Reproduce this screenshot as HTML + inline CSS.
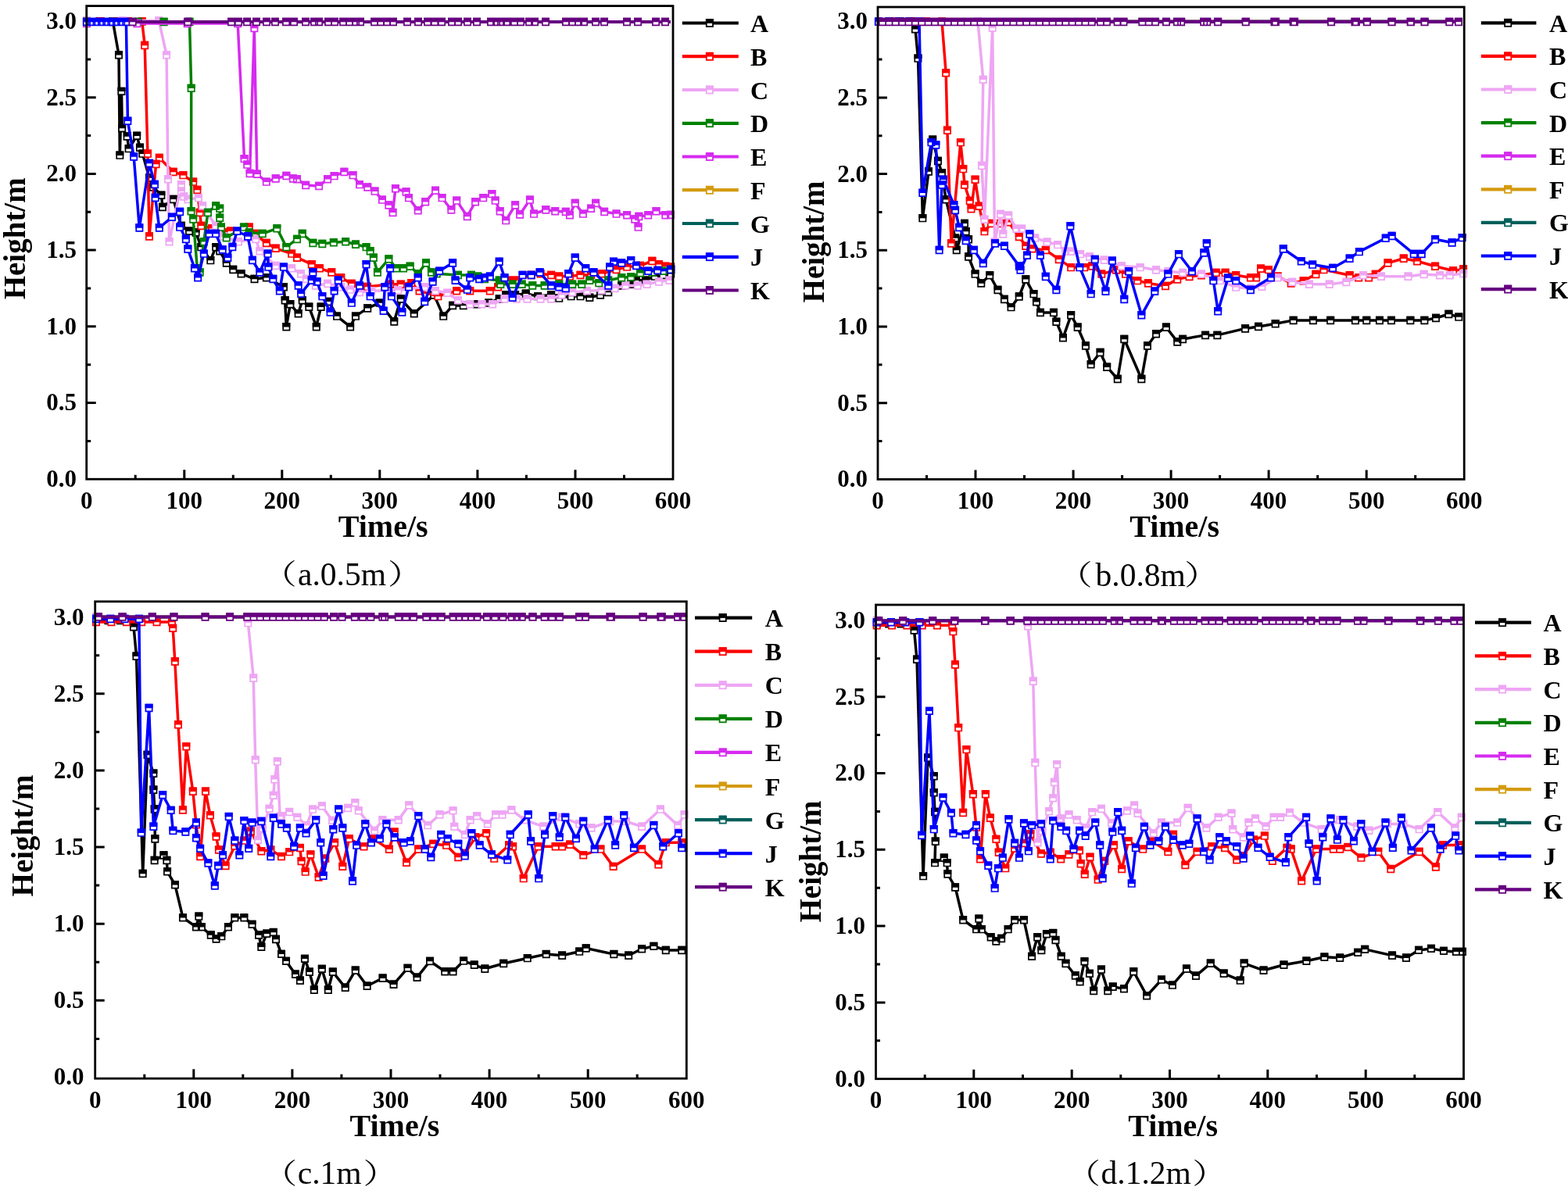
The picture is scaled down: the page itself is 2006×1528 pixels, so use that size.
<!DOCTYPE html>
<html><head><meta charset="utf-8"><title>Height vs Time</title>
<style>
html,body{margin:0;padding:0;background:#fff;}
body{width:2006px;height:1528px;overflow:hidden;}
svg{display:block;}
text{font-family:"Liberation Serif","Noto Serif CJK SC",serif;fill:#000;}
.tl text{font-size:31px;font-weight:bold;}
.at{font-size:40px;font-weight:bold;}
.ht{font-size:39px;font-weight:bold;}
.lg{font-size:32px;font-weight:bold;}
.cap{font-size:41.5px;}
.par{font-size:36px;}
</style></head><body>
<svg width="2006" height="1528" viewBox="0 0 2006 1528">
<rect width="2006" height="1528" fill="#fff"/>
<path d="M173.2 613.2 v-5.5 M235.8 613.2 v-12 M298.3 613.2 v-5.5 M360.8 613.2 v-12 M423.3 613.2 v-5.5 M485.8 613.2 v-12 M548.4 613.2 v-5.5 M610.9 613.2 v-12 M673.4 613.2 v-5.5 M736 613.2 v-12 M798.5 613.2 v-5.5 M110.7 564.4 h5.5 M110.7 515.5 h12 M110.7 466.7 h5.5 M110.7 417.8 h12 M110.7 369 h5.5 M110.7 320.1 h12 M110.7 271.3 h5.5 M110.7 222.4 h12 M110.7 173.6 h5.5 M110.7 124.7 h12 M110.7 75.9 h5.5 M110.7 27 h12" stroke="#000" stroke-width="3" fill="none"/>
<path d="M111 27.5 L127.7 27.5 L144.4 27.5 L152 70.4 L153.3 198.7 L155.5 116.9 L156.2 164 L162.7 174.5 L164.7 190.2 L175.2 173.8 L179 188.8 L182.4 196.7 L191 227.6 L196 239.6 L206.4 249.8 L208 265 L221.7 254.9 L231.9 289 L242.1 295.7 L250.6 297.4 L257.4 316.1 L269.3 333.1 L276.1 316.1 L281.2 321.2 L289.7 336.5 L298.2 345 L308.5 350.2 L325.5 357 L340.8 355.3 L362.9 367.2 L364.6 384.2 L366.3 418.2 L371.4 389.3 L381.6 401.2 L386.7 384.2 L395.3 392.7 L404.7 418.2 L410.6 392.7 L420.8 385.9 L431 404.6 L448.1 418.2 L454.9 404.6 L470.2 394.4 L485.5 387.6 L504.2 411.4 L512.7 382.5 L529.7 401.2 L555.3 377.4 L567.2 404.6 L579.1 391 L592.7 391 L609.7 389.3 L625 387.6 L638.7 382.5 L647.2 377.4 L659.1 377.4 L672.7 375.7 L688.1 379.1 L705.1 377.4 L715.3 381.6 L730.6 379.1 L742.5 379.1 L754.4 380.8 L768 377.4 L778.2 374 L795.3 365.5 L807.2 363.8 L814 358.7 L825.9 358.7 L837.8 353.6 L848 351.9 L858.2 350.2" fill="none" stroke="#000000" stroke-width="3.5" stroke-linejoin="round"/>
<path d="M106.8 23.2h8.3v8.7h-8.3zM123.5 23.2h8.3v8.7h-8.3zM140.2 23.2h8.3v8.7h-8.3zM147.8 66h8.3v8.7h-8.3zM149.2 194.3h8.3v8.7h-8.3zM151.3 112.5h8.3v8.7h-8.3zM152 159.7h8.3v8.7h-8.3zM158.5 170.2h8.3v8.7h-8.3zM160.5 185.8h8.3v8.7h-8.3zM171 169.5h8.3v8.7h-8.3zM174.8 184.5h8.3v8.7h-8.3zM178.2 192.3h8.3v8.7h-8.3zM186.8 223.2h8.3v8.7h-8.3zM191.8 235.2h8.3v8.7h-8.3zM202.2 245.5h8.3v8.7h-8.3zM203.8 260.7h8.3v8.7h-8.3zM217.5 250.6h8.3v8.7h-8.3zM227.8 284.7h8.3v8.7h-8.3zM237.9 291.4h8.3v8.7h-8.3zM246.4 293.1h8.3v8.7h-8.3zM253.2 311.8h8.3v8.7h-8.3zM265.2 328.8h8.3v8.7h-8.3zM272 311.8h8.3v8.7h-8.3zM277.1 316.9h8.3v8.7h-8.3zM285.6 332.2h8.3v8.7h-8.3zM294.1 340.7h8.3v8.7h-8.3zM304.4 345.9h8.3v8.7h-8.3zM321.4 352.7h8.3v8.7h-8.3zM336.7 351h8.3v8.7h-8.3zM358.8 362.9h8.3v8.7h-8.3zM360.5 379.9h8.3v8.7h-8.3zM362.2 413.9h8.3v8.7h-8.3zM367.2 385h8.3v8.7h-8.3zM377.5 396.9h8.3v8.7h-8.3zM382.6 379.9h8.3v8.7h-8.3zM391.2 388.4h8.3v8.7h-8.3zM400.6 413.9h8.3v8.7h-8.3zM406.5 388.4h8.3v8.7h-8.3zM416.7 381.6h8.3v8.7h-8.3zM426.9 400.3h8.3v8.7h-8.3zM444 413.9h8.3v8.7h-8.3zM450.8 400.3h8.3v8.7h-8.3zM466.1 390.1h8.3v8.7h-8.3zM481.4 383.3h8.3v8.7h-8.3zM500.1 407.1h8.3v8.7h-8.3zM508.6 378.2h8.3v8.7h-8.3zM525.6 396.9h8.3v8.7h-8.3zM551.1 373.1h8.3v8.7h-8.3zM563.1 400.3h8.3v8.7h-8.3zM575 386.7h8.3v8.7h-8.3zM588.6 386.7h8.3v8.7h-8.3zM605.6 385h8.3v8.7h-8.3zM620.9 383.3h8.3v8.7h-8.3zM634.6 378.2h8.3v8.7h-8.3zM643.1 373.1h8.3v8.7h-8.3zM655 373.1h8.3v8.7h-8.3zM668.6 371.4h8.3v8.7h-8.3zM684 374.8h8.3v8.7h-8.3zM701 373.1h8.3v8.7h-8.3zM711.1 377.3h8.3v8.7h-8.3zM726.5 374.8h8.3v8.7h-8.3zM738.4 374.8h8.3v8.7h-8.3zM750.2 376.5h8.3v8.7h-8.3zM763.9 373.1h8.3v8.7h-8.3zM774.1 369.7h8.3v8.7h-8.3zM791.1 361.2h8.3v8.7h-8.3zM803.1 359.5h8.3v8.7h-8.3zM809.9 354.4h8.3v8.7h-8.3zM821.8 354.4h8.3v8.7h-8.3zM833.6 349.3h8.3v8.7h-8.3zM843.9 347.6h8.3v8.7h-8.3zM854.1 345.9h8.3v8.7h-8.3z" fill="#fff" stroke="#000000" stroke-width="1.7"/><path d="M106 22.3h10v5.4h-10zM122.7 22.3h10v5.4h-10zM139.4 22.3h10v5.4h-10zM147 65.2h10v5.4h-10zM148.3 193.5h10v5.4h-10zM150.5 111.7h10v5.4h-10zM151.2 158.8h10v5.4h-10zM157.7 169.3h10v5.4h-10zM159.7 185h10v5.4h-10zM170.2 168.6h10v5.4h-10zM174 183.6h10v5.4h-10zM177.4 191.5h10v5.4h-10zM186 222.4h10v5.4h-10zM191 234.4h10v5.4h-10zM201.4 244.6h10v5.4h-10zM203 259.8h10v5.4h-10zM216.7 249.7h10v5.4h-10zM226.9 283.8h10v5.4h-10zM237.1 290.5h10v5.4h-10zM245.6 292.2h10v5.4h-10zM252.4 310.9h10v5.4h-10zM264.3 327.9h10v5.4h-10zM271.1 310.9h10v5.4h-10zM276.2 316h10v5.4h-10zM284.7 331.3h10v5.4h-10zM293.2 339.8h10v5.4h-10zM303.5 345h10v5.4h-10zM320.5 351.8h10v5.4h-10zM335.8 350.1h10v5.4h-10zM357.9 362h10v5.4h-10zM359.6 379h10v5.4h-10zM361.3 413h10v5.4h-10zM366.4 384.1h10v5.4h-10zM376.6 396h10v5.4h-10zM381.7 379h10v5.4h-10zM390.3 387.5h10v5.4h-10zM399.7 413h10v5.4h-10zM405.6 387.5h10v5.4h-10zM415.8 380.7h10v5.4h-10zM426 399.4h10v5.4h-10zM443.1 413h10v5.4h-10zM449.9 399.4h10v5.4h-10zM465.2 389.2h10v5.4h-10zM480.5 382.4h10v5.4h-10zM499.2 406.2h10v5.4h-10zM507.7 377.3h10v5.4h-10zM524.7 396h10v5.4h-10zM550.3 372.2h10v5.4h-10zM562.2 399.4h10v5.4h-10zM574.1 385.8h10v5.4h-10zM587.7 385.8h10v5.4h-10zM604.7 384.1h10v5.4h-10zM620 382.4h10v5.4h-10zM633.7 377.3h10v5.4h-10zM642.2 372.2h10v5.4h-10zM654.1 372.2h10v5.4h-10zM667.7 370.5h10v5.4h-10zM683.1 373.9h10v5.4h-10zM700.1 372.2h10v5.4h-10zM710.3 376.4h10v5.4h-10zM725.6 373.9h10v5.4h-10zM737.5 373.9h10v5.4h-10zM749.4 375.6h10v5.4h-10zM763 372.2h10v5.4h-10zM773.2 368.8h10v5.4h-10zM790.3 360.3h10v5.4h-10zM802.2 358.6h10v5.4h-10zM809 353.5h10v5.4h-10zM820.9 353.5h10v5.4h-10zM832.8 348.4h10v5.4h-10zM843 346.7h10v5.4h-10zM853.2 345h10v5.4h-10z" fill="#000000"/>
<path d="M111 27.5 L128.7 27.5 L146.3 27.5 L164 27.5 L181.7 27.5 L185.2 58 L188.9 196.7 L191 302.5 L199.6 210 L203.8 202 L221.7 220 L234.4 224.2 L247.2 232.7 L252.3 243 L255.7 271.9 L257.4 288.9 L271 292.3 L286.3 297.4 L294.8 295.7 L318.7 290.6 L325.5 299 L340.8 311 L352.7 317.8 L373.1 324.6 L380 329.7 L398.7 338.2 L408.9 343.3 L424.2 348.5 L436.2 355.3 L449.8 362.9 L470 367 L499.1 363.8 L512.7 363.8 L526.3 362.1 L536.5 372.3 L560.4 379.1 L584.2 372.3 L601.2 372.3 L626.7 372.3 L637 367.2 L652.3 358.7 L659.1 358.7 L679.6 351.9 L691.5 350.2 L705.1 351.9 L715.3 353.6 L728.9 353.6 L742.5 351.9 L756.1 351.9 L769.7 350.2 L788.5 345 L802.1 341.6 L819.1 340 L834.4 334 L842.9 338.2 L851.4 340.8 L858.2 341.6" fill="none" stroke="#ff0000" stroke-width="3.5" stroke-linejoin="round"/>
<path d="M106.8 23.2h8.3v8.7h-8.3zM124.5 23.2h8.3v8.7h-8.3zM142.2 23.2h8.3v8.7h-8.3zM159.9 23.2h8.3v8.7h-8.3zM177.5 23.2h8.3v8.7h-8.3zM181 53.6h8.3v8.7h-8.3zM184.8 192.3h8.3v8.7h-8.3zM186.8 298.2h8.3v8.7h-8.3zM195.4 205.7h8.3v8.7h-8.3zM199.7 197.7h8.3v8.7h-8.3zM217.5 215.7h8.3v8.7h-8.3zM230.2 219.8h8.3v8.7h-8.3zM243 228.3h8.3v8.7h-8.3zM248.2 238.7h8.3v8.7h-8.3zM251.5 267.6h8.3v8.7h-8.3zM253.2 284.6h8.3v8.7h-8.3zM266.9 288h8.3v8.7h-8.3zM282.2 293.1h8.3v8.7h-8.3zM290.7 291.4h8.3v8.7h-8.3zM314.6 286.3h8.3v8.7h-8.3zM321.4 294.7h8.3v8.7h-8.3zM336.7 306.7h8.3v8.7h-8.3zM348.6 313.5h8.3v8.7h-8.3zM369 320.3h8.3v8.7h-8.3zM375.9 325.4h8.3v8.7h-8.3zM394.6 333.9h8.3v8.7h-8.3zM404.8 339h8.3v8.7h-8.3zM420.1 344.2h8.3v8.7h-8.3zM432.1 351h8.3v8.7h-8.3zM445.7 358.6h8.3v8.7h-8.3zM465.9 362.7h8.3v8.7h-8.3zM495 359.5h8.3v8.7h-8.3zM508.6 359.5h8.3v8.7h-8.3zM522.1 357.8h8.3v8.7h-8.3zM532.4 368h8.3v8.7h-8.3zM556.2 374.8h8.3v8.7h-8.3zM580.1 368h8.3v8.7h-8.3zM597.1 368h8.3v8.7h-8.3zM622.6 368h8.3v8.7h-8.3zM632.9 362.9h8.3v8.7h-8.3zM648.1 354.4h8.3v8.7h-8.3zM655 354.4h8.3v8.7h-8.3zM675.5 347.6h8.3v8.7h-8.3zM687.4 345.9h8.3v8.7h-8.3zM701 347.6h8.3v8.7h-8.3zM711.1 349.3h8.3v8.7h-8.3zM724.8 349.3h8.3v8.7h-8.3zM738.4 347.6h8.3v8.7h-8.3zM752 347.6h8.3v8.7h-8.3zM765.6 345.9h8.3v8.7h-8.3zM784.4 340.7h8.3v8.7h-8.3zM798 337.3h8.3v8.7h-8.3zM815 335.7h8.3v8.7h-8.3zM830.2 329.7h8.3v8.7h-8.3zM838.8 333.9h8.3v8.7h-8.3zM847.2 336.5h8.3v8.7h-8.3zM854.1 337.3h8.3v8.7h-8.3z" fill="#fff" stroke="#ff0000" stroke-width="1.7"/><path d="M106 22.3h10v5.4h-10zM123.7 22.3h10v5.4h-10zM141.3 22.3h10v5.4h-10zM159 22.3h10v5.4h-10zM176.7 22.3h10v5.4h-10zM180.2 52.8h10v5.4h-10zM183.9 191.5h10v5.4h-10zM186 297.3h10v5.4h-10zM194.6 204.8h10v5.4h-10zM198.8 196.8h10v5.4h-10zM216.7 214.8h10v5.4h-10zM229.4 219h10v5.4h-10zM242.2 227.5h10v5.4h-10zM247.3 237.8h10v5.4h-10zM250.7 266.7h10v5.4h-10zM252.4 283.7h10v5.4h-10zM266 287.1h10v5.4h-10zM281.3 292.2h10v5.4h-10zM289.8 290.5h10v5.4h-10zM313.7 285.4h10v5.4h-10zM320.5 293.8h10v5.4h-10zM335.8 305.8h10v5.4h-10zM347.7 312.6h10v5.4h-10zM368.1 319.4h10v5.4h-10zM375 324.5h10v5.4h-10zM393.7 333h10v5.4h-10zM403.9 338.1h10v5.4h-10zM419.2 343.3h10v5.4h-10zM431.2 350.1h10v5.4h-10zM444.8 357.7h10v5.4h-10zM465 361.8h10v5.4h-10zM494.1 358.6h10v5.4h-10zM507.7 358.6h10v5.4h-10zM521.3 356.9h10v5.4h-10zM531.5 367.1h10v5.4h-10zM555.4 373.9h10v5.4h-10zM579.2 367.1h10v5.4h-10zM596.2 367.1h10v5.4h-10zM621.7 367.1h10v5.4h-10zM632 362h10v5.4h-10zM647.3 353.5h10v5.4h-10zM654.1 353.5h10v5.4h-10zM674.6 346.7h10v5.4h-10zM686.5 345h10v5.4h-10zM700.1 346.7h10v5.4h-10zM710.3 348.4h10v5.4h-10zM723.9 348.4h10v5.4h-10zM737.5 346.7h10v5.4h-10zM751.1 346.7h10v5.4h-10zM764.7 345h10v5.4h-10zM783.5 339.8h10v5.4h-10zM797.1 336.4h10v5.4h-10zM814.1 334.8h10v5.4h-10zM829.4 328.8h10v5.4h-10zM837.9 333h10v5.4h-10zM846.4 335.6h10v5.4h-10zM853.2 336.4h10v5.4h-10z" fill="#ff0000"/>
<path d="M111 26.5 L157.2 26.5 L203.3 26.5 L213.1 70.4 L214.9 229.3 L216.6 309.3 L231.9 236.2 L231.9 244.7 L235.3 251.5 L240.4 254.9 L254 253.2 L259.1 263.4 L276.1 289 L286.3 302.5 L305 309.3 L327.2 306 L332.3 321.2 L352.7 340 L373.1 343.3 L385 350.2 L391.8 357 L403.8 365.5 L419.1 362.9 L436.2 367.2 L448 370.6 L460 374 L475.3 372.3 L509.3 371.4 L543.3 367.2 L557 372.3 L572.3 374.8 L585.9 384.2 L601.2 389.3 L616.5 389.3 L630.1 389.3 L645.5 382.5 L660.8 382.5 L674.5 382.5 L691.5 382.5 L705.1 382.5 L718.7 377.4 L732.3 374 L751 372.3 L769.7 371.4 L786.7 368.9 L800.4 365.5 L815.7 365.5 L827.6 363.8 L842.9 360.4 L856.5 358.7" fill="none" stroke="#eea6f4" stroke-width="3.5" stroke-linejoin="round"/>
<path d="M106.8 22.2h8.3v8.7h-8.3zM153 22.2h8.3v8.7h-8.3zM199.2 22.2h8.3v8.7h-8.3zM208.9 66h8.3v8.7h-8.3zM210.8 225h8.3v8.7h-8.3zM212.4 305h8.3v8.7h-8.3zM227.8 231.8h8.3v8.7h-8.3zM227.8 240.3h8.3v8.7h-8.3zM231.2 247.2h8.3v8.7h-8.3zM236.2 250.6h8.3v8.7h-8.3zM249.8 248.8h8.3v8.7h-8.3zM255 259.1h8.3v8.7h-8.3zM272 284.7h8.3v8.7h-8.3zM282.2 298.2h8.3v8.7h-8.3zM300.9 305h8.3v8.7h-8.3zM323.1 301.7h8.3v8.7h-8.3zM328.2 316.9h8.3v8.7h-8.3zM348.6 335.7h8.3v8.7h-8.3zM369 339h8.3v8.7h-8.3zM380.9 345.9h8.3v8.7h-8.3zM387.7 352.7h8.3v8.7h-8.3zM399.7 361.2h8.3v8.7h-8.3zM415 358.6h8.3v8.7h-8.3zM432.1 362.9h8.3v8.7h-8.3zM443.9 366.3h8.3v8.7h-8.3zM455.9 369.7h8.3v8.7h-8.3zM471.2 368h8.3v8.7h-8.3zM505.2 367.1h8.3v8.7h-8.3zM539.1 362.9h8.3v8.7h-8.3zM552.9 368h8.3v8.7h-8.3zM568.1 370.5h8.3v8.7h-8.3zM581.8 379.9h8.3v8.7h-8.3zM597.1 385h8.3v8.7h-8.3zM612.4 385h8.3v8.7h-8.3zM626 385h8.3v8.7h-8.3zM641.4 378.2h8.3v8.7h-8.3zM656.6 378.2h8.3v8.7h-8.3zM670.4 378.2h8.3v8.7h-8.3zM687.4 378.2h8.3v8.7h-8.3zM701 378.2h8.3v8.7h-8.3zM714.6 373.1h8.3v8.7h-8.3zM728.1 369.7h8.3v8.7h-8.3zM746.9 368h8.3v8.7h-8.3zM765.6 367.1h8.3v8.7h-8.3zM782.6 364.6h8.3v8.7h-8.3zM796.2 361.2h8.3v8.7h-8.3zM811.6 361.2h8.3v8.7h-8.3zM823.5 359.5h8.3v8.7h-8.3zM838.8 356.1h8.3v8.7h-8.3zM852.4 354.4h8.3v8.7h-8.3z" fill="#fff" stroke="#eea6f4" stroke-width="1.7"/><path d="M106 21.3h10v5.4h-10zM152.2 21.3h10v5.4h-10zM198.3 21.3h10v5.4h-10zM208.1 65.2h10v5.4h-10zM209.9 224.1h10v5.4h-10zM211.6 304.1h10v5.4h-10zM226.9 231h10v5.4h-10zM226.9 239.5h10v5.4h-10zM230.3 246.3h10v5.4h-10zM235.4 249.7h10v5.4h-10zM249 248h10v5.4h-10zM254.1 258.2h10v5.4h-10zM271.1 283.8h10v5.4h-10zM281.3 297.3h10v5.4h-10zM300 304.1h10v5.4h-10zM322.2 300.8h10v5.4h-10zM327.3 316h10v5.4h-10zM347.7 334.8h10v5.4h-10zM368.1 338.1h10v5.4h-10zM380 345h10v5.4h-10zM386.8 351.8h10v5.4h-10zM398.8 360.3h10v5.4h-10zM414.1 357.7h10v5.4h-10zM431.2 362h10v5.4h-10zM443 365.4h10v5.4h-10zM455 368.8h10v5.4h-10zM470.3 367.1h10v5.4h-10zM504.3 366.2h10v5.4h-10zM538.3 362h10v5.4h-10zM552 367.1h10v5.4h-10zM567.3 369.6h10v5.4h-10zM580.9 379h10v5.4h-10zM596.2 384.1h10v5.4h-10zM611.5 384.1h10v5.4h-10zM625.1 384.1h10v5.4h-10zM640.5 377.3h10v5.4h-10zM655.8 377.3h10v5.4h-10zM669.5 377.3h10v5.4h-10zM686.5 377.3h10v5.4h-10zM700.1 377.3h10v5.4h-10zM713.7 372.2h10v5.4h-10zM727.3 368.8h10v5.4h-10zM746 367.1h10v5.4h-10zM764.7 366.2h10v5.4h-10zM781.7 363.7h10v5.4h-10zM795.4 360.3h10v5.4h-10zM810.7 360.3h10v5.4h-10zM822.6 358.6h10v5.4h-10zM837.9 355.2h10v5.4h-10zM851.5 353.5h10v5.4h-10z" fill="#eea6f4"/>
<path d="M111 28 L143.9 28 L176.8 28 L209.6 28 L242.5 28 L244.7 112.9 L244.6 270.2 L247.2 280.4 L252.3 343.3 L255.7 348.5 L260.8 309.3 L265.9 271.9 L276.1 263.4 L281.2 266.8 L281.2 278.7 L283 290.6 L289.7 304.2 L311.9 290.6 L318.7 297.4 L335.7 299 L354.4 292.3 L366.3 316.1 L380 305.9 L386.7 299 L400.4 311 L412.3 311.9 L426.8 310.2 L442.1 309.3 L454.9 312.7 L468.5 316.1 L473.6 321.2 L477.8 329.7 L482.9 348.5 L497.4 331.4 L506.8 343.3 L516.1 343.3 L524.6 340.8 L534.8 350.2 L545 336.5 L551.9 348.5 L558.7 350.2 L585.9 351.9 L602.9 351.9 L611.4 353.6 L620 357 L638.7 358.7 L640.4 363.8 L655.7 363.8 L667.6 363.8 L681.3 365.5 L696.6 365.5 L715.3 363.8 L732.3 363.8 L744.2 363.8 L754.4 358.7 L766.3 362.1 L778.2 358.7 L795.3 355.3 L807.2 354.4 L819.1 349.3 L834.4 348.5 L848 346.8 L858.2 345" fill="none" stroke="#008000" stroke-width="3.5" stroke-linejoin="round"/>
<path d="M106.8 23.7h8.3v8.7h-8.3zM139.7 23.7h8.3v8.7h-8.3zM172.6 23.7h8.3v8.7h-8.3zM205.5 23.7h8.3v8.7h-8.3zM238.3 23.7h8.3v8.7h-8.3zM240.5 108.5h8.3v8.7h-8.3zM240.4 265.9h8.3v8.7h-8.3zM243 276.1h8.3v8.7h-8.3zM248.2 339h8.3v8.7h-8.3zM251.5 344.2h8.3v8.7h-8.3zM256.7 305h8.3v8.7h-8.3zM261.8 267.6h8.3v8.7h-8.3zM272 259.1h8.3v8.7h-8.3zM277.1 262.5h8.3v8.7h-8.3zM277.1 274.4h8.3v8.7h-8.3zM278.9 286.3h8.3v8.7h-8.3zM285.6 299.9h8.3v8.7h-8.3zM307.8 286.3h8.3v8.7h-8.3zM314.6 293.1h8.3v8.7h-8.3zM331.6 294.7h8.3v8.7h-8.3zM350.2 288h8.3v8.7h-8.3zM362.2 311.8h8.3v8.7h-8.3zM375.9 301.6h8.3v8.7h-8.3zM382.6 294.7h8.3v8.7h-8.3zM396.2 306.7h8.3v8.7h-8.3zM408.2 307.6h8.3v8.7h-8.3zM422.7 305.9h8.3v8.7h-8.3zM438 305h8.3v8.7h-8.3zM450.8 308.4h8.3v8.7h-8.3zM464.4 311.8h8.3v8.7h-8.3zM469.5 316.9h8.3v8.7h-8.3zM473.7 325.4h8.3v8.7h-8.3zM478.8 344.2h8.3v8.7h-8.3zM493.2 327.1h8.3v8.7h-8.3zM502.7 339h8.3v8.7h-8.3zM512 339h8.3v8.7h-8.3zM520.5 336.5h8.3v8.7h-8.3zM530.6 345.9h8.3v8.7h-8.3zM540.9 332.2h8.3v8.7h-8.3zM547.8 344.2h8.3v8.7h-8.3zM554.6 345.9h8.3v8.7h-8.3zM581.8 347.6h8.3v8.7h-8.3zM598.8 347.6h8.3v8.7h-8.3zM607.2 349.3h8.3v8.7h-8.3zM615.9 352.7h8.3v8.7h-8.3zM634.6 354.4h8.3v8.7h-8.3zM636.2 359.5h8.3v8.7h-8.3zM651.6 359.5h8.3v8.7h-8.3zM663.5 359.5h8.3v8.7h-8.3zM677.1 361.2h8.3v8.7h-8.3zM692.5 361.2h8.3v8.7h-8.3zM711.1 359.5h8.3v8.7h-8.3zM728.1 359.5h8.3v8.7h-8.3zM740.1 359.5h8.3v8.7h-8.3zM750.2 354.4h8.3v8.7h-8.3zM762.1 357.8h8.3v8.7h-8.3zM774.1 354.4h8.3v8.7h-8.3zM791.1 351h8.3v8.7h-8.3zM803.1 350.1h8.3v8.7h-8.3zM815 345h8.3v8.7h-8.3zM830.2 344.2h8.3v8.7h-8.3zM843.9 342.5h8.3v8.7h-8.3zM854.1 340.7h8.3v8.7h-8.3z" fill="#fff" stroke="#008000" stroke-width="1.7"/><path d="M106 22.8h10v5.4h-10zM138.9 22.8h10v5.4h-10zM171.8 22.8h10v5.4h-10zM204.6 22.8h10v5.4h-10zM237.5 22.8h10v5.4h-10zM239.7 107.7h10v5.4h-10zM239.6 265h10v5.4h-10zM242.2 275.2h10v5.4h-10zM247.3 338.1h10v5.4h-10zM250.7 343.3h10v5.4h-10zM255.8 304.1h10v5.4h-10zM260.9 266.7h10v5.4h-10zM271.1 258.2h10v5.4h-10zM276.2 261.6h10v5.4h-10zM276.2 273.5h10v5.4h-10zM278 285.4h10v5.4h-10zM284.7 299h10v5.4h-10zM306.9 285.4h10v5.4h-10zM313.7 292.2h10v5.4h-10zM330.7 293.8h10v5.4h-10zM349.4 287.1h10v5.4h-10zM361.3 310.9h10v5.4h-10zM375 300.7h10v5.4h-10zM381.7 293.8h10v5.4h-10zM395.4 305.8h10v5.4h-10zM407.3 306.7h10v5.4h-10zM421.8 305h10v5.4h-10zM437.1 304.1h10v5.4h-10zM449.9 307.5h10v5.4h-10zM463.5 310.9h10v5.4h-10zM468.6 316h10v5.4h-10zM472.8 324.5h10v5.4h-10zM477.9 343.3h10v5.4h-10zM492.4 326.2h10v5.4h-10zM501.8 338.1h10v5.4h-10zM511.1 338.1h10v5.4h-10zM519.6 335.6h10v5.4h-10zM529.8 345h10v5.4h-10zM540 331.3h10v5.4h-10zM546.9 343.3h10v5.4h-10zM553.7 345h10v5.4h-10zM580.9 346.7h10v5.4h-10zM597.9 346.7h10v5.4h-10zM606.4 348.4h10v5.4h-10zM615 351.8h10v5.4h-10zM633.7 353.5h10v5.4h-10zM635.4 358.6h10v5.4h-10zM650.7 358.6h10v5.4h-10zM662.6 358.6h10v5.4h-10zM676.3 360.3h10v5.4h-10zM691.6 360.3h10v5.4h-10zM710.3 358.6h10v5.4h-10zM727.3 358.6h10v5.4h-10zM739.2 358.6h10v5.4h-10zM749.4 353.5h10v5.4h-10zM761.3 356.9h10v5.4h-10zM773.2 353.5h10v5.4h-10zM790.3 350.1h10v5.4h-10zM802.2 349.2h10v5.4h-10zM814.1 344.1h10v5.4h-10zM829.4 343.3h10v5.4h-10zM843 341.6h10v5.4h-10zM853.2 339.8h10v5.4h-10z" fill="#008000"/>
<path d="M111 30 L175.4 30 L239.8 30 L304.2 30 L312.5 203.2 L316.2 210.7 L319.5 222 L325.3 36 L328.8 222.8 L340.8 232.7 L352.7 228.5 L366.3 225 L374.8 228.5 L380 229.3 L391.1 237 L408.1 237.9 L419.1 229.3 L427.6 225.1 L440.4 220 L451.5 224.2 L460 236.2 L470.2 239.6 L479.5 244.7 L488.9 255.7 L497.4 262.5 L502.5 271.9 L505.9 241.3 L519.5 245.5 L522.9 253.2 L534.8 269.3 L544.2 258.3 L557 243.8 L565.5 253.2 L577.4 268.5 L584.2 256.6 L597.8 277 L608 258.3 L618.2 253.2 L629.4 248.1 L633.6 256.6 L639.6 270.2 L647.2 282.1 L659.1 262.5 L665.1 274.4 L677.9 255.7 L683 273.6 L698.3 268.5 L710.2 270.2 L723.8 271 L728.9 275.3 L735.7 260 L745.9 273.6 L756.1 266.8 L762.1 260 L773.1 271 L788.5 273.6 L802.1 275.3 L812.3 280.4 L816.5 290.6 L817.4 277 L829.3 275.3 L839.5 270.2 L851.4 275.3 L858 275" fill="none" stroke="#d62af0" stroke-width="3.5" stroke-linejoin="round"/>
<path d="M106.8 25.7h8.3v8.7h-8.3zM171.2 25.7h8.3v8.7h-8.3zM235.6 25.7h8.3v8.7h-8.3zM300 25.7h8.3v8.7h-8.3zM308.4 198.8h8.3v8.7h-8.3zM312.1 206.3h8.3v8.7h-8.3zM315.4 217.7h8.3v8.7h-8.3zM321.2 31.7h8.3v8.7h-8.3zM324.7 218.5h8.3v8.7h-8.3zM336.7 228.3h8.3v8.7h-8.3zM348.6 224.2h8.3v8.7h-8.3zM362.2 220.7h8.3v8.7h-8.3zM370.7 224.2h8.3v8.7h-8.3zM375.9 225h8.3v8.7h-8.3zM387 232.7h8.3v8.7h-8.3zM404 233.6h8.3v8.7h-8.3zM415 225h8.3v8.7h-8.3zM423.5 220.8h8.3v8.7h-8.3zM436.2 215.7h8.3v8.7h-8.3zM447.4 219.8h8.3v8.7h-8.3zM455.9 231.8h8.3v8.7h-8.3zM466.1 235.2h8.3v8.7h-8.3zM475.4 240.3h8.3v8.7h-8.3zM484.8 251.3h8.3v8.7h-8.3zM493.2 258.2h8.3v8.7h-8.3zM498.4 267.6h8.3v8.7h-8.3zM501.8 237h8.3v8.7h-8.3zM515.4 241.2h8.3v8.7h-8.3zM518.8 248.8h8.3v8.7h-8.3zM530.6 265h8.3v8.7h-8.3zM540.1 254h8.3v8.7h-8.3zM552.9 239.5h8.3v8.7h-8.3zM561.4 248.8h8.3v8.7h-8.3zM573.2 264.2h8.3v8.7h-8.3zM580.1 252.3h8.3v8.7h-8.3zM593.6 272.7h8.3v8.7h-8.3zM603.9 254h8.3v8.7h-8.3zM614.1 248.8h8.3v8.7h-8.3zM625.2 243.8h8.3v8.7h-8.3zM629.5 252.3h8.3v8.7h-8.3zM635.5 265.9h8.3v8.7h-8.3zM643.1 277.8h8.3v8.7h-8.3zM655 258.2h8.3v8.7h-8.3zM661 270.1h8.3v8.7h-8.3zM673.8 251.3h8.3v8.7h-8.3zM678.9 269.3h8.3v8.7h-8.3zM694.1 264.2h8.3v8.7h-8.3zM706.1 265.9h8.3v8.7h-8.3zM719.6 266.7h8.3v8.7h-8.3zM724.8 271h8.3v8.7h-8.3zM731.6 255.7h8.3v8.7h-8.3zM741.8 269.3h8.3v8.7h-8.3zM752 262.5h8.3v8.7h-8.3zM758 255.7h8.3v8.7h-8.3zM769 266.7h8.3v8.7h-8.3zM784.4 269.3h8.3v8.7h-8.3zM798 271h8.3v8.7h-8.3zM808.1 276.1h8.3v8.7h-8.3zM812.4 286.3h8.3v8.7h-8.3zM813.2 272.7h8.3v8.7h-8.3zM825.1 271h8.3v8.7h-8.3zM835.4 265.9h8.3v8.7h-8.3zM847.2 271h8.3v8.7h-8.3zM853.9 270.7h8.3v8.7h-8.3z" fill="#fff" stroke="#d62af0" stroke-width="1.7"/><path d="M106 24.8h10v5.4h-10zM170.4 24.8h10v5.4h-10zM234.8 24.8h10v5.4h-10zM299.2 24.8h10v5.4h-10zM307.5 198h10v5.4h-10zM311.2 205.5h10v5.4h-10zM314.5 216.8h10v5.4h-10zM320.3 30.8h10v5.4h-10zM323.8 217.6h10v5.4h-10zM335.8 227.5h10v5.4h-10zM347.7 223.3h10v5.4h-10zM361.3 219.8h10v5.4h-10zM369.8 223.3h10v5.4h-10zM375 224.1h10v5.4h-10zM386.1 231.8h10v5.4h-10zM403.1 232.7h10v5.4h-10zM414.1 224.1h10v5.4h-10zM422.6 219.9h10v5.4h-10zM435.4 214.8h10v5.4h-10zM446.5 219h10v5.4h-10zM455 231h10v5.4h-10zM465.2 234.4h10v5.4h-10zM474.5 239.5h10v5.4h-10zM483.9 250.5h10v5.4h-10zM492.4 257.3h10v5.4h-10zM497.5 266.7h10v5.4h-10zM500.9 236.1h10v5.4h-10zM514.5 240.3h10v5.4h-10zM517.9 248h10v5.4h-10zM529.8 264.1h10v5.4h-10zM539.2 253.1h10v5.4h-10zM552 238.6h10v5.4h-10zM560.5 248h10v5.4h-10zM572.4 263.3h10v5.4h-10zM579.2 251.4h10v5.4h-10zM592.8 271.8h10v5.4h-10zM603 253.1h10v5.4h-10zM613.2 248h10v5.4h-10zM624.4 242.9h10v5.4h-10zM628.6 251.4h10v5.4h-10zM634.6 265h10v5.4h-10zM642.2 276.9h10v5.4h-10zM654.1 257.3h10v5.4h-10zM660.1 269.2h10v5.4h-10zM672.9 250.5h10v5.4h-10zM678 268.4h10v5.4h-10zM693.3 263.3h10v5.4h-10zM705.2 265h10v5.4h-10zM718.8 265.8h10v5.4h-10zM723.9 270.1h10v5.4h-10zM730.7 254.8h10v5.4h-10zM740.9 268.4h10v5.4h-10zM751.1 261.6h10v5.4h-10zM757.1 254.8h10v5.4h-10zM768.1 265.8h10v5.4h-10zM783.5 268.4h10v5.4h-10zM797.1 270.1h10v5.4h-10zM807.3 275.2h10v5.4h-10zM811.5 285.4h10v5.4h-10zM812.4 271.8h10v5.4h-10zM824.3 270.1h10v5.4h-10zM834.5 265h10v5.4h-10zM846.4 270.1h10v5.4h-10zM853 269.8h10v5.4h-10z" fill="#d62af0"/>
<path d="M111 28 L140.9 28 L170.8 28 L200.6 28 L230.5 28 L260.4 28 L290.3 28 L320.2 28 L350 28 L379.9 28 L409.8 28 L439.7 28 L469.6 28 L499.4 28 L529.3 28 L559.2 28 L589.1 28 L619 28 L648.8 28 L678.7 28 L708.6 28 L738.5 28 L768.4 28 L798.2 28 L828.1 28 L858 28" fill="none" stroke="#d49b10" stroke-width="3.5" stroke-linejoin="round"/>
<path d="" fill="#fff" stroke="#d49b10" stroke-width="1.7"/><path d="" fill="#d49b10"/>
<path d="M111 28 L140.9 28 L170.8 28 L200.6 28 L230.5 28 L260.4 28 L290.3 28 L320.2 28 L350 28 L379.9 28 L409.8 28 L439.7 28 L469.6 28 L499.4 28 L529.3 28 L559.2 28 L589.1 28 L619 28 L648.8 28 L678.7 28 L708.6 28 L738.5 28 L768.4 28 L798.2 28 L828.1 28 L858 28" fill="none" stroke="#005f5a" stroke-width="3.5" stroke-linejoin="round"/>
<path d="" fill="#fff" stroke="#005f5a" stroke-width="1.7"/><path d="" fill="#005f5a"/>
<path d="M111 28 L117.3 28 L123.6 28 L129.9 28 L136.2 28 L142.5 28 L148.8 28 L155.1 28 L161.4 28 L163.4 154.8 L171.2 200.6 L178.3 291.5 L191 209 L197.9 236 L198.7 253 L203.8 291.5 L220 277.8 L230.2 271 L230.2 290.6 L237.8 306 L240.4 318.7 L248.9 343.3 L253.2 355.3 L260.8 324.6 L267.6 299 L276 299 L284.6 319.5 L291.4 329.7 L297.4 316 L303.3 295.7 L317 302.5 L322.9 333 L332.3 348.5 L342.5 324.6 L343.3 341.6 L349.3 357 L357.8 372.3 L362.9 341.6 L381.6 365.5 L385.1 375.7 L398.7 358.7 L400.4 348.5 L405.5 360.4 L412.3 379.1 L422.5 399.5 L427.6 372.3 L432.7 358.7 L449.8 387.6 L460 365.5 L468.5 338.2 L473.6 379.1 L490.6 397.8 L492.3 367.2 L499.1 343.3 L500.8 379.1 L514.4 399.5 L522.9 367.2 L534.8 355.3 L543.3 385.9 L553.6 360.4 L562.1 346.8 L579.1 336.5 L582.5 358.7 L597.8 370.6 L601.2 355.3 L613.1 357 L620 355.3 L626.8 353.6 L638.7 334.8 L645.5 355.3 L655.7 380.8 L668.5 351.9 L679.6 351.9 L690.6 348.5 L705.1 365.5 L715.3 367.2 L723.8 368.9 L727.2 350.2 L735.7 329.7 L749.3 343.3 L759.5 348.5 L778.2 365.5 L780 341.6 L785 334.8 L795.3 336.5 L807.2 333.1 L814 340 L829.3 346.8 L841.2 345.9 L858.2 345" fill="none" stroke="#0000ff" stroke-width="3.5" stroke-linejoin="round"/>
<path d="M106.8 23.7h8.3v8.7h-8.3zM113.1 23.7h8.3v8.7h-8.3zM119.4 23.7h8.3v8.7h-8.3zM125.8 23.7h8.3v8.7h-8.3zM132 23.7h8.3v8.7h-8.3zM138.3 23.7h8.3v8.7h-8.3zM144.7 23.7h8.3v8.7h-8.3zM151 23.7h8.3v8.7h-8.3zM157.2 23.7h8.3v8.7h-8.3zM159.2 150.5h8.3v8.7h-8.3zM167 196.2h8.3v8.7h-8.3zM174.2 287.2h8.3v8.7h-8.3zM186.8 204.7h8.3v8.7h-8.3zM193.8 231.7h8.3v8.7h-8.3zM194.5 248.7h8.3v8.7h-8.3zM199.7 287.2h8.3v8.7h-8.3zM215.8 273.5h8.3v8.7h-8.3zM226 266.7h8.3v8.7h-8.3zM226 286.3h8.3v8.7h-8.3zM233.7 301.7h8.3v8.7h-8.3zM236.2 314.4h8.3v8.7h-8.3zM244.8 339h8.3v8.7h-8.3zM249 351h8.3v8.7h-8.3zM256.7 320.3h8.3v8.7h-8.3zM263.5 294.7h8.3v8.7h-8.3zM271.9 294.7h8.3v8.7h-8.3zM280.5 315.2h8.3v8.7h-8.3zM287.2 325.4h8.3v8.7h-8.3zM293.2 311.7h8.3v8.7h-8.3zM299.2 291.4h8.3v8.7h-8.3zM312.9 298.2h8.3v8.7h-8.3zM318.8 328.7h8.3v8.7h-8.3zM328.2 344.2h8.3v8.7h-8.3zM338.4 320.3h8.3v8.7h-8.3zM339.2 337.3h8.3v8.7h-8.3zM345.2 352.7h8.3v8.7h-8.3zM353.7 368h8.3v8.7h-8.3zM358.8 337.3h8.3v8.7h-8.3zM377.5 361.2h8.3v8.7h-8.3zM381 371.4h8.3v8.7h-8.3zM394.6 354.4h8.3v8.7h-8.3zM396.2 344.2h8.3v8.7h-8.3zM401.4 356.1h8.3v8.7h-8.3zM408.2 374.8h8.3v8.7h-8.3zM418.4 395.2h8.3v8.7h-8.3zM423.5 368h8.3v8.7h-8.3zM428.6 354.4h8.3v8.7h-8.3zM445.7 383.3h8.3v8.7h-8.3zM455.9 361.2h8.3v8.7h-8.3zM464.4 333.9h8.3v8.7h-8.3zM469.5 374.8h8.3v8.7h-8.3zM486.5 393.5h8.3v8.7h-8.3zM488.2 362.9h8.3v8.7h-8.3zM495 339h8.3v8.7h-8.3zM496.7 374.8h8.3v8.7h-8.3zM510.2 395.2h8.3v8.7h-8.3zM518.8 362.9h8.3v8.7h-8.3zM530.6 351h8.3v8.7h-8.3zM539.1 381.6h8.3v8.7h-8.3zM549.5 356.1h8.3v8.7h-8.3zM558 342.5h8.3v8.7h-8.3zM575 332.2h8.3v8.7h-8.3zM578.4 354.4h8.3v8.7h-8.3zM593.6 366.3h8.3v8.7h-8.3zM597.1 351h8.3v8.7h-8.3zM609 352.7h8.3v8.7h-8.3zM615.9 351h8.3v8.7h-8.3zM622.6 349.3h8.3v8.7h-8.3zM634.6 330.5h8.3v8.7h-8.3zM641.4 351h8.3v8.7h-8.3zM651.6 376.5h8.3v8.7h-8.3zM664.4 347.6h8.3v8.7h-8.3zM675.5 347.6h8.3v8.7h-8.3zM686.5 344.2h8.3v8.7h-8.3zM701 361.2h8.3v8.7h-8.3zM711.1 362.9h8.3v8.7h-8.3zM719.6 364.6h8.3v8.7h-8.3zM723.1 345.9h8.3v8.7h-8.3zM731.6 325.4h8.3v8.7h-8.3zM745.1 339h8.3v8.7h-8.3zM755.4 344.2h8.3v8.7h-8.3zM774.1 361.2h8.3v8.7h-8.3zM775.9 337.3h8.3v8.7h-8.3zM780.9 330.5h8.3v8.7h-8.3zM791.1 332.2h8.3v8.7h-8.3zM803.1 328.8h8.3v8.7h-8.3zM809.9 335.7h8.3v8.7h-8.3zM825.1 342.5h8.3v8.7h-8.3zM837.1 341.6h8.3v8.7h-8.3zM854.1 340.7h8.3v8.7h-8.3z" fill="#fff" stroke="#0000ff" stroke-width="1.7"/><path d="M106 22.8h10v5.4h-10zM112.3 22.8h10v5.4h-10zM118.6 22.8h10v5.4h-10zM124.9 22.8h10v5.4h-10zM131.2 22.8h10v5.4h-10zM137.5 22.8h10v5.4h-10zM143.8 22.8h10v5.4h-10zM150.1 22.8h10v5.4h-10zM156.4 22.8h10v5.4h-10zM158.4 149.6h10v5.4h-10zM166.2 195.4h10v5.4h-10zM173.3 286.3h10v5.4h-10zM186 203.8h10v5.4h-10zM192.9 230.8h10v5.4h-10zM193.7 247.8h10v5.4h-10zM198.8 286.3h10v5.4h-10zM215 272.6h10v5.4h-10zM225.2 265.8h10v5.4h-10zM225.2 285.4h10v5.4h-10zM232.8 300.8h10v5.4h-10zM235.4 313.5h10v5.4h-10zM243.9 338.1h10v5.4h-10zM248.2 350.1h10v5.4h-10zM255.8 319.4h10v5.4h-10zM262.6 293.8h10v5.4h-10zM271 293.8h10v5.4h-10zM279.6 314.3h10v5.4h-10zM286.4 324.5h10v5.4h-10zM292.4 310.8h10v5.4h-10zM298.3 290.5h10v5.4h-10zM312 297.3h10v5.4h-10zM317.9 327.8h10v5.4h-10zM327.3 343.3h10v5.4h-10zM337.5 319.4h10v5.4h-10zM338.3 336.4h10v5.4h-10zM344.3 351.8h10v5.4h-10zM352.8 367.1h10v5.4h-10zM357.9 336.4h10v5.4h-10zM376.6 360.3h10v5.4h-10zM380.1 370.5h10v5.4h-10zM393.7 353.5h10v5.4h-10zM395.4 343.3h10v5.4h-10zM400.5 355.2h10v5.4h-10zM407.3 373.9h10v5.4h-10zM417.5 394.3h10v5.4h-10zM422.6 367.1h10v5.4h-10zM427.7 353.5h10v5.4h-10zM444.8 382.4h10v5.4h-10zM455 360.3h10v5.4h-10zM463.5 333h10v5.4h-10zM468.6 373.9h10v5.4h-10zM485.6 392.6h10v5.4h-10zM487.3 362h10v5.4h-10zM494.1 338.1h10v5.4h-10zM495.8 373.9h10v5.4h-10zM509.4 394.3h10v5.4h-10zM517.9 362h10v5.4h-10zM529.8 350.1h10v5.4h-10zM538.3 380.7h10v5.4h-10zM548.6 355.2h10v5.4h-10zM557.1 341.6h10v5.4h-10zM574.1 331.3h10v5.4h-10zM577.5 353.5h10v5.4h-10zM592.8 365.4h10v5.4h-10zM596.2 350.1h10v5.4h-10zM608.1 351.8h10v5.4h-10zM615 350.1h10v5.4h-10zM621.8 348.4h10v5.4h-10zM633.7 329.6h10v5.4h-10zM640.5 350.1h10v5.4h-10zM650.7 375.6h10v5.4h-10zM663.5 346.7h10v5.4h-10zM674.6 346.7h10v5.4h-10zM685.6 343.3h10v5.4h-10zM700.1 360.3h10v5.4h-10zM710.3 362h10v5.4h-10zM718.8 363.7h10v5.4h-10zM722.2 345h10v5.4h-10zM730.7 324.5h10v5.4h-10zM744.3 338.1h10v5.4h-10zM754.5 343.3h10v5.4h-10zM773.2 360.3h10v5.4h-10zM775 336.4h10v5.4h-10zM780 329.6h10v5.4h-10zM790.3 331.3h10v5.4h-10zM802.2 327.9h10v5.4h-10zM809 334.8h10v5.4h-10zM824.3 341.6h10v5.4h-10zM836.2 340.7h10v5.4h-10zM853.2 339.8h10v5.4h-10z" fill="#0000ff"/>
<path d="M165 28 L169.7 28 L240.3 28 L296 28 L305 28 L316 28 L328 28 L341 28 L352 28 L366 28 L376 28 L391 28 L402 28 L408 28 L420 28 L428 28 L439 28 L447 28 L455 28 L461 28 L479 28 L487 28 L495 28 L503 28 L521 28 L535 28 L547 28 L556 28 L565 28 L578 28 L586 28 L598 28 L610 28 L628 28 L635 28 L641 28 L648 28 L658 28 L666 28 L677 28 L684 28 L698 28 L724 28 L732 28 L740 28 L747 28 L762 28 L773 28 L802 28 L816 28 L839 28 L851 28 L858 28" fill="none" stroke="#660080" stroke-width="4.2" stroke-linejoin="round"/>
<path d="M165.5 23.7h8.3v8.7h-8.3zM236.2 23.7h8.3v8.7h-8.3zM291.9 23.7h8.3v8.7h-8.3zM300.9 23.7h8.3v8.7h-8.3zM311.9 23.7h8.3v8.7h-8.3zM323.9 23.7h8.3v8.7h-8.3zM336.9 23.7h8.3v8.7h-8.3zM347.9 23.7h8.3v8.7h-8.3zM361.9 23.7h8.3v8.7h-8.3zM371.9 23.7h8.3v8.7h-8.3zM386.9 23.7h8.3v8.7h-8.3zM397.9 23.7h8.3v8.7h-8.3zM403.9 23.7h8.3v8.7h-8.3zM415.9 23.7h8.3v8.7h-8.3zM423.9 23.7h8.3v8.7h-8.3zM434.9 23.7h8.3v8.7h-8.3zM442.9 23.7h8.3v8.7h-8.3zM450.9 23.7h8.3v8.7h-8.3zM456.9 23.7h8.3v8.7h-8.3zM474.9 23.7h8.3v8.7h-8.3zM482.9 23.7h8.3v8.7h-8.3zM490.9 23.7h8.3v8.7h-8.3zM498.9 23.7h8.3v8.7h-8.3zM516.9 23.7h8.3v8.7h-8.3zM530.9 23.7h8.3v8.7h-8.3zM542.9 23.7h8.3v8.7h-8.3zM551.9 23.7h8.3v8.7h-8.3zM560.9 23.7h8.3v8.7h-8.3zM573.9 23.7h8.3v8.7h-8.3zM581.9 23.7h8.3v8.7h-8.3zM593.9 23.7h8.3v8.7h-8.3zM605.9 23.7h8.3v8.7h-8.3zM623.9 23.7h8.3v8.7h-8.3zM630.9 23.7h8.3v8.7h-8.3zM636.9 23.7h8.3v8.7h-8.3zM643.9 23.7h8.3v8.7h-8.3zM653.9 23.7h8.3v8.7h-8.3zM661.9 23.7h8.3v8.7h-8.3zM672.9 23.7h8.3v8.7h-8.3zM679.9 23.7h8.3v8.7h-8.3zM693.9 23.7h8.3v8.7h-8.3zM719.9 23.7h8.3v8.7h-8.3zM727.9 23.7h8.3v8.7h-8.3zM735.9 23.7h8.3v8.7h-8.3zM742.9 23.7h8.3v8.7h-8.3zM757.9 23.7h8.3v8.7h-8.3zM768.9 23.7h8.3v8.7h-8.3zM797.9 23.7h8.3v8.7h-8.3zM811.9 23.7h8.3v8.7h-8.3zM834.9 23.7h8.3v8.7h-8.3zM846.9 23.7h8.3v8.7h-8.3z" fill="#fff" stroke="#660080" stroke-width="1.7"/><path d="M164.7 22.8h10v5.4h-10zM235.3 22.8h10v5.4h-10zM291 22.8h10v5.4h-10zM300 22.8h10v5.4h-10zM311 22.8h10v5.4h-10zM323 22.8h10v5.4h-10zM336 22.8h10v5.4h-10zM347 22.8h10v5.4h-10zM361 22.8h10v5.4h-10zM371 22.8h10v5.4h-10zM386 22.8h10v5.4h-10zM397 22.8h10v5.4h-10zM403 22.8h10v5.4h-10zM415 22.8h10v5.4h-10zM423 22.8h10v5.4h-10zM434 22.8h10v5.4h-10zM442 22.8h10v5.4h-10zM450 22.8h10v5.4h-10zM456 22.8h10v5.4h-10zM474 22.8h10v5.4h-10zM482 22.8h10v5.4h-10zM490 22.8h10v5.4h-10zM498 22.8h10v5.4h-10zM516 22.8h10v5.4h-10zM530 22.8h10v5.4h-10zM542 22.8h10v5.4h-10zM551 22.8h10v5.4h-10zM560 22.8h10v5.4h-10zM573 22.8h10v5.4h-10zM581 22.8h10v5.4h-10zM593 22.8h10v5.4h-10zM605 22.8h10v5.4h-10zM623 22.8h10v5.4h-10zM630 22.8h10v5.4h-10zM636 22.8h10v5.4h-10zM643 22.8h10v5.4h-10zM653 22.8h10v5.4h-10zM661 22.8h10v5.4h-10zM672 22.8h10v5.4h-10zM679 22.8h10v5.4h-10zM693 22.8h10v5.4h-10zM719 22.8h10v5.4h-10zM727 22.8h10v5.4h-10zM735 22.8h10v5.4h-10zM742 22.8h10v5.4h-10zM757 22.8h10v5.4h-10zM768 22.8h10v5.4h-10zM797 22.8h10v5.4h-10zM811 22.8h10v5.4h-10zM834 22.8h10v5.4h-10zM846 22.8h10v5.4h-10z" fill="#660080"/>
<rect x="110.7" y="7.6" width="750.3" height="605.6" fill="none" stroke="#000" stroke-width="2.8"/>
<g class="tl"><text x="110.7" y="650.5" text-anchor="middle">0</text><text x="235.8" y="650.5" text-anchor="middle">100</text><text x="360.8" y="650.5" text-anchor="middle">200</text><text x="485.8" y="650.5" text-anchor="middle">300</text><text x="610.9" y="650.5" text-anchor="middle">400</text><text x="736" y="650.5" text-anchor="middle">500</text><text x="861" y="650.5" text-anchor="middle">600</text><text x="98" y="623.1" text-anchor="end">0.0</text><text x="98" y="525.4" text-anchor="end">0.5</text><text x="98" y="427.7" text-anchor="end">1.0</text><text x="98" y="330" text-anchor="end">1.5</text><text x="98" y="232.3" text-anchor="end">2.0</text><text x="98" y="134.6" text-anchor="end">2.5</text><text x="98" y="36.9" text-anchor="end">3.0</text></g>
<text class="at" x="490.2" y="687" text-anchor="middle">Time/s</text>
<text class="ht" transform="translate(31.7 305.3) rotate(-90)" text-anchor="middle">Height/m</text>
<path d="M872.8 29.5 H944.8" stroke="#000000" stroke-width="4.2"/><rect x="903.8" y="25" width="8.2" height="9" fill="#fff" stroke="#000000" stroke-width="1.8"/><rect x="902.9" y="24.1" width="10" height="5.7" fill="#000000"/><text class="lg" x="960" y="41">A</text><path d="M872.8 72.2 H944.8" stroke="#ff0000" stroke-width="4.2"/><rect x="903.8" y="67.8" width="8.2" height="9" fill="#fff" stroke="#ff0000" stroke-width="1.8"/><rect x="902.9" y="66.8" width="10" height="5.7" fill="#ff0000"/><text class="lg" x="960" y="83.8">B</text><path d="M872.8 115 H944.8" stroke="#eea6f4" stroke-width="4.2"/><rect x="903.8" y="110.5" width="8.2" height="9" fill="#fff" stroke="#eea6f4" stroke-width="1.8"/><rect x="902.9" y="109.6" width="10" height="5.7" fill="#eea6f4"/><text class="lg" x="960" y="126.5">C</text><path d="M872.8 157.8 H944.8" stroke="#008000" stroke-width="4.2"/><rect x="903.8" y="153.2" width="8.2" height="9" fill="#fff" stroke="#008000" stroke-width="1.8"/><rect x="902.9" y="152.3" width="10" height="5.7" fill="#008000"/><text class="lg" x="960" y="169.2">D</text><path d="M872.8 200.5 H944.8" stroke="#d62af0" stroke-width="4.2"/><rect x="903.8" y="196" width="8.2" height="9" fill="#fff" stroke="#d62af0" stroke-width="1.8"/><rect x="902.9" y="195.1" width="10" height="5.7" fill="#d62af0"/><text class="lg" x="960" y="212">E</text><path d="M872.8 243.2 H944.8" stroke="#d49b10" stroke-width="4.2"/><rect x="903.8" y="238.8" width="8.2" height="9" fill="#fff" stroke="#d49b10" stroke-width="1.8"/><rect x="902.9" y="237.8" width="10" height="5.7" fill="#d49b10"/><text class="lg" x="960" y="254.8">F</text><path d="M872.8 286 H944.8" stroke="#005f5a" stroke-width="4.2"/><rect x="903.8" y="281.5" width="8.2" height="9" fill="#fff" stroke="#005f5a" stroke-width="1.8"/><rect x="902.9" y="280.6" width="10" height="5.7" fill="#005f5a"/><text class="lg" x="960" y="297.5">G</text><path d="M872.8 328.8 H944.8" stroke="#0000ff" stroke-width="4.2"/><rect x="903.8" y="324.2" width="8.2" height="9" fill="#fff" stroke="#0000ff" stroke-width="1.8"/><rect x="902.9" y="323.4" width="10" height="5.7" fill="#0000ff"/><text class="lg" x="960" y="340.2">J</text><path d="M872.8 371.5 H944.8" stroke="#660080" stroke-width="4.2"/><rect x="903.8" y="367" width="8.2" height="9" fill="#fff" stroke="#660080" stroke-width="1.8"/><rect x="902.9" y="366.1" width="10" height="5.7" fill="#660080"/><text class="lg" x="960" y="383">K</text>
<text class="par" transform="translate(334.8 747.9) scale(1.25 1)">（</text><text class="cap" x="381" y="749.3">a.0.5m</text><text class="par" transform="translate(495.9 747.9) scale(1.25 1)">）</text>
<path d="M1185.5 613.4 v-5.5 M1248 613.4 v-12 M1310.5 613.4 v-5.5 M1373.1 613.4 v-12 M1435.6 613.4 v-5.5 M1498.1 613.4 v-12 M1560.6 613.4 v-5.5 M1623.1 613.4 v-12 M1685.7 613.4 v-5.5 M1748.2 613.4 v-12 M1810.7 613.4 v-5.5 M1123 564.5 h5.5 M1123 515.7 h12 M1123 466.8 h5.5 M1123 418 h12 M1123 369.1 h5.5 M1123 320.3 h12 M1123 271.4 h5.5 M1123 222.6 h12 M1123 173.7 h5.5 M1123 124.9 h12 M1123 76 h5.5 M1123 27.2 h12" stroke="#000" stroke-width="3" fill="none"/>
<path d="M1124 27.6 L1138 27.6 L1152 27.6 L1166 27.6 L1171 37.2 L1174.5 74.7 L1180.4 279.1 L1188 219.6 L1193.2 178.7 L1200 206 L1205 221.3 L1210.2 255.3 L1222.1 304.6 L1223.8 320 L1234 285.9 L1235.7 296.1 L1239.1 306.3 L1239.1 328.5 L1247.6 350.6 L1255.3 362.5 L1266.3 352.3 L1276.5 371 L1285 382.9 L1293.6 393.1 L1303.8 379.5 L1312.3 357.4 L1322.5 376.1 L1325.9 386.3 L1331 400 L1348 400 L1351.4 411.8 L1360 432.3 L1370.2 403.3 L1378.7 418.7 L1388.9 442.5 L1395.7 466.3 L1407.6 451 L1416.2 469.7 L1429.8 485 L1438.3 434 L1460.4 485 L1468 442.5 L1479.1 427.2 L1491.9 418.7 L1506.3 437.4 L1513.1 434 L1542.1 428.9 L1557.4 428.9 L1593.1 420.4 L1610 418 L1631.7 414.2 L1654.7 409.9 L1680 409.9 L1702.2 409.9 L1733.9 409.9 L1748.3 409.9 L1765 409.9 L1780 409.9 L1804.4 409.9 L1822.4 409.9 L1837 407 L1853.4 402 L1866.3 405.6" fill="none" stroke="#000000" stroke-width="3.5" stroke-linejoin="round"/>
<path d="M1119.8 23.3h8.3v8.7h-8.3zM1133.8 23.3h8.3v8.7h-8.3zM1147.8 23.3h8.3v8.7h-8.3zM1161.8 23.3h8.3v8.7h-8.3zM1166.8 32.9h8.3v8.7h-8.3zM1170.3 70.3h8.3v8.7h-8.3zM1176.2 274.8h8.3v8.7h-8.3zM1183.8 215.2h8.3v8.7h-8.3zM1189 174.3h8.3v8.7h-8.3zM1195.8 201.7h8.3v8.7h-8.3zM1200.8 217h8.3v8.7h-8.3zM1206 251h8.3v8.7h-8.3zM1217.9 300.3h8.3v8.7h-8.3zM1219.6 315.7h8.3v8.7h-8.3zM1229.8 281.6h8.3v8.7h-8.3zM1231.5 291.8h8.3v8.7h-8.3zM1234.9 302h8.3v8.7h-8.3zM1234.9 324.2h8.3v8.7h-8.3zM1243.4 346.3h8.3v8.7h-8.3zM1251.1 358.2h8.3v8.7h-8.3zM1262.1 348h8.3v8.7h-8.3zM1272.3 366.7h8.3v8.7h-8.3zM1280.8 378.6h8.3v8.7h-8.3zM1289.4 388.8h8.3v8.7h-8.3zM1299.6 375.2h8.3v8.7h-8.3zM1308.1 353.1h8.3v8.7h-8.3zM1318.3 371.8h8.3v8.7h-8.3zM1321.8 382h8.3v8.7h-8.3zM1326.8 395.7h8.3v8.7h-8.3zM1343.8 395.7h8.3v8.7h-8.3zM1347.2 407.5h8.3v8.7h-8.3zM1355.8 428h8.3v8.7h-8.3zM1366 399h8.3v8.7h-8.3zM1374.5 414.4h8.3v8.7h-8.3zM1384.8 438.2h8.3v8.7h-8.3zM1391.5 462h8.3v8.7h-8.3zM1403.4 446.7h8.3v8.7h-8.3zM1412 465.4h8.3v8.7h-8.3zM1425.6 480.7h8.3v8.7h-8.3zM1434.1 429.7h8.3v8.7h-8.3zM1456.2 480.7h8.3v8.7h-8.3zM1463.8 438.2h8.3v8.7h-8.3zM1474.9 422.9h8.3v8.7h-8.3zM1487.8 414.4h8.3v8.7h-8.3zM1502.1 433.1h8.3v8.7h-8.3zM1508.9 429.7h8.3v8.7h-8.3zM1537.9 424.6h8.3v8.7h-8.3zM1553.2 424.6h8.3v8.7h-8.3zM1588.9 416.1h8.3v8.7h-8.3zM1605.8 413.7h8.3v8.7h-8.3zM1627.5 409.9h8.3v8.7h-8.3zM1650.5 405.6h8.3v8.7h-8.3zM1675.8 405.6h8.3v8.7h-8.3zM1698 405.6h8.3v8.7h-8.3zM1729.8 405.6h8.3v8.7h-8.3zM1744.1 405.6h8.3v8.7h-8.3zM1760.8 405.6h8.3v8.7h-8.3zM1775.8 405.6h8.3v8.7h-8.3zM1800.2 405.6h8.3v8.7h-8.3zM1818.2 405.6h8.3v8.7h-8.3zM1832.8 402.7h8.3v8.7h-8.3zM1849.2 397.7h8.3v8.7h-8.3zM1862.1 401.3h8.3v8.7h-8.3z" fill="#fff" stroke="#000000" stroke-width="1.7"/><path d="M1119 22.4h10v5.4h-10zM1133 22.4h10v5.4h-10zM1147 22.4h10v5.4h-10zM1161 22.4h10v5.4h-10zM1166 32h10v5.4h-10zM1169.5 69.5h10v5.4h-10zM1175.4 273.9h10v5.4h-10zM1183 214.4h10v5.4h-10zM1188.2 173.5h10v5.4h-10zM1195 200.8h10v5.4h-10zM1200 216.1h10v5.4h-10zM1205.2 250.1h10v5.4h-10zM1217.1 299.4h10v5.4h-10zM1218.8 314.8h10v5.4h-10zM1229 280.7h10v5.4h-10zM1230.7 290.9h10v5.4h-10zM1234.1 301.1h10v5.4h-10zM1234.1 323.3h10v5.4h-10zM1242.6 345.4h10v5.4h-10zM1250.3 357.3h10v5.4h-10zM1261.3 347.1h10v5.4h-10zM1271.5 365.8h10v5.4h-10zM1280 377.7h10v5.4h-10zM1288.6 387.9h10v5.4h-10zM1298.8 374.3h10v5.4h-10zM1307.3 352.2h10v5.4h-10zM1317.5 370.9h10v5.4h-10zM1320.9 381.1h10v5.4h-10zM1326 394.8h10v5.4h-10zM1343 394.8h10v5.4h-10zM1346.4 406.6h10v5.4h-10zM1355 427.1h10v5.4h-10zM1365.2 398.1h10v5.4h-10zM1373.7 413.5h10v5.4h-10zM1383.9 437.3h10v5.4h-10zM1390.7 461.1h10v5.4h-10zM1402.6 445.8h10v5.4h-10zM1411.2 464.5h10v5.4h-10zM1424.8 479.8h10v5.4h-10zM1433.3 428.8h10v5.4h-10zM1455.4 479.8h10v5.4h-10zM1463 437.3h10v5.4h-10zM1474.1 422h10v5.4h-10zM1486.9 413.5h10v5.4h-10zM1501.3 432.2h10v5.4h-10zM1508.1 428.8h10v5.4h-10zM1537.1 423.7h10v5.4h-10zM1552.4 423.7h10v5.4h-10zM1588.1 415.2h10v5.4h-10zM1605 412.8h10v5.4h-10zM1626.7 409h10v5.4h-10zM1649.7 404.7h10v5.4h-10zM1675 404.7h10v5.4h-10zM1697.2 404.7h10v5.4h-10zM1728.9 404.7h10v5.4h-10zM1743.3 404.7h10v5.4h-10zM1760 404.7h10v5.4h-10zM1775 404.7h10v5.4h-10zM1799.4 404.7h10v5.4h-10zM1817.4 404.7h10v5.4h-10zM1832 401.8h10v5.4h-10zM1848.4 396.8h10v5.4h-10zM1861.3 400.4h10v5.4h-10z" fill="#000000"/>
<path d="M1124 27.6 L1144.2 27.6 L1164.5 27.6 L1184.8 27.6 L1205 27.6 L1210.2 93.4 L1211.9 166.8 L1217 311.4 L1228.9 182.1 L1232.3 216.2 L1234 236.6 L1240.8 257 L1242.5 267.2 L1247.6 229.8 L1252.7 263.8 L1259.5 296.1 L1268 285.9 L1280 285.9 L1290.2 284.2 L1303.8 302.9 L1312.3 314.8 L1320.8 318.2 L1337.8 320 L1354.8 331.9 L1370.2 342.1 L1387.2 342.1 L1397.4 340.4 L1409.3 350.6 L1428 345.5 L1440 350.6 L1455.3 359.1 L1468.9 362.5 L1491 365.9 L1506.3 357.4 L1521.6 354 L1537 352.3 L1555.7 348.9 L1567.6 348.9 L1581.2 352.3 L1600 355.2 L1607.2 355.2 L1613 343.7 L1623 345.1 L1634.6 353.7 L1651.8 362.4 L1667.7 359.5 L1683.5 350.9 L1693.6 345.1 L1726.7 352.3 L1738.2 355.2 L1751.2 355.2 L1759.8 350.9 L1775.6 336.5 L1795.8 330.7 L1813.1 334.3 L1836.1 340.8 L1859.1 346.5 L1872.1 344.4" fill="none" stroke="#ff0000" stroke-width="3.5" stroke-linejoin="round"/>
<path d="M1119.8 23.3h8.3v8.7h-8.3zM1140.1 23.3h8.3v8.7h-8.3zM1160.3 23.3h8.3v8.7h-8.3zM1180.6 23.3h8.3v8.7h-8.3zM1200.8 23.3h8.3v8.7h-8.3zM1206 89h8.3v8.7h-8.3zM1207.8 162.5h8.3v8.7h-8.3zM1212.8 307.1h8.3v8.7h-8.3zM1224.8 177.8h8.3v8.7h-8.3zM1228.1 211.8h8.3v8.7h-8.3zM1229.8 232.2h8.3v8.7h-8.3zM1236.6 252.7h8.3v8.7h-8.3zM1238.3 262.9h8.3v8.7h-8.3zM1243.4 225.5h8.3v8.7h-8.3zM1248.5 259.5h8.3v8.7h-8.3zM1255.3 291.8h8.3v8.7h-8.3zM1263.8 281.6h8.3v8.7h-8.3zM1275.8 281.6h8.3v8.7h-8.3zM1286 279.9h8.3v8.7h-8.3zM1299.6 298.6h8.3v8.7h-8.3zM1308.1 310.5h8.3v8.7h-8.3zM1316.6 313.9h8.3v8.7h-8.3zM1333.6 315.7h8.3v8.7h-8.3zM1350.6 327.6h8.3v8.7h-8.3zM1366 337.8h8.3v8.7h-8.3zM1383 337.8h8.3v8.7h-8.3zM1393.2 336.1h8.3v8.7h-8.3zM1405.1 346.3h8.3v8.7h-8.3zM1423.8 341.2h8.3v8.7h-8.3zM1435.8 346.3h8.3v8.7h-8.3zM1451.1 354.8h8.3v8.7h-8.3zM1464.8 358.2h8.3v8.7h-8.3zM1486.8 361.6h8.3v8.7h-8.3zM1502.1 353.1h8.3v8.7h-8.3zM1517.4 349.7h8.3v8.7h-8.3zM1532.8 348h8.3v8.7h-8.3zM1551.5 344.6h8.3v8.7h-8.3zM1563.4 344.6h8.3v8.7h-8.3zM1577 348h8.3v8.7h-8.3zM1595.8 350.9h8.3v8.7h-8.3zM1603 350.9h8.3v8.7h-8.3zM1608.8 339.4h8.3v8.7h-8.3zM1618.8 340.8h8.3v8.7h-8.3zM1630.4 349.4h8.3v8.7h-8.3zM1647.6 358.1h8.3v8.7h-8.3zM1663.5 355.2h8.3v8.7h-8.3zM1679.3 346.6h8.3v8.7h-8.3zM1689.4 340.8h8.3v8.7h-8.3zM1722.5 348h8.3v8.7h-8.3zM1734 350.9h8.3v8.7h-8.3zM1747 350.9h8.3v8.7h-8.3zM1755.6 346.6h8.3v8.7h-8.3zM1771.4 332.2h8.3v8.7h-8.3zM1791.6 326.4h8.3v8.7h-8.3zM1808.9 330h8.3v8.7h-8.3zM1831.9 336.5h8.3v8.7h-8.3zM1854.9 342.2h8.3v8.7h-8.3zM1867.9 340.1h8.3v8.7h-8.3z" fill="#fff" stroke="#ff0000" stroke-width="1.7"/><path d="M1119 22.4h10v5.4h-10zM1139.2 22.4h10v5.4h-10zM1159.5 22.4h10v5.4h-10zM1179.8 22.4h10v5.4h-10zM1200 22.4h10v5.4h-10zM1205.2 88.2h10v5.4h-10zM1206.9 161.6h10v5.4h-10zM1212 306.2h10v5.4h-10zM1223.9 176.9h10v5.4h-10zM1227.3 211h10v5.4h-10zM1229 231.4h10v5.4h-10zM1235.8 251.8h10v5.4h-10zM1237.5 262h10v5.4h-10zM1242.6 224.6h10v5.4h-10zM1247.7 258.6h10v5.4h-10zM1254.5 290.9h10v5.4h-10zM1263 280.7h10v5.4h-10zM1275 280.7h10v5.4h-10zM1285.2 279h10v5.4h-10zM1298.8 297.7h10v5.4h-10zM1307.3 309.6h10v5.4h-10zM1315.8 313h10v5.4h-10zM1332.8 314.8h10v5.4h-10zM1349.8 326.7h10v5.4h-10zM1365.2 336.9h10v5.4h-10zM1382.2 336.9h10v5.4h-10zM1392.4 335.2h10v5.4h-10zM1404.3 345.4h10v5.4h-10zM1423 340.3h10v5.4h-10zM1435 345.4h10v5.4h-10zM1450.3 353.9h10v5.4h-10zM1463.9 357.3h10v5.4h-10zM1486 360.7h10v5.4h-10zM1501.3 352.2h10v5.4h-10zM1516.6 348.8h10v5.4h-10zM1532 347.1h10v5.4h-10zM1550.7 343.7h10v5.4h-10zM1562.6 343.7h10v5.4h-10zM1576.2 347.1h10v5.4h-10zM1595 350h10v5.4h-10zM1602.2 350h10v5.4h-10zM1608 338.5h10v5.4h-10zM1618 339.9h10v5.4h-10zM1629.6 348.5h10v5.4h-10zM1646.8 357.2h10v5.4h-10zM1662.7 354.3h10v5.4h-10zM1678.5 345.7h10v5.4h-10zM1688.6 339.9h10v5.4h-10zM1721.7 347.1h10v5.4h-10zM1733.2 350h10v5.4h-10zM1746.2 350h10v5.4h-10zM1754.8 345.7h10v5.4h-10zM1770.6 331.3h10v5.4h-10zM1790.8 325.5h10v5.4h-10zM1808.1 329.1h10v5.4h-10zM1831.1 335.6h10v5.4h-10zM1854.1 341.3h10v5.4h-10zM1867.1 339.2h10v5.4h-10z" fill="#ff0000"/>
<path d="M1124 27.6 L1251 27.6 L1257.8 101.9 L1256 212 L1259.5 280.8 L1269.7 35.5 L1272.5 309.7 L1280 274 L1283.3 299.5 L1290.2 275.7 L1300.4 292.7 L1307.2 292.7 L1324.2 304.6 L1339.5 309.7 L1353.1 313.1 L1363.3 321.6 L1370.2 321.7 L1382.1 325.1 L1394 328.5 L1412.7 332.7 L1434.9 340.4 L1458.7 342.1 L1479.1 345.5 L1494.4 347.2 L1513.1 348.9 L1537 350.6 L1560.8 359.1 L1581.2 367.6 L1599.9 369.3 L1614.4 366.7 L1634.6 355.2 L1653.3 360.9 L1674.9 363.8 L1700.8 363.8 L1722.4 360.9 L1744 352.3 L1767 353.7 L1801.6 353.7 L1821.7 350.9 L1841.9 352.3 L1854.8 352.3 L1872.1 350.1" fill="none" stroke="#eea6f4" stroke-width="3.5" stroke-linejoin="round"/>
<path d="M1119.8 23.3h8.3v8.7h-8.3zM1246.8 23.3h8.3v8.7h-8.3zM1253.6 97.5h8.3v8.7h-8.3zM1251.8 207.7h8.3v8.7h-8.3zM1255.3 276.5h8.3v8.7h-8.3zM1265.5 31.2h8.3v8.7h-8.3zM1268.3 305.4h8.3v8.7h-8.3zM1275.8 269.7h8.3v8.7h-8.3zM1279.1 295.2h8.3v8.7h-8.3zM1286 271.4h8.3v8.7h-8.3zM1296.2 288.4h8.3v8.7h-8.3zM1303 288.4h8.3v8.7h-8.3zM1320 300.3h8.3v8.7h-8.3zM1335.3 305.4h8.3v8.7h-8.3zM1348.9 308.8h8.3v8.7h-8.3zM1359.1 317.3h8.3v8.7h-8.3zM1366 317.4h8.3v8.7h-8.3zM1377.9 320.8h8.3v8.7h-8.3zM1389.8 324.2h8.3v8.7h-8.3zM1408.5 328.4h8.3v8.7h-8.3zM1430.8 336.1h8.3v8.7h-8.3zM1454.5 337.8h8.3v8.7h-8.3zM1474.9 341.2h8.3v8.7h-8.3zM1490.2 342.9h8.3v8.7h-8.3zM1508.9 344.6h8.3v8.7h-8.3zM1532.8 346.3h8.3v8.7h-8.3zM1556.6 354.8h8.3v8.7h-8.3zM1577 363.3h8.3v8.7h-8.3zM1595.8 365h8.3v8.7h-8.3zM1610.2 362.4h8.3v8.7h-8.3zM1630.4 350.9h8.3v8.7h-8.3zM1649.1 356.6h8.3v8.7h-8.3zM1670.8 359.5h8.3v8.7h-8.3zM1696.6 359.5h8.3v8.7h-8.3zM1718.2 356.6h8.3v8.7h-8.3zM1739.8 348h8.3v8.7h-8.3zM1762.8 349.4h8.3v8.7h-8.3zM1797.4 349.4h8.3v8.7h-8.3zM1817.5 346.6h8.3v8.7h-8.3zM1837.8 348h8.3v8.7h-8.3zM1850.6 348h8.3v8.7h-8.3zM1867.9 345.8h8.3v8.7h-8.3z" fill="#fff" stroke="#eea6f4" stroke-width="1.7"/><path d="M1119 22.4h10v5.4h-10zM1246 22.4h10v5.4h-10zM1252.8 96.7h10v5.4h-10zM1251 206.8h10v5.4h-10zM1254.5 275.6h10v5.4h-10zM1264.7 30.3h10v5.4h-10zM1267.5 304.5h10v5.4h-10zM1275 268.8h10v5.4h-10zM1278.3 294.3h10v5.4h-10zM1285.2 270.5h10v5.4h-10zM1295.4 287.5h10v5.4h-10zM1302.2 287.5h10v5.4h-10zM1319.2 299.4h10v5.4h-10zM1334.5 304.5h10v5.4h-10zM1348.1 307.9h10v5.4h-10zM1358.3 316.4h10v5.4h-10zM1365.2 316.5h10v5.4h-10zM1377.1 319.9h10v5.4h-10zM1389 323.3h10v5.4h-10zM1407.7 327.5h10v5.4h-10zM1429.9 335.2h10v5.4h-10zM1453.7 336.9h10v5.4h-10zM1474.1 340.3h10v5.4h-10zM1489.4 342h10v5.4h-10zM1508.1 343.7h10v5.4h-10zM1532 345.4h10v5.4h-10zM1555.8 353.9h10v5.4h-10zM1576.2 362.4h10v5.4h-10zM1594.9 364.1h10v5.4h-10zM1609.4 361.5h10v5.4h-10zM1629.6 350h10v5.4h-10zM1648.3 355.7h10v5.4h-10zM1669.9 358.6h10v5.4h-10zM1695.8 358.6h10v5.4h-10zM1717.4 355.7h10v5.4h-10zM1739 347.1h10v5.4h-10zM1762 348.5h10v5.4h-10zM1796.6 348.5h10v5.4h-10zM1816.7 345.7h10v5.4h-10zM1836.9 347.1h10v5.4h-10zM1849.8 347.1h10v5.4h-10zM1867.1 344.9h10v5.4h-10z" fill="#eea6f4"/>
<path d="M1124 27.6 L1153.9 27.6 L1183.8 27.6 L1213.6 27.6 L1243.5 27.6 L1273.4 27.6 L1303.3 27.6 L1333.2 27.6 L1363 27.6 L1392.9 27.6 L1422.8 27.6 L1452.7 27.6 L1482.6 27.6 L1512.4 27.6 L1542.3 27.6 L1572.2 27.6 L1602.1 27.6 L1632 27.6 L1661.8 27.6 L1691.7 27.6 L1721.6 27.6 L1751.5 27.6 L1781.4 27.6 L1811.2 27.6 L1841.1 27.6 L1871 27.6" fill="none" stroke="#008000" stroke-width="3.5" stroke-linejoin="round"/>
<path d="" fill="#fff" stroke="#008000" stroke-width="1.7"/><path d="" fill="#008000"/>
<path d="M1124 27.6 L1153.9 27.6 L1183.8 27.6 L1213.6 27.6 L1243.5 27.6 L1273.4 27.6 L1303.3 27.6 L1333.2 27.6 L1363 27.6 L1392.9 27.6 L1422.8 27.6 L1452.7 27.6 L1482.6 27.6 L1512.4 27.6 L1542.3 27.6 L1572.2 27.6 L1602.1 27.6 L1632 27.6 L1661.8 27.6 L1691.7 27.6 L1721.6 27.6 L1751.5 27.6 L1781.4 27.6 L1811.2 27.6 L1841.1 27.6 L1871 27.6" fill="none" stroke="#d62af0" stroke-width="3.5" stroke-linejoin="round"/>
<path d="" fill="#fff" stroke="#d62af0" stroke-width="1.7"/><path d="" fill="#d62af0"/>
<path d="M1124 27.6 L1153.9 27.6 L1183.8 27.6 L1213.6 27.6 L1243.5 27.6 L1273.4 27.6 L1303.3 27.6 L1333.2 27.6 L1363 27.6 L1392.9 27.6 L1422.8 27.6 L1452.7 27.6 L1482.6 27.6 L1512.4 27.6 L1542.3 27.6 L1572.2 27.6 L1602.1 27.6 L1632 27.6 L1661.8 27.6 L1691.7 27.6 L1721.6 27.6 L1751.5 27.6 L1781.4 27.6 L1811.2 27.6 L1841.1 27.6 L1871 27.6" fill="none" stroke="#d49b10" stroke-width="3.5" stroke-linejoin="round"/>
<path d="" fill="#fff" stroke="#d49b10" stroke-width="1.7"/><path d="" fill="#d49b10"/>
<path d="M1124 27.6 L1153.9 27.6 L1183.8 27.6 L1213.6 27.6 L1243.5 27.6 L1273.4 27.6 L1303.3 27.6 L1333.2 27.6 L1363 27.6 L1392.9 27.6 L1422.8 27.6 L1452.7 27.6 L1482.6 27.6 L1512.4 27.6 L1542.3 27.6 L1572.2 27.6 L1602.1 27.6 L1632 27.6 L1661.8 27.6 L1691.7 27.6 L1721.6 27.6 L1751.5 27.6 L1781.4 27.6 L1811.2 27.6 L1841.1 27.6 L1871 27.6" fill="none" stroke="#005f5a" stroke-width="3.5" stroke-linejoin="round"/>
<path d="" fill="#fff" stroke="#005f5a" stroke-width="1.7"/><path d="" fill="#005f5a"/>
<path d="M1124 27.6 L1137 27.6 L1150 27.6 L1163 27.6 L1176 27.6 L1180.4 246.8 L1191.5 182.1 L1197.4 185.5 L1201.7 320 L1205 236.6 L1206.8 229.8 L1220.4 262.1 L1222.1 268.9 L1227.2 291 L1235.7 308 L1245.9 320 L1257.8 337 L1273.1 311.4 L1285 314.8 L1303.8 340.4 L1305.5 345.5 L1314 326.8 L1317.4 299.5 L1331 326.8 L1337.8 354 L1351.4 371 L1369.4 289.3 L1381.3 342.1 L1395.7 376.1 L1400.8 331.9 L1414.5 372.7 L1423 333.6 L1438.3 382.9 L1444.2 347.2 L1460.4 403.3 L1477.4 372.7 L1494.4 350.6 L1508 325.1 L1525 347.2 L1540.4 323.4 L1543.8 311.5 L1552.3 359.1 L1558.2 398.2 L1571 355.7 L1581.2 359.1 L1599.9 371 L1625.9 355.2 L1641.8 318.5 L1664.8 334.3 L1679.2 338.6 L1705.1 342.9 L1726.7 330.7 L1738.9 322.1 L1772.8 304.8 L1780.7 301.9 L1808.8 324.9 L1818.8 324.9 L1836.1 306.2 L1857.7 310.5 L1870.7 304.1" fill="none" stroke="#0000ff" stroke-width="3.5" stroke-linejoin="round"/>
<path d="M1119.8 23.3h8.3v8.7h-8.3zM1132.8 23.3h8.3v8.7h-8.3zM1145.8 23.3h8.3v8.7h-8.3zM1158.8 23.3h8.3v8.7h-8.3zM1171.8 23.3h8.3v8.7h-8.3zM1176.2 242.5h8.3v8.7h-8.3zM1187.3 177.8h8.3v8.7h-8.3zM1193.2 181.2h8.3v8.7h-8.3zM1197.5 315.7h8.3v8.7h-8.3zM1200.8 232.2h8.3v8.7h-8.3zM1202.6 225.5h8.3v8.7h-8.3zM1216.2 257.8h8.3v8.7h-8.3zM1217.9 264.6h8.3v8.7h-8.3zM1223 286.7h8.3v8.7h-8.3zM1231.5 303.7h8.3v8.7h-8.3zM1241.8 315.7h8.3v8.7h-8.3zM1253.6 332.7h8.3v8.7h-8.3zM1268.9 307.1h8.3v8.7h-8.3zM1280.8 310.5h8.3v8.7h-8.3zM1299.6 336.1h8.3v8.7h-8.3zM1301.3 341.2h8.3v8.7h-8.3zM1309.8 322.5h8.3v8.7h-8.3zM1313.2 295.2h8.3v8.7h-8.3zM1326.8 322.5h8.3v8.7h-8.3zM1333.6 349.7h8.3v8.7h-8.3zM1347.2 366.7h8.3v8.7h-8.3zM1365.2 285h8.3v8.7h-8.3zM1377.1 337.8h8.3v8.7h-8.3zM1391.5 371.8h8.3v8.7h-8.3zM1396.6 327.6h8.3v8.7h-8.3zM1410.3 368.4h8.3v8.7h-8.3zM1418.8 329.3h8.3v8.7h-8.3zM1434.1 378.6h8.3v8.7h-8.3zM1440 342.9h8.3v8.7h-8.3zM1456.2 399h8.3v8.7h-8.3zM1473.2 368.4h8.3v8.7h-8.3zM1490.2 346.3h8.3v8.7h-8.3zM1503.8 320.8h8.3v8.7h-8.3zM1520.8 342.9h8.3v8.7h-8.3zM1536.2 319.1h8.3v8.7h-8.3zM1539.6 307.2h8.3v8.7h-8.3zM1548.1 354.8h8.3v8.7h-8.3zM1554 393.9h8.3v8.7h-8.3zM1566.8 351.4h8.3v8.7h-8.3zM1577 354.8h8.3v8.7h-8.3zM1595.8 366.7h8.3v8.7h-8.3zM1621.8 350.9h8.3v8.7h-8.3zM1637.6 314.2h8.3v8.7h-8.3zM1660.6 330h8.3v8.7h-8.3zM1675 334.3h8.3v8.7h-8.3zM1700.9 338.6h8.3v8.7h-8.3zM1722.5 326.4h8.3v8.7h-8.3zM1734.8 317.8h8.3v8.7h-8.3zM1768.6 300.5h8.3v8.7h-8.3zM1776.5 297.6h8.3v8.7h-8.3zM1804.6 320.6h8.3v8.7h-8.3zM1814.6 320.6h8.3v8.7h-8.3zM1831.9 301.9h8.3v8.7h-8.3zM1853.5 306.2h8.3v8.7h-8.3zM1866.5 299.8h8.3v8.7h-8.3z" fill="#fff" stroke="#0000ff" stroke-width="1.7"/><path d="M1119 22.4h10v5.4h-10zM1132 22.4h10v5.4h-10zM1145 22.4h10v5.4h-10zM1158 22.4h10v5.4h-10zM1171 22.4h10v5.4h-10zM1175.4 241.6h10v5.4h-10zM1186.5 176.9h10v5.4h-10zM1192.4 180.3h10v5.4h-10zM1196.7 314.8h10v5.4h-10zM1200 231.4h10v5.4h-10zM1201.8 224.6h10v5.4h-10zM1215.4 256.9h10v5.4h-10zM1217.1 263.7h10v5.4h-10zM1222.2 285.8h10v5.4h-10zM1230.7 302.8h10v5.4h-10zM1240.9 314.8h10v5.4h-10zM1252.8 331.8h10v5.4h-10zM1268.1 306.2h10v5.4h-10zM1280 309.6h10v5.4h-10zM1298.8 335.2h10v5.4h-10zM1300.5 340.3h10v5.4h-10zM1309 321.6h10v5.4h-10zM1312.4 294.3h10v5.4h-10zM1326 321.6h10v5.4h-10zM1332.8 348.8h10v5.4h-10zM1346.4 365.8h10v5.4h-10zM1364.4 284.1h10v5.4h-10zM1376.3 336.9h10v5.4h-10zM1390.7 370.9h10v5.4h-10zM1395.8 326.7h10v5.4h-10zM1409.5 367.5h10v5.4h-10zM1418 328.4h10v5.4h-10zM1433.3 377.7h10v5.4h-10zM1439.2 342h10v5.4h-10zM1455.4 398.1h10v5.4h-10zM1472.4 367.5h10v5.4h-10zM1489.4 345.4h10v5.4h-10zM1503 319.9h10v5.4h-10zM1520 342h10v5.4h-10zM1535.4 318.2h10v5.4h-10zM1538.8 306.3h10v5.4h-10zM1547.3 353.9h10v5.4h-10zM1553.2 393h10v5.4h-10zM1566 350.5h10v5.4h-10zM1576.2 353.9h10v5.4h-10zM1594.9 365.8h10v5.4h-10zM1620.9 350h10v5.4h-10zM1636.8 313.3h10v5.4h-10zM1659.8 329.1h10v5.4h-10zM1674.2 333.4h10v5.4h-10zM1700.1 337.7h10v5.4h-10zM1721.7 325.5h10v5.4h-10zM1733.9 316.9h10v5.4h-10zM1767.8 299.6h10v5.4h-10zM1775.7 296.7h10v5.4h-10zM1803.8 319.7h10v5.4h-10zM1813.8 319.7h10v5.4h-10zM1831.1 301h10v5.4h-10zM1852.7 305.3h10v5.4h-10zM1865.7 298.9h10v5.4h-10z" fill="#0000ff"/>
<path d="M1124 27.9 L1871 27.9" fill="none" stroke="#660080" stroke-width="4.2" stroke-linejoin="round"/>
<path d="M1124.8 23.6h8.3v8.7h-8.3zM1133.2 23.6h8.3v8.7h-8.3zM1141.6 23.6h8.3v8.7h-8.3zM1150 23.6h8.3v8.7h-8.3zM1158.3 23.6h8.3v8.7h-8.3zM1166.7 23.6h8.3v8.7h-8.3zM1175.1 23.6h8.3v8.7h-8.3zM1183.4 23.6h8.3v8.7h-8.3zM1191.8 23.6h8.3v8.7h-8.3zM1200.2 23.6h8.3v8.7h-8.3zM1208.5 23.6h8.3v8.7h-8.3zM1216.9 23.6h8.3v8.7h-8.3zM1225.3 23.6h8.3v8.7h-8.3zM1233.6 23.6h8.3v8.7h-8.3zM1242 23.6h8.3v8.7h-8.3zM1250.4 23.6h8.3v8.7h-8.3zM1258.8 23.6h8.3v8.7h-8.3zM1267.1 23.6h8.3v8.7h-8.3zM1275.5 23.6h8.3v8.7h-8.3zM1283.9 23.6h8.3v8.7h-8.3zM1292.2 23.6h8.3v8.7h-8.3zM1300.6 23.6h8.3v8.7h-8.3zM1309 23.6h8.3v8.7h-8.3zM1317.3 23.6h8.3v8.7h-8.3zM1325.7 23.6h8.3v8.7h-8.3zM1334.1 23.6h8.3v8.7h-8.3zM1342.4 23.6h8.3v8.7h-8.3zM1350.8 23.6h8.3v8.7h-8.3zM1359.2 23.6h8.3v8.7h-8.3zM1367.5 23.6h8.3v8.7h-8.3zM1375.9 23.6h8.3v8.7h-8.3zM1384.3 23.6h8.3v8.7h-8.3zM1392.6 23.6h8.3v8.7h-8.3zM1403.8 23.6h8.3v8.7h-8.3zM1411.8 23.6h8.3v8.7h-8.3zM1425.5 23.6h8.3v8.7h-8.3zM1433.3 23.6h8.3v8.7h-8.3zM1457.2 23.6h8.3v8.7h-8.3zM1465.6 23.6h8.3v8.7h-8.3zM1473.9 23.6h8.3v8.7h-8.3zM1487.8 23.6h8.3v8.7h-8.3zM1487.9 23.6h8.3v8.7h-8.3zM1501.8 23.6h8.3v8.7h-8.3zM1507 23.6h8.3v8.7h-8.3zM1536.1 23.6h8.3v8.7h-8.3zM1540.1 23.6h8.3v8.7h-8.3zM1553.8 23.6h8.3v8.7h-8.3zM1554 23.6h8.3v8.7h-8.3zM1589.5 23.6h8.3v8.7h-8.3zM1589.6 23.6h8.3v8.7h-8.3zM1626.3 23.6h8.3v8.7h-8.3zM1627.8 23.6h8.3v8.7h-8.3zM1650.5 23.6h8.3v8.7h-8.3zM1651.9 23.6h8.3v8.7h-8.3zM1698.8 23.6h8.3v8.7h-8.3zM1699 23.6h8.3v8.7h-8.3zM1729.3 23.6h8.3v8.7h-8.3zM1730.8 23.6h8.3v8.7h-8.3zM1744.6 23.6h8.3v8.7h-8.3zM1744.8 23.6h8.3v8.7h-8.3zM1776.3 23.6h8.3v8.7h-8.3zM1776.5 23.6h8.3v8.7h-8.3zM1800.5 23.6h8.3v8.7h-8.3zM1800.8 23.6h8.3v8.7h-8.3zM1818.3 23.6h8.3v8.7h-8.3zM1818.5 23.6h8.3v8.7h-8.3zM1850.1 23.6h8.3v8.7h-8.3zM1861.8 23.6h8.3v8.7h-8.3z" fill="#fff" stroke="#660080" stroke-width="1.7"/><path d="M1124 22.7h10v5.4h-10zM1132.4 22.7h10v5.4h-10zM1140.7 22.7h10v5.4h-10zM1149.1 22.7h10v5.4h-10zM1157.5 22.7h10v5.4h-10zM1165.8 22.7h10v5.4h-10zM1174.2 22.7h10v5.4h-10zM1182.6 22.7h10v5.4h-10zM1191 22.7h10v5.4h-10zM1199.3 22.7h10v5.4h-10zM1207.7 22.7h10v5.4h-10zM1216.1 22.7h10v5.4h-10zM1224.4 22.7h10v5.4h-10zM1232.8 22.7h10v5.4h-10zM1241.2 22.7h10v5.4h-10zM1249.5 22.7h10v5.4h-10zM1257.9 22.7h10v5.4h-10zM1266.3 22.7h10v5.4h-10zM1274.6 22.7h10v5.4h-10zM1283 22.7h10v5.4h-10zM1291.4 22.7h10v5.4h-10zM1299.7 22.7h10v5.4h-10zM1308.1 22.7h10v5.4h-10zM1316.5 22.7h10v5.4h-10zM1324.8 22.7h10v5.4h-10zM1333.2 22.7h10v5.4h-10zM1341.6 22.7h10v5.4h-10zM1350 22.7h10v5.4h-10zM1358.3 22.7h10v5.4h-10zM1366.7 22.7h10v5.4h-10zM1375.1 22.7h10v5.4h-10zM1383.4 22.7h10v5.4h-10zM1391.8 22.7h10v5.4h-10zM1403 22.7h10v5.4h-10zM1410.9 22.7h10v5.4h-10zM1424.7 22.7h10v5.4h-10zM1432.5 22.7h10v5.4h-10zM1456.4 22.7h10v5.4h-10zM1464.8 22.7h10v5.4h-10zM1473.1 22.7h10v5.4h-10zM1487 22.7h10v5.4h-10zM1487.1 22.7h10v5.4h-10zM1501 22.7h10v5.4h-10zM1506.2 22.7h10v5.4h-10zM1535.3 22.7h10v5.4h-10zM1539.3 22.7h10v5.4h-10zM1553 22.7h10v5.4h-10zM1553.2 22.7h10v5.4h-10zM1588.7 22.7h10v5.4h-10zM1588.8 22.7h10v5.4h-10zM1625.5 22.7h10v5.4h-10zM1627 22.7h10v5.4h-10zM1649.7 22.7h10v5.4h-10zM1651.1 22.7h10v5.4h-10zM1698 22.7h10v5.4h-10zM1698.2 22.7h10v5.4h-10zM1728.5 22.7h10v5.4h-10zM1730 22.7h10v5.4h-10zM1743.8 22.7h10v5.4h-10zM1743.9 22.7h10v5.4h-10zM1775.5 22.7h10v5.4h-10zM1775.7 22.7h10v5.4h-10zM1799.7 22.7h10v5.4h-10zM1799.9 22.7h10v5.4h-10zM1817.5 22.7h10v5.4h-10zM1817.7 22.7h10v5.4h-10zM1849.3 22.7h10v5.4h-10zM1860.9 22.7h10v5.4h-10z" fill="#660080"/>
<rect x="1123" y="9" width="750.2" height="604.4" fill="none" stroke="#000" stroke-width="2.8"/>
<g class="tl"><text x="1123" y="651" text-anchor="middle">0</text><text x="1248" y="651" text-anchor="middle">100</text><text x="1373.1" y="651" text-anchor="middle">200</text><text x="1498.1" y="651" text-anchor="middle">300</text><text x="1623.1" y="651" text-anchor="middle">400</text><text x="1748.2" y="651" text-anchor="middle">500</text><text x="1873.2" y="651" text-anchor="middle">600</text><text x="1110" y="623.3" text-anchor="end">0.0</text><text x="1110" y="525.6" text-anchor="end">0.5</text><text x="1110" y="427.9" text-anchor="end">1.0</text><text x="1110" y="330.2" text-anchor="end">1.5</text><text x="1110" y="232.5" text-anchor="end">2.0</text><text x="1110" y="134.8" text-anchor="end">2.5</text><text x="1110" y="37.1" text-anchor="end">3.0</text></g>
<text class="at" x="1502.6" y="686.7" text-anchor="middle">Time/s</text>
<text class="ht" transform="translate(1054 309.4) rotate(-90)" text-anchor="middle">Height/m</text>
<path d="M1894.8 29.3 H1965.4" stroke="#000000" stroke-width="4.2"/><rect x="1925.1" y="24.8" width="8.2" height="9" fill="#fff" stroke="#000000" stroke-width="1.8"/><rect x="1924.2" y="23.9" width="10" height="5.7" fill="#000000"/><text class="lg" x="1982" y="40.8">A</text><path d="M1894.8 71.9 H1965.4" stroke="#ff0000" stroke-width="4.2"/><rect x="1925.1" y="67.4" width="8.2" height="9" fill="#fff" stroke="#ff0000" stroke-width="1.8"/><rect x="1924.2" y="66.5" width="10" height="5.7" fill="#ff0000"/><text class="lg" x="1982" y="83.4">B</text><path d="M1894.8 114.5 H1965.4" stroke="#eea6f4" stroke-width="4.2"/><rect x="1925.1" y="110" width="8.2" height="9" fill="#fff" stroke="#eea6f4" stroke-width="1.8"/><rect x="1924.2" y="109.1" width="10" height="5.7" fill="#eea6f4"/><text class="lg" x="1982" y="126">C</text><path d="M1894.8 157.1 H1965.4" stroke="#008000" stroke-width="4.2"/><rect x="1925.1" y="152.6" width="8.2" height="9" fill="#fff" stroke="#008000" stroke-width="1.8"/><rect x="1924.2" y="151.7" width="10" height="5.7" fill="#008000"/><text class="lg" x="1982" y="168.6">D</text><path d="M1894.8 199.7 H1965.4" stroke="#d62af0" stroke-width="4.2"/><rect x="1925.1" y="195.2" width="8.2" height="9" fill="#fff" stroke="#d62af0" stroke-width="1.8"/><rect x="1924.2" y="194.3" width="10" height="5.7" fill="#d62af0"/><text class="lg" x="1982" y="211.2">E</text><path d="M1894.8 242.3 H1965.4" stroke="#d49b10" stroke-width="4.2"/><rect x="1925.1" y="237.8" width="8.2" height="9" fill="#fff" stroke="#d49b10" stroke-width="1.8"/><rect x="1924.2" y="236.9" width="10" height="5.7" fill="#d49b10"/><text class="lg" x="1982" y="253.8">F</text><path d="M1894.8 284.9 H1965.4" stroke="#005f5a" stroke-width="4.2"/><rect x="1925.1" y="280.4" width="8.2" height="9" fill="#fff" stroke="#005f5a" stroke-width="1.8"/><rect x="1924.2" y="279.5" width="10" height="5.7" fill="#005f5a"/><text class="lg" x="1982" y="296.4">G</text><path d="M1894.8 327.5 H1965.4" stroke="#0000ff" stroke-width="4.2"/><rect x="1925.1" y="323" width="8.2" height="9" fill="#fff" stroke="#0000ff" stroke-width="1.8"/><rect x="1924.2" y="322.1" width="10" height="5.7" fill="#0000ff"/><text class="lg" x="1982" y="339">J</text><path d="M1894.8 370.1 H1965.4" stroke="#660080" stroke-width="4.2"/><rect x="1925.1" y="365.6" width="8.2" height="9" fill="#fff" stroke="#660080" stroke-width="1.8"/><rect x="1924.2" y="364.7" width="10" height="5.7" fill="#660080"/><text class="lg" x="1982" y="381.6">K</text>
<text class="par" transform="translate(1352.7 748.6) scale(1.25 1)">（</text><text class="cap" x="1401.5" y="749.5">b.0.8m</text><text class="par" transform="translate(1515 748.6) scale(1.25 1)">）</text>
<path d="M184.8 1380.2 v-5.5 M247.8 1380.2 v-12 M310.8 1380.2 v-5.5 M373.9 1380.2 v-12 M436.9 1380.2 v-5.5 M500 1380.2 v-12 M563 1380.2 v-5.5 M626.1 1380.2 v-12 M689.1 1380.2 v-5.5 M752.2 1380.2 v-12 M815.2 1380.2 v-5.5 M121.7 1329.4 h5.5 M121.7 1280.3 h12 M121.7 1231.3 h5.5 M121.7 1182.2 h12 M121.7 1133.1 h5.5 M121.7 1084 h12 M121.7 1035 h5.5 M121.7 985.9 h12 M121.7 936.8 h5.5 M121.7 887.8 h12 M121.7 838.7 h5.5 M121.7 789.6 h12" stroke="#000" stroke-width="3" fill="none"/>
<path d="M123 794 L138.4 794 L153.9 794 L169.3 794 L171 802.2 L174.5 839.7 L182.7 1118 L188.6 966 L196.4 989.7 L196.4 1010.7 L197.7 1035.5 L198.4 1073.5 L197.7 1101 L209.5 1094.5 L213.4 1101 L214.1 1115.4 L223.9 1132.4 L234 1174.4 L251 1186.3 L254.4 1172.7 L257.8 1186.3 L269.7 1196.5 L276.5 1201.6 L283.3 1198.2 L291.9 1186.3 L300.4 1174.4 L312.3 1174.4 L322.5 1182.9 L331 1196.5 L334.4 1211.8 L341.2 1194.8 L349.7 1193.1 L353 1202 L360 1220.9 L366 1229.9 L377.9 1246.8 L383.9 1254.8 L389.9 1226.9 L395.9 1243.8 L401.8 1266.8 L411.8 1239.9 L419.8 1266.8 L425.8 1243.8 L441.7 1263.8 L454.7 1241.8 L469.6 1261.8 L489.6 1251.8 L503.5 1259.8 L521.5 1238.9 L533.5 1250.8 L550 1230 L569.3 1243.3 L579.5 1243.3 L593.1 1229.7 L606.7 1234.8 L620.4 1239.8 L644.2 1233 L674.8 1226.2 L698.7 1221.1 L719.1 1222.8 L741.2 1217.7 L749.7 1213.5 L785.4 1221.1 L804.1 1222.8 L821.1 1214.3 L836.4 1210.9 L851.7 1216 L872.2 1216" fill="none" stroke="#000000" stroke-width="3.5" stroke-linejoin="round"/>
<path d="M118.8 789.6h8.3v8.7h-8.3zM134.3 789.6h8.3v8.7h-8.3zM149.7 789.6h8.3v8.7h-8.3zM165.2 789.6h8.3v8.7h-8.3zM166.8 797.9h8.3v8.7h-8.3zM170.3 835.4h8.3v8.7h-8.3zM178.5 1113.6h8.3v8.7h-8.3zM184.4 961.6h8.3v8.7h-8.3zM192.2 985.4h8.3v8.7h-8.3zM192.2 1006.4h8.3v8.7h-8.3zM193.5 1031.1h8.3v8.7h-8.3zM194.2 1069.1h8.3v8.7h-8.3zM193.5 1096.6h8.3v8.7h-8.3zM205.3 1090.1h8.3v8.7h-8.3zM209.2 1096.6h8.3v8.7h-8.3zM209.9 1111h8.3v8.7h-8.3zM219.8 1128h8.3v8.7h-8.3zM229.8 1170h8.3v8.7h-8.3zM246.8 1181.9h8.3v8.7h-8.3zM250.2 1168.3h8.3v8.7h-8.3zM253.7 1181.9h8.3v8.7h-8.3zM265.6 1192.1h8.3v8.7h-8.3zM272.4 1197.2h8.3v8.7h-8.3zM279.2 1193.8h8.3v8.7h-8.3zM287.8 1181.9h8.3v8.7h-8.3zM296.2 1170h8.3v8.7h-8.3zM308.2 1170h8.3v8.7h-8.3zM318.4 1178.5h8.3v8.7h-8.3zM326.9 1192.1h8.3v8.7h-8.3zM330.2 1207.4h8.3v8.7h-8.3zM337.1 1190.4h8.3v8.7h-8.3zM345.6 1188.7h8.3v8.7h-8.3zM348.9 1197.6h8.3v8.7h-8.3zM355.9 1216.5h8.3v8.7h-8.3zM361.9 1225.5h8.3v8.7h-8.3zM373.8 1242.4h8.3v8.7h-8.3zM379.8 1250.4h8.3v8.7h-8.3zM385.8 1222.5h8.3v8.7h-8.3zM391.8 1239.4h8.3v8.7h-8.3zM397.7 1262.4h8.3v8.7h-8.3zM407.7 1235.5h8.3v8.7h-8.3zM415.7 1262.4h8.3v8.7h-8.3zM421.7 1239.4h8.3v8.7h-8.3zM437.6 1259.4h8.3v8.7h-8.3zM450.6 1237.4h8.3v8.7h-8.3zM465.5 1257.4h8.3v8.7h-8.3zM485.5 1247.4h8.3v8.7h-8.3zM499.4 1255.4h8.3v8.7h-8.3zM517.4 1234.5h8.3v8.7h-8.3zM529.4 1246.4h8.3v8.7h-8.3zM545.9 1225.6h8.3v8.7h-8.3zM565.1 1238.9h8.3v8.7h-8.3zM575.4 1238.9h8.3v8.7h-8.3zM589 1225.3h8.3v8.7h-8.3zM602.6 1230.4h8.3v8.7h-8.3zM616.2 1235.4h8.3v8.7h-8.3zM640.1 1228.6h8.3v8.7h-8.3zM670.6 1221.8h8.3v8.7h-8.3zM694.6 1216.7h8.3v8.7h-8.3zM715 1218.4h8.3v8.7h-8.3zM737.1 1213.3h8.3v8.7h-8.3zM745.6 1209.1h8.3v8.7h-8.3zM781.2 1216.7h8.3v8.7h-8.3zM800 1218.4h8.3v8.7h-8.3zM817 1209.9h8.3v8.7h-8.3zM832.2 1206.5h8.3v8.7h-8.3zM847.6 1211.6h8.3v8.7h-8.3zM868.1 1211.6h8.3v8.7h-8.3z" fill="#fff" stroke="#000000" stroke-width="1.7"/><path d="M118 788.8h10v5.4h-10zM133.4 788.8h10v5.4h-10zM148.9 788.8h10v5.4h-10zM164.3 788.8h10v5.4h-10zM166 797h10v5.4h-10zM169.5 834.5h10v5.4h-10zM177.7 1112.8h10v5.4h-10zM183.6 960.8h10v5.4h-10zM191.4 984.5h10v5.4h-10zM191.4 1005.5h10v5.4h-10zM192.7 1030.3h10v5.4h-10zM193.4 1068.3h10v5.4h-10zM192.7 1095.8h10v5.4h-10zM204.5 1089.3h10v5.4h-10zM208.4 1095.8h10v5.4h-10zM209.1 1110.2h10v5.4h-10zM218.9 1127.2h10v5.4h-10zM229 1169.2h10v5.4h-10zM246 1181.1h10v5.4h-10zM249.4 1167.5h10v5.4h-10zM252.8 1181.1h10v5.4h-10zM264.7 1191.3h10v5.4h-10zM271.5 1196.4h10v5.4h-10zM278.3 1193h10v5.4h-10zM286.9 1181.1h10v5.4h-10zM295.4 1169.2h10v5.4h-10zM307.3 1169.2h10v5.4h-10zM317.5 1177.7h10v5.4h-10zM326 1191.3h10v5.4h-10zM329.4 1206.6h10v5.4h-10zM336.2 1189.6h10v5.4h-10zM344.7 1187.9h10v5.4h-10zM348 1196.8h10v5.4h-10zM355 1215.7h10v5.4h-10zM361 1224.7h10v5.4h-10zM372.9 1241.6h10v5.4h-10zM378.9 1249.6h10v5.4h-10zM384.9 1221.7h10v5.4h-10zM390.9 1238.6h10v5.4h-10zM396.8 1261.6h10v5.4h-10zM406.8 1234.7h10v5.4h-10zM414.8 1261.6h10v5.4h-10zM420.8 1238.6h10v5.4h-10zM436.7 1258.6h10v5.4h-10zM449.7 1236.6h10v5.4h-10zM464.6 1256.6h10v5.4h-10zM484.6 1246.6h10v5.4h-10zM498.5 1254.6h10v5.4h-10zM516.5 1233.7h10v5.4h-10zM528.5 1245.6h10v5.4h-10zM545 1224.8h10v5.4h-10zM564.3 1238.1h10v5.4h-10zM574.5 1238.1h10v5.4h-10zM588.1 1224.5h10v5.4h-10zM601.7 1229.6h10v5.4h-10zM615.4 1234.6h10v5.4h-10zM639.2 1227.8h10v5.4h-10zM669.8 1221h10v5.4h-10zM693.7 1215.9h10v5.4h-10zM714.1 1217.6h10v5.4h-10zM736.2 1212.5h10v5.4h-10zM744.7 1208.3h10v5.4h-10zM780.4 1215.9h10v5.4h-10zM799.1 1217.6h10v5.4h-10zM816.1 1209.1h10v5.4h-10zM831.4 1205.7h10v5.4h-10zM846.7 1210.8h10v5.4h-10zM867.2 1210.8h10v5.4h-10z" fill="#000000"/>
<path d="M123 796 L142.4 796 L161.8 796 L181.2 796 L200.6 796 L220 796 L221.2 803.9 L223.8 846.5 L228 927.3 L234 1036.6 L238.3 955.4 L246.8 1012.7 L251 1055.3 L256.1 1096.1 L262.9 1012.7 L268.9 1043.4 L276.5 1070.6 L279.9 1087.6 L288.5 1108 L300.4 1082.5 L312.3 1075.7 L320.8 1063.8 L334.4 1089.3 L346.3 1087.6 L359.9 1096.1 L370.2 1090.2 L383.8 1085.1 L385.5 1102.1 L390.6 1115.7 L397.4 1093.6 L407.6 1122.5 L416.2 1098.7 L428.1 1078.3 L438.3 1108.9 L446.8 1073.2 L465.5 1083.4 L477.4 1073.2 L497.8 1086.8 L504.6 1064.7 L520 1103.8 L535.3 1086.8 L554 1080 L571 1081.7 L586.3 1097 L594.8 1091.9 L608.4 1071.5 L622.1 1066.3 L632.3 1098.7 L651 1081.6 L656.1 1083.3 L669.7 1124.2 L688.5 1083.3 L710.6 1083.3 L719.1 1083.3 L729.3 1080.8 L746.3 1094.4 L768.4 1086.7 L784.6 1108.9 L821.1 1086.7 L842.4 1106.3 L851.7 1078.2 L872.2 1078.2" fill="none" stroke="#ff0000" stroke-width="3.5" stroke-linejoin="round"/>
<path d="M118.8 791.6h8.3v8.7h-8.3zM138.2 791.6h8.3v8.7h-8.3zM157.7 791.6h8.3v8.7h-8.3zM177 791.6h8.3v8.7h-8.3zM196.4 791.6h8.3v8.7h-8.3zM215.8 791.6h8.3v8.7h-8.3zM217 799.5h8.3v8.7h-8.3zM219.7 842.1h8.3v8.7h-8.3zM223.8 922.9h8.3v8.7h-8.3zM229.8 1032.2h8.3v8.7h-8.3zM234.2 951h8.3v8.7h-8.3zM242.7 1008.4h8.3v8.7h-8.3zM246.8 1050.9h8.3v8.7h-8.3zM252 1091.7h8.3v8.7h-8.3zM258.8 1008.4h8.3v8.7h-8.3zM264.8 1039h8.3v8.7h-8.3zM272.4 1066.2h8.3v8.7h-8.3zM275.8 1083.2h8.3v8.7h-8.3zM284.4 1103.6h8.3v8.7h-8.3zM296.2 1078.1h8.3v8.7h-8.3zM308.2 1071.3h8.3v8.7h-8.3zM316.7 1059.4h8.3v8.7h-8.3zM330.2 1084.9h8.3v8.7h-8.3zM342.2 1083.2h8.3v8.7h-8.3zM355.8 1091.7h8.3v8.7h-8.3zM366.1 1085.8h8.3v8.7h-8.3zM379.7 1080.7h8.3v8.7h-8.3zM381.4 1097.7h8.3v8.7h-8.3zM386.5 1111.3h8.3v8.7h-8.3zM393.2 1089.2h8.3v8.7h-8.3zM403.5 1118.1h8.3v8.7h-8.3zM412.1 1094.3h8.3v8.7h-8.3zM424 1073.9h8.3v8.7h-8.3zM434.2 1104.5h8.3v8.7h-8.3zM442.7 1068.8h8.3v8.7h-8.3zM461.4 1079h8.3v8.7h-8.3zM473.2 1068.8h8.3v8.7h-8.3zM493.7 1082.4h8.3v8.7h-8.3zM500.5 1060.3h8.3v8.7h-8.3zM515.9 1099.4h8.3v8.7h-8.3zM531.1 1082.4h8.3v8.7h-8.3zM549.9 1075.6h8.3v8.7h-8.3zM566.9 1077.3h8.3v8.7h-8.3zM582.1 1092.6h8.3v8.7h-8.3zM590.6 1087.5h8.3v8.7h-8.3zM604.2 1067.1h8.3v8.7h-8.3zM618 1061.9h8.3v8.7h-8.3zM628.1 1094.3h8.3v8.7h-8.3zM646.9 1077.2h8.3v8.7h-8.3zM652 1078.9h8.3v8.7h-8.3zM665.6 1119.8h8.3v8.7h-8.3zM684.4 1078.9h8.3v8.7h-8.3zM706.5 1078.9h8.3v8.7h-8.3zM715 1078.9h8.3v8.7h-8.3zM725.1 1076.4h8.3v8.7h-8.3zM742.1 1090h8.3v8.7h-8.3zM764.2 1082.3h8.3v8.7h-8.3zM780.5 1104.5h8.3v8.7h-8.3zM817 1082.3h8.3v8.7h-8.3zM838.2 1101.9h8.3v8.7h-8.3zM847.6 1073.8h8.3v8.7h-8.3zM868.1 1073.8h8.3v8.7h-8.3z" fill="#fff" stroke="#ff0000" stroke-width="1.7"/><path d="M118 790.8h10v5.4h-10zM137.4 790.8h10v5.4h-10zM156.8 790.8h10v5.4h-10zM176.2 790.8h10v5.4h-10zM195.6 790.8h10v5.4h-10zM215 790.8h10v5.4h-10zM216.2 798.7h10v5.4h-10zM218.8 841.3h10v5.4h-10zM223 922.1h10v5.4h-10zM229 1031.4h10v5.4h-10zM233.3 950.2h10v5.4h-10zM241.8 1007.5h10v5.4h-10zM246 1050.1h10v5.4h-10zM251.1 1090.9h10v5.4h-10zM257.9 1007.5h10v5.4h-10zM263.9 1038.2h10v5.4h-10zM271.5 1065.4h10v5.4h-10zM274.9 1082.4h10v5.4h-10zM283.5 1102.8h10v5.4h-10zM295.4 1077.3h10v5.4h-10zM307.3 1070.5h10v5.4h-10zM315.8 1058.6h10v5.4h-10zM329.4 1084.1h10v5.4h-10zM341.3 1082.4h10v5.4h-10zM354.9 1090.9h10v5.4h-10zM365.2 1085h10v5.4h-10zM378.8 1079.9h10v5.4h-10zM380.5 1096.9h10v5.4h-10zM385.6 1110.5h10v5.4h-10zM392.4 1088.4h10v5.4h-10zM402.6 1117.3h10v5.4h-10zM411.2 1093.5h10v5.4h-10zM423.1 1073.1h10v5.4h-10zM433.3 1103.7h10v5.4h-10zM441.8 1068h10v5.4h-10zM460.5 1078.2h10v5.4h-10zM472.4 1068h10v5.4h-10zM492.8 1081.6h10v5.4h-10zM499.6 1059.5h10v5.4h-10zM515 1098.6h10v5.4h-10zM530.3 1081.6h10v5.4h-10zM549 1074.8h10v5.4h-10zM566 1076.5h10v5.4h-10zM581.3 1091.8h10v5.4h-10zM589.8 1086.7h10v5.4h-10zM603.4 1066.3h10v5.4h-10zM617.1 1061.1h10v5.4h-10zM627.3 1093.5h10v5.4h-10zM646 1076.4h10v5.4h-10zM651.1 1078.1h10v5.4h-10zM664.7 1119h10v5.4h-10zM683.5 1078.1h10v5.4h-10zM705.6 1078.1h10v5.4h-10zM714.1 1078.1h10v5.4h-10zM724.3 1075.6h10v5.4h-10zM741.3 1089.2h10v5.4h-10zM763.4 1081.5h10v5.4h-10zM779.6 1103.7h10v5.4h-10zM816.1 1081.5h10v5.4h-10zM837.4 1101.1h10v5.4h-10zM846.7 1073h10v5.4h-10zM867.2 1073h10v5.4h-10z" fill="#ff0000"/>
<path d="M123 789.6 L316 789.6 L317.4 797.1 L324.2 867.7 L326.7 972.4 L330 1075 L336 1060 L344.6 1034.9 L349.7 1017.9 L351.4 997.4 L354.8 974.5 L358.2 1045.1 L360 1044.2 L370.2 1039.1 L380.4 1045.9 L392.3 1056.2 L400 1035.7 L411.9 1031.5 L425 1050 L445.1 1034 L454.4 1027.2 L458.7 1037.4 L479.1 1063 L489.3 1049.3 L509.7 1049.3 L523.3 1030.6 L547.2 1056.2 L562.5 1042.5 L579.5 1037.4 L581.2 1057.9 L594.8 1068.1 L601.6 1049.3 L610.2 1044.2 L623.8 1054.4 L634 1042.5 L642.5 1042.5 L654.4 1036.6 L671.4 1049.3 L695.3 1057.8 L719.1 1045.9 L741.2 1054.4 L756.5 1059.5 L780.3 1051 L800.7 1051 L821.1 1057.8 L844.9 1035.7 L867.1 1056.1 L875.6 1042.5" fill="none" stroke="#eea6f4" stroke-width="3.5" stroke-linejoin="round"/>
<path d="M118.8 785.2h8.3v8.7h-8.3zM311.9 785.2h8.3v8.7h-8.3zM313.2 792.8h8.3v8.7h-8.3zM320.1 863.4h8.3v8.7h-8.3zM322.6 968h8.3v8.7h-8.3zM325.9 1070.6h8.3v8.7h-8.3zM331.9 1055.6h8.3v8.7h-8.3zM340.5 1030.5h8.3v8.7h-8.3zM345.6 1013.5h8.3v8.7h-8.3zM347.2 993h8.3v8.7h-8.3zM350.7 970.1h8.3v8.7h-8.3zM354.1 1040.7h8.3v8.7h-8.3zM355.9 1039.8h8.3v8.7h-8.3zM366.1 1034.7h8.3v8.7h-8.3zM376.2 1041.5h8.3v8.7h-8.3zM388.2 1051.8h8.3v8.7h-8.3zM395.9 1031.3h8.3v8.7h-8.3zM407.8 1027.1h8.3v8.7h-8.3zM420.9 1045.6h8.3v8.7h-8.3zM441 1029.6h8.3v8.7h-8.3zM450.2 1022.9h8.3v8.7h-8.3zM454.6 1033h8.3v8.7h-8.3zM475 1058.6h8.3v8.7h-8.3zM485.2 1044.9h8.3v8.7h-8.3zM505.6 1044.9h8.3v8.7h-8.3zM519.1 1026.2h8.3v8.7h-8.3zM543.1 1051.8h8.3v8.7h-8.3zM558.4 1038.1h8.3v8.7h-8.3zM575.4 1033h8.3v8.7h-8.3zM577.1 1053.5h8.3v8.7h-8.3zM590.6 1063.7h8.3v8.7h-8.3zM597.5 1044.9h8.3v8.7h-8.3zM606.1 1039.8h8.3v8.7h-8.3zM619.6 1050h8.3v8.7h-8.3zM629.9 1038.1h8.3v8.7h-8.3zM638.4 1038.1h8.3v8.7h-8.3zM650.2 1032.2h8.3v8.7h-8.3zM667.2 1044.9h8.3v8.7h-8.3zM691.1 1053.4h8.3v8.7h-8.3zM715 1041.5h8.3v8.7h-8.3zM737.1 1050h8.3v8.7h-8.3zM752.4 1055.1h8.3v8.7h-8.3zM776.1 1046.6h8.3v8.7h-8.3zM796.6 1046.6h8.3v8.7h-8.3zM817 1053.4h8.3v8.7h-8.3zM840.8 1031.3h8.3v8.7h-8.3zM863 1051.7h8.3v8.7h-8.3zM871.5 1038.1h8.3v8.7h-8.3z" fill="#fff" stroke="#eea6f4" stroke-width="1.7"/><path d="M118 784.4h10v5.4h-10zM311 784.4h10v5.4h-10zM312.4 791.9h10v5.4h-10zM319.2 862.5h10v5.4h-10zM321.7 967.2h10v5.4h-10zM325 1069.8h10v5.4h-10zM331 1054.8h10v5.4h-10zM339.6 1029.7h10v5.4h-10zM344.7 1012.7h10v5.4h-10zM346.4 992.2h10v5.4h-10zM349.8 969.3h10v5.4h-10zM353.2 1039.9h10v5.4h-10zM355 1039h10v5.4h-10zM365.2 1033.9h10v5.4h-10zM375.4 1040.7h10v5.4h-10zM387.3 1051h10v5.4h-10zM395 1030.5h10v5.4h-10zM406.9 1026.3h10v5.4h-10zM420 1044.8h10v5.4h-10zM440.1 1028.8h10v5.4h-10zM449.4 1022h10v5.4h-10zM453.7 1032.2h10v5.4h-10zM474.1 1057.8h10v5.4h-10zM484.3 1044.1h10v5.4h-10zM504.7 1044.1h10v5.4h-10zM518.3 1025.4h10v5.4h-10zM542.2 1051h10v5.4h-10zM557.5 1037.3h10v5.4h-10zM574.5 1032.2h10v5.4h-10zM576.2 1052.7h10v5.4h-10zM589.8 1062.9h10v5.4h-10zM596.6 1044.1h10v5.4h-10zM605.2 1039h10v5.4h-10zM618.8 1049.2h10v5.4h-10zM629 1037.3h10v5.4h-10zM637.5 1037.3h10v5.4h-10zM649.4 1031.4h10v5.4h-10zM666.4 1044.1h10v5.4h-10zM690.3 1052.6h10v5.4h-10zM714.1 1040.7h10v5.4h-10zM736.2 1049.2h10v5.4h-10zM751.5 1054.3h10v5.4h-10zM775.3 1045.8h10v5.4h-10zM795.7 1045.8h10v5.4h-10zM816.1 1052.6h10v5.4h-10zM839.9 1030.5h10v5.4h-10zM862.1 1050.9h10v5.4h-10zM870.6 1037.3h10v5.4h-10z" fill="#eea6f4"/>
<path d="M123 789.6 L153.1 789.6 L183.2 789.6 L213.4 789.6 L243.5 789.6 L273.6 789.6 L303.7 789.6 L333.8 789.6 L364 789.6 L394.1 789.6 L424.2 789.6 L454.3 789.6 L484.4 789.6 L514.6 789.6 L544.7 789.6 L574.8 789.6 L604.9 789.6 L635 789.6 L665.2 789.6 L695.3 789.6 L725.4 789.6 L755.5 789.6 L785.6 789.6 L815.8 789.6 L845.9 789.6 L876 789.6" fill="none" stroke="#008000" stroke-width="3.5" stroke-linejoin="round"/>
<path d="" fill="#fff" stroke="#008000" stroke-width="1.7"/><path d="" fill="#008000"/>
<path d="M123 789.6 L153.1 789.6 L183.2 789.6 L213.4 789.6 L243.5 789.6 L273.6 789.6 L303.7 789.6 L333.8 789.6 L364 789.6 L394.1 789.6 L424.2 789.6 L454.3 789.6 L484.4 789.6 L514.6 789.6 L544.7 789.6 L574.8 789.6 L604.9 789.6 L635 789.6 L665.2 789.6 L695.3 789.6 L725.4 789.6 L755.5 789.6 L785.6 789.6 L815.8 789.6 L845.9 789.6 L876 789.6" fill="none" stroke="#d62af0" stroke-width="3.5" stroke-linejoin="round"/>
<path d="" fill="#fff" stroke="#d62af0" stroke-width="1.7"/><path d="" fill="#d62af0"/>
<path d="M123 789.6 L153.1 789.6 L183.2 789.6 L213.4 789.6 L243.5 789.6 L273.6 789.6 L303.7 789.6 L333.8 789.6 L364 789.6 L394.1 789.6 L424.2 789.6 L454.3 789.6 L484.4 789.6 L514.6 789.6 L544.7 789.6 L574.8 789.6 L604.9 789.6 L635 789.6 L665.2 789.6 L695.3 789.6 L725.4 789.6 L755.5 789.6 L785.6 789.6 L815.8 789.6 L845.9 789.6 L876 789.6" fill="none" stroke="#d49b10" stroke-width="3.5" stroke-linejoin="round"/>
<path d="" fill="#fff" stroke="#d49b10" stroke-width="1.7"/><path d="" fill="#d49b10"/>
<path d="M123 789.6 L153.1 789.6 L183.2 789.6 L213.4 789.6 L243.5 789.6 L273.6 789.6 L303.7 789.6 L333.8 789.6 L364 789.6 L394.1 789.6 L424.2 789.6 L454.3 789.6 L484.4 789.6 L514.6 789.6 L544.7 789.6 L574.8 789.6 L604.9 789.6 L635 789.6 L665.2 789.6 L695.3 789.6 L725.4 789.6 L755.5 789.6 L785.6 789.6 L815.8 789.6 L845.9 789.6 L876 789.6" fill="none" stroke="#005f5a" stroke-width="3.5" stroke-linejoin="round"/>
<path d="" fill="#fff" stroke="#005f5a" stroke-width="1.7"/><path d="" fill="#005f5a"/>
<path d="M123 792 L141.3 792 L159.6 792 L177.9 792 L180.7 1065.7 L190.6 906 L196.4 1057.8 L208.2 1017.2 L218.7 1036.9 L221.3 1063 L237.4 1064.6 L251 1052.7 L251 1072.3 L256.1 1085.9 L266.3 1104.6 L274.8 1133.6 L279.1 1108 L285 1094.4 L292.7 1045.1 L300.4 1075.7 L306.3 1094.4 L312.3 1050.2 L318.2 1085.9 L322.5 1052.7 L334.4 1051 L346.3 1096.1 L349.7 1046.8 L360 1054.5 L366.8 1059.6 L376.2 1083.4 L383.8 1059.6 L391.5 1066.4 L404.2 1049.3 L410.2 1078.3 L413.6 1120.8 L426.4 1061.3 L433.2 1035.7 L438.3 1059.6 L451 1127.6 L456.1 1081.7 L467.2 1054.5 L474.9 1078.3 L485.9 1073.2 L494.4 1054.5 L504.6 1071.5 L516.5 1078.3 L525 1076.6 L535.3 1044.2 L543.8 1086.8 L551.4 1097 L564.2 1068.1 L572.7 1073.2 L586.3 1080 L594.8 1095.3 L603.4 1066.3 L613.6 1081.6 L628.9 1093.6 L649.3 1100.4 L652.7 1068 L675.7 1042.5 L679.1 1076.5 L689.3 1124.2 L697 1068 L707.2 1044.2 L715.7 1071.4 L723.3 1045.9 L736.9 1073.1 L746.3 1051 L760.7 1086.7 L777.7 1049.3 L787.1 1081.6 L798.2 1043.4 L810.9 1085 L836.4 1056.1 L848.3 1083.3 L867.9 1066.3 L872.2 1085" fill="none" stroke="#0000ff" stroke-width="3.5" stroke-linejoin="round"/>
<path d="M118.8 787.6h8.3v8.7h-8.3zM137.2 787.6h8.3v8.7h-8.3zM155.4 787.6h8.3v8.7h-8.3zM173.8 787.6h8.3v8.7h-8.3zM176.5 1061.3h8.3v8.7h-8.3zM186.4 901.6h8.3v8.7h-8.3zM192.2 1053.4h8.3v8.7h-8.3zM204 1012.9h8.3v8.7h-8.3zM214.5 1032.5h8.3v8.7h-8.3zM217.2 1058.6h8.3v8.7h-8.3zM233.2 1060.2h8.3v8.7h-8.3zM246.8 1048.3h8.3v8.7h-8.3zM246.8 1067.9h8.3v8.7h-8.3zM252 1081.5h8.3v8.7h-8.3zM262.2 1100.2h8.3v8.7h-8.3zM270.7 1129.2h8.3v8.7h-8.3zM275 1103.6h8.3v8.7h-8.3zM280.9 1090h8.3v8.7h-8.3zM288.6 1040.7h8.3v8.7h-8.3zM296.2 1071.3h8.3v8.7h-8.3zM302.2 1090h8.3v8.7h-8.3zM308.2 1045.8h8.3v8.7h-8.3zM314.1 1081.5h8.3v8.7h-8.3zM318.4 1048.3h8.3v8.7h-8.3zM330.2 1046.6h8.3v8.7h-8.3zM342.2 1091.7h8.3v8.7h-8.3zM345.6 1042.4h8.3v8.7h-8.3zM355.9 1050.1h8.3v8.7h-8.3zM362.7 1055.2h8.3v8.7h-8.3zM372.1 1079h8.3v8.7h-8.3zM379.7 1055.2h8.3v8.7h-8.3zM387.4 1062h8.3v8.7h-8.3zM400.1 1044.9h8.3v8.7h-8.3zM406.1 1073.9h8.3v8.7h-8.3zM409.5 1116.4h8.3v8.7h-8.3zM422.2 1056.9h8.3v8.7h-8.3zM429.1 1031.3h8.3v8.7h-8.3zM434.2 1055.2h8.3v8.7h-8.3zM446.9 1123.2h8.3v8.7h-8.3zM452 1077.3h8.3v8.7h-8.3zM463.1 1050.1h8.3v8.7h-8.3zM470.8 1073.9h8.3v8.7h-8.3zM481.8 1068.8h8.3v8.7h-8.3zM490.2 1050.1h8.3v8.7h-8.3zM500.5 1067.1h8.3v8.7h-8.3zM512.4 1073.9h8.3v8.7h-8.3zM520.9 1072.2h8.3v8.7h-8.3zM531.1 1039.8h8.3v8.7h-8.3zM539.6 1082.4h8.3v8.7h-8.3zM547.2 1092.6h8.3v8.7h-8.3zM560.1 1063.7h8.3v8.7h-8.3zM568.6 1068.8h8.3v8.7h-8.3zM582.1 1075.6h8.3v8.7h-8.3zM590.6 1090.9h8.3v8.7h-8.3zM599.2 1061.9h8.3v8.7h-8.3zM609.5 1077.2h8.3v8.7h-8.3zM624.8 1089.2h8.3v8.7h-8.3zM645.1 1096h8.3v8.7h-8.3zM648.6 1063.6h8.3v8.7h-8.3zM671.6 1038.1h8.3v8.7h-8.3zM675 1072.1h8.3v8.7h-8.3zM685.1 1119.8h8.3v8.7h-8.3zM692.9 1063.6h8.3v8.7h-8.3zM703.1 1039.8h8.3v8.7h-8.3zM711.6 1067h8.3v8.7h-8.3zM719.1 1041.5h8.3v8.7h-8.3zM732.8 1068.7h8.3v8.7h-8.3zM742.1 1046.6h8.3v8.7h-8.3zM756.6 1082.3h8.3v8.7h-8.3zM773.6 1044.9h8.3v8.7h-8.3zM783 1077.2h8.3v8.7h-8.3zM794.1 1039h8.3v8.7h-8.3zM806.8 1080.6h8.3v8.7h-8.3zM832.2 1051.7h8.3v8.7h-8.3zM844.1 1078.9h8.3v8.7h-8.3zM863.8 1061.9h8.3v8.7h-8.3zM868.1 1080.6h8.3v8.7h-8.3z" fill="#fff" stroke="#0000ff" stroke-width="1.7"/><path d="M118 786.8h10v5.4h-10zM136.3 786.8h10v5.4h-10zM154.6 786.8h10v5.4h-10zM172.9 786.8h10v5.4h-10zM175.7 1060.5h10v5.4h-10zM185.6 900.8h10v5.4h-10zM191.4 1052.6h10v5.4h-10zM203.2 1012h10v5.4h-10zM213.7 1031.7h10v5.4h-10zM216.3 1057.8h10v5.4h-10zM232.4 1059.4h10v5.4h-10zM246 1047.5h10v5.4h-10zM246 1067.1h10v5.4h-10zM251.1 1080.7h10v5.4h-10zM261.3 1099.4h10v5.4h-10zM269.8 1128.4h10v5.4h-10zM274.1 1102.8h10v5.4h-10zM280 1089.2h10v5.4h-10zM287.7 1039.9h10v5.4h-10zM295.4 1070.5h10v5.4h-10zM301.3 1089.2h10v5.4h-10zM307.3 1045h10v5.4h-10zM313.2 1080.7h10v5.4h-10zM317.5 1047.5h10v5.4h-10zM329.4 1045.8h10v5.4h-10zM341.3 1090.9h10v5.4h-10zM344.7 1041.6h10v5.4h-10zM355 1049.3h10v5.4h-10zM361.8 1054.4h10v5.4h-10zM371.2 1078.2h10v5.4h-10zM378.8 1054.4h10v5.4h-10zM386.5 1061.2h10v5.4h-10zM399.2 1044.1h10v5.4h-10zM405.2 1073.1h10v5.4h-10zM408.6 1115.6h10v5.4h-10zM421.4 1056.1h10v5.4h-10zM428.2 1030.5h10v5.4h-10zM433.3 1054.4h10v5.4h-10zM446 1122.4h10v5.4h-10zM451.1 1076.5h10v5.4h-10zM462.2 1049.3h10v5.4h-10zM469.9 1073.1h10v5.4h-10zM480.9 1068h10v5.4h-10zM489.4 1049.3h10v5.4h-10zM499.6 1066.3h10v5.4h-10zM511.5 1073.1h10v5.4h-10zM520 1071.4h10v5.4h-10zM530.3 1039h10v5.4h-10zM538.8 1081.6h10v5.4h-10zM546.4 1091.8h10v5.4h-10zM559.2 1062.9h10v5.4h-10zM567.7 1068h10v5.4h-10zM581.3 1074.8h10v5.4h-10zM589.8 1090.1h10v5.4h-10zM598.4 1061.1h10v5.4h-10zM608.6 1076.4h10v5.4h-10zM623.9 1088.4h10v5.4h-10zM644.3 1095.2h10v5.4h-10zM647.7 1062.8h10v5.4h-10zM670.7 1037.3h10v5.4h-10zM674.1 1071.3h10v5.4h-10zM684.3 1119h10v5.4h-10zM692 1062.8h10v5.4h-10zM702.2 1039h10v5.4h-10zM710.7 1066.2h10v5.4h-10zM718.3 1040.7h10v5.4h-10zM731.9 1067.9h10v5.4h-10zM741.3 1045.8h10v5.4h-10zM755.7 1081.5h10v5.4h-10zM772.7 1044.1h10v5.4h-10zM782.1 1076.4h10v5.4h-10zM793.2 1038.2h10v5.4h-10zM805.9 1079.8h10v5.4h-10zM831.4 1050.9h10v5.4h-10zM843.3 1078.1h10v5.4h-10zM862.9 1061.1h10v5.4h-10zM867.2 1079.8h10v5.4h-10z" fill="#0000ff"/>
<path d="M123 789.5 L876 789.5" fill="none" stroke="#660080" stroke-width="4.2" stroke-linejoin="round"/>
<path d="M121.8 785.1h8.3v8.7h-8.3zM152.3 785.1h8.3v8.7h-8.3zM152.5 785.1h8.3v8.7h-8.3zM190.7 785.1h8.3v8.7h-8.3zM190.8 785.1h8.3v8.7h-8.3zM218.3 785.1h8.3v8.7h-8.3zM258.4 785.1h8.3v8.7h-8.3zM289.9 785.1h8.3v8.7h-8.3zM312.2 785.1h8.3v8.7h-8.3zM320.4 785.1h8.3v8.7h-8.3zM328.6 785.1h8.3v8.7h-8.3zM336.8 785.1h8.3v8.7h-8.3zM345 785.1h8.3v8.7h-8.3zM353.2 785.1h8.3v8.7h-8.3zM361.4 785.1h8.3v8.7h-8.3zM369.5 785.1h8.3v8.7h-8.3zM377.7 785.1h8.3v8.7h-8.3zM385.9 785.1h8.3v8.7h-8.3zM394.1 785.1h8.3v8.7h-8.3zM402.3 785.1h8.3v8.7h-8.3zM410.5 785.1h8.3v8.7h-8.3zM422.9 785.1h8.3v8.7h-8.3zM433.4 785.1h8.3v8.7h-8.3zM449.7 785.1h8.3v8.7h-8.3zM459.9 785.1h8.3v8.7h-8.3zM470.2 785.1h8.3v8.7h-8.3zM485.2 785.1h8.3v8.7h-8.3zM488 785.1h8.3v8.7h-8.3zM505.7 785.1h8.3v8.7h-8.3zM515.2 785.1h8.3v8.7h-8.3zM524.9 785.1h8.3v8.7h-8.3zM541.2 785.1h8.3v8.7h-8.3zM550.9 785.1h8.3v8.7h-8.3zM560.5 785.1h8.3v8.7h-8.3zM575.6 785.1h8.3v8.7h-8.3zM583.2 785.1h8.3v8.7h-8.3zM590.9 785.1h8.3v8.7h-8.3zM598.6 785.1h8.3v8.7h-8.3zM606.2 785.1h8.3v8.7h-8.3zM618.8 785.1h8.3v8.7h-8.3zM629 785.1h8.3v8.7h-8.3zM639.2 785.1h8.3v8.7h-8.3zM650.6 785.1h8.3v8.7h-8.3zM657 785.1h8.3v8.7h-8.3zM663.5 785.1h8.3v8.7h-8.3zM677.2 785.1h8.3v8.7h-8.3zM677.5 785.1h8.3v8.7h-8.3zM692.5 785.1h8.3v8.7h-8.3zM702.1 785.1h8.3v8.7h-8.3zM711.8 785.1h8.3v8.7h-8.3zM737 785.1h8.3v8.7h-8.3zM744.8 785.1h8.3v8.7h-8.3zM776.4 785.1h8.3v8.7h-8.3zM777.9 785.1h8.3v8.7h-8.3zM818.4 785.1h8.3v8.7h-8.3zM818.6 785.1h8.3v8.7h-8.3zM841.2 785.1h8.3v8.7h-8.3zM842.6 785.1h8.3v8.7h-8.3zM862.9 785.1h8.3v8.7h-8.3zM869.4 785.1h8.3v8.7h-8.3z" fill="#fff" stroke="#660080" stroke-width="1.7"/><path d="M121 784.3h10v5.4h-10zM151.5 784.3h10v5.4h-10zM151.7 784.3h10v5.4h-10zM189.8 784.3h10v5.4h-10zM190 784.3h10v5.4h-10zM217.5 784.3h10v5.4h-10zM257.5 784.3h10v5.4h-10zM289 784.3h10v5.4h-10zM311.4 784.3h10v5.4h-10zM319.6 784.3h10v5.4h-10zM327.8 784.3h10v5.4h-10zM335.9 784.3h10v5.4h-10zM344.1 784.3h10v5.4h-10zM352.3 784.3h10v5.4h-10zM360.5 784.3h10v5.4h-10zM368.7 784.3h10v5.4h-10zM376.9 784.3h10v5.4h-10zM385.1 784.3h10v5.4h-10zM393.2 784.3h10v5.4h-10zM401.4 784.3h10v5.4h-10zM409.6 784.3h10v5.4h-10zM422 784.3h10v5.4h-10zM432.5 784.3h10v5.4h-10zM448.8 784.3h10v5.4h-10zM459.1 784.3h10v5.4h-10zM469.3 784.3h10v5.4h-10zM484.4 784.3h10v5.4h-10zM487.1 784.3h10v5.4h-10zM504.8 784.3h10v5.4h-10zM514.4 784.3h10v5.4h-10zM524 784.3h10v5.4h-10zM540.4 784.3h10v5.4h-10zM550 784.3h10v5.4h-10zM559.6 784.3h10v5.4h-10zM574.7 784.3h10v5.4h-10zM582.4 784.3h10v5.4h-10zM590 784.3h10v5.4h-10zM597.7 784.3h10v5.4h-10zM605.4 784.3h10v5.4h-10zM617.9 784.3h10v5.4h-10zM628.1 784.3h10v5.4h-10zM638.4 784.3h10v5.4h-10zM649.7 784.3h10v5.4h-10zM656.2 784.3h10v5.4h-10zM662.6 784.3h10v5.4h-10zM676.4 784.3h10v5.4h-10zM676.6 784.3h10v5.4h-10zM691.6 784.3h10v5.4h-10zM701.2 784.3h10v5.4h-10zM710.9 784.3h10v5.4h-10zM736.1 784.3h10v5.4h-10zM743.9 784.3h10v5.4h-10zM775.5 784.3h10v5.4h-10zM777 784.3h10v5.4h-10zM817.5 784.3h10v5.4h-10zM817.7 784.3h10v5.4h-10zM840.4 784.3h10v5.4h-10zM841.8 784.3h10v5.4h-10zM862 784.3h10v5.4h-10zM868.5 784.3h10v5.4h-10z" fill="#660080"/>
<rect x="121.7" y="769.8" width="756.6" height="610.4" fill="none" stroke="#000" stroke-width="2.8"/>
<g class="tl"><text x="121.7" y="1417.5" text-anchor="middle">0</text><text x="247.8" y="1417.5" text-anchor="middle">100</text><text x="373.9" y="1417.5" text-anchor="middle">200</text><text x="500" y="1417.5" text-anchor="middle">300</text><text x="626.1" y="1417.5" text-anchor="middle">400</text><text x="752.2" y="1417.5" text-anchor="middle">500</text><text x="878.3" y="1417.5" text-anchor="middle">600</text><text x="107.5" y="1388.4" text-anchor="end">0.0</text><text x="107.5" y="1290.2" text-anchor="end">0.5</text><text x="107.5" y="1192.1" text-anchor="end">1.0</text><text x="107.5" y="1094" text-anchor="end">1.5</text><text x="107.5" y="995.8" text-anchor="end">2.0</text><text x="107.5" y="897.6" text-anchor="end">2.5</text><text x="107.5" y="799.5" text-anchor="end">3.0</text></g>
<text class="at" x="504.9" y="1453.8" text-anchor="middle">Time/s</text>
<text class="ht" transform="translate(41.7 1069.4) rotate(-90)" text-anchor="middle">Height/m</text>
<path d="M889 790.6 H962.2" stroke="#000000" stroke-width="4.2"/><rect x="920.6" y="786.1" width="8.2" height="9" fill="#fff" stroke="#000000" stroke-width="1.8"/><rect x="919.7" y="785.2" width="10" height="5.7" fill="#000000"/><text class="lg" x="978.8" y="802.1">A</text><path d="M889 833.7 H962.2" stroke="#ff0000" stroke-width="4.2"/><rect x="920.6" y="829.2" width="8.2" height="9" fill="#fff" stroke="#ff0000" stroke-width="1.8"/><rect x="919.7" y="828.3" width="10" height="5.7" fill="#ff0000"/><text class="lg" x="978.8" y="845.2">B</text><path d="M889 876.8 H962.2" stroke="#eea6f4" stroke-width="4.2"/><rect x="920.6" y="872.3" width="8.2" height="9" fill="#fff" stroke="#eea6f4" stroke-width="1.8"/><rect x="919.7" y="871.4" width="10" height="5.7" fill="#eea6f4"/><text class="lg" x="978.8" y="888.3">C</text><path d="M889 919.8 H962.2" stroke="#008000" stroke-width="4.2"/><rect x="920.6" y="915.3" width="8.2" height="9" fill="#fff" stroke="#008000" stroke-width="1.8"/><rect x="919.7" y="914.4" width="10" height="5.7" fill="#008000"/><text class="lg" x="978.8" y="931.3">D</text><path d="M889 962.9 H962.2" stroke="#d62af0" stroke-width="4.2"/><rect x="920.6" y="958.4" width="8.2" height="9" fill="#fff" stroke="#d62af0" stroke-width="1.8"/><rect x="919.7" y="957.5" width="10" height="5.7" fill="#d62af0"/><text class="lg" x="978.8" y="974.4">E</text><path d="M889 1006 H962.2" stroke="#d49b10" stroke-width="4.2"/><rect x="920.6" y="1001.5" width="8.2" height="9" fill="#fff" stroke="#d49b10" stroke-width="1.8"/><rect x="919.7" y="1000.6" width="10" height="5.7" fill="#d49b10"/><text class="lg" x="978.8" y="1017.5">F</text><path d="M889 1049.1 H962.2" stroke="#005f5a" stroke-width="4.2"/><rect x="920.6" y="1044.6" width="8.2" height="9" fill="#fff" stroke="#005f5a" stroke-width="1.8"/><rect x="919.7" y="1043.7" width="10" height="5.7" fill="#005f5a"/><text class="lg" x="978.8" y="1060.6">G</text><path d="M889 1092.2 H962.2" stroke="#0000ff" stroke-width="4.2"/><rect x="920.6" y="1087.7" width="8.2" height="9" fill="#fff" stroke="#0000ff" stroke-width="1.8"/><rect x="919.7" y="1086.8" width="10" height="5.7" fill="#0000ff"/><text class="lg" x="978.8" y="1103.7">J</text><path d="M889 1135.2 H962.2" stroke="#660080" stroke-width="4.2"/><rect x="920.6" y="1130.7" width="8.2" height="9" fill="#fff" stroke="#660080" stroke-width="1.8"/><rect x="919.7" y="1129.8" width="10" height="5.7" fill="#660080"/><text class="lg" x="978.8" y="1146.7">K</text>
<text class="par" transform="translate(335.2 1515.3) scale(1.25 1)">（</text><text class="cap" x="380.8" y="1514.7">c.1m</text><text class="par" transform="translate(464.6 1515.3) scale(1.25 1)">）</text>
<path d="M1183.2 1380.7 v-5.5 M1245.8 1380.7 v-12 M1308.5 1380.7 v-5.5 M1371.2 1380.7 v-12 M1433.8 1380.7 v-5.5 M1496.5 1380.7 v-12 M1559.2 1380.7 v-5.5 M1621.8 1380.7 v-12 M1684.5 1380.7 v-5.5 M1747.2 1380.7 v-12 M1809.8 1380.7 v-5.5 M1120.5 1331.8 h5.5 M1120.5 1282.9 h12 M1120.5 1234 h5.5 M1120.5 1185.1 h12 M1120.5 1136.2 h5.5 M1120.5 1087.3 h12 M1120.5 1038.4 h5.5 M1120.5 989.5 h12 M1120.5 940.6 h5.5 M1120.5 891.7 h12 M1120.5 842.8 h5.5 M1120.5 793.9 h12" stroke="#000" stroke-width="3" fill="none"/>
<path d="M1121.8 798.3 L1137.1 798.3 L1152.5 798.3 L1167.8 798.3 L1169.5 806.5 L1173 843.8 L1181.1 1121.1 L1187 969.7 L1194.7 993.3 L1194.7 1014.2 L1196 1038.9 L1196.7 1076.8 L1196 1104.2 L1207.8 1097.7 L1211.6 1104.2 L1212.3 1118.5 L1222.1 1135.5 L1232.1 1177.3 L1249 1189.2 L1252.4 1175.6 L1255.8 1189.2 L1267.6 1199.3 L1274.4 1204.4 L1281.1 1201 L1289.7 1189.2 L1298.1 1177.3 L1309.9 1177.3 L1320.1 1223.9 L1327.2 1199.3 L1332.4 1216.1 L1338.9 1195.4 L1347.3 1194.1 L1350.5 1203.1 L1357.7 1223.9 L1363.5 1233 L1375.8 1248.5 L1381.7 1256.3 L1387.5 1230.4 L1394 1245.9 L1399.2 1268 L1408.9 1240.7 L1417.3 1268 L1423.8 1262.8 L1438 1265.4 L1450.3 1243.3 L1467.2 1274.4 L1486 1253.7 L1499.9 1260.7 L1517.9 1239.8 L1529.9 1248.8 L1548.8 1232.8 L1565.7 1245.8 L1586.7 1254.7 L1591.7 1232.8 L1616.6 1241.8 L1642.5 1234.8 L1671.4 1229.8 L1694.4 1224.8 L1714.3 1225.8 L1737.2 1218.9 L1746.2 1214.9 L1781.1 1222.8 L1799 1225.8 L1815 1215.9 L1831 1213.9 L1846.9 1216.9 L1862.9 1217.9 L1871 1217.9" fill="none" stroke="#000000" stroke-width="3.5" stroke-linejoin="round"/>
<path d="M1117.6 793.9h8.3v8.7h-8.3zM1133 793.9h8.3v8.7h-8.3zM1148.3 793.9h8.3v8.7h-8.3zM1163.7 793.9h8.3v8.7h-8.3zM1165.4 802.1h8.3v8.7h-8.3zM1168.8 839.5h8.3v8.7h-8.3zM1177 1116.8h8.3v8.7h-8.3zM1182.8 965.3h8.3v8.7h-8.3zM1190.6 988.9h8.3v8.7h-8.3zM1190.6 1009.9h8.3v8.7h-8.3zM1191.9 1034.6h8.3v8.7h-8.3zM1192.6 1072.4h8.3v8.7h-8.3zM1191.9 1099.8h8.3v8.7h-8.3zM1203.6 1093.4h8.3v8.7h-8.3zM1207.5 1099.8h8.3v8.7h-8.3zM1208.2 1114.2h8.3v8.7h-8.3zM1217.9 1131.1h8.3v8.7h-8.3zM1228 1173h8.3v8.7h-8.3zM1244.9 1184.8h8.3v8.7h-8.3zM1248.2 1171.3h8.3v8.7h-8.3zM1251.6 1184.8h8.3v8.7h-8.3zM1263.5 1195h8.3v8.7h-8.3zM1270.2 1200.1h8.3v8.7h-8.3zM1277 1196.7h8.3v8.7h-8.3zM1285.5 1184.8h8.3v8.7h-8.3zM1294 1173h8.3v8.7h-8.3zM1305.8 1173h8.3v8.7h-8.3zM1315.9 1219.5h8.3v8.7h-8.3zM1323 1194.9h8.3v8.7h-8.3zM1328.2 1211.7h8.3v8.7h-8.3zM1334.8 1191h8.3v8.7h-8.3zM1343.1 1189.7h8.3v8.7h-8.3zM1346.3 1198.7h8.3v8.7h-8.3zM1353.5 1219.5h8.3v8.7h-8.3zM1359.3 1228.6h8.3v8.7h-8.3zM1371.6 1244.1h8.3v8.7h-8.3zM1377.5 1251.9h8.3v8.7h-8.3zM1383.3 1226h8.3v8.7h-8.3zM1389.8 1241.5h8.3v8.7h-8.3zM1395 1263.6h8.3v8.7h-8.3zM1404.8 1236.3h8.3v8.7h-8.3zM1413.1 1263.6h8.3v8.7h-8.3zM1419.6 1258.4h8.3v8.7h-8.3zM1433.8 1261h8.3v8.7h-8.3zM1446.1 1238.9h8.3v8.7h-8.3zM1463 1270h8.3v8.7h-8.3zM1481.8 1249.3h8.3v8.7h-8.3zM1495.8 1256.3h8.3v8.7h-8.3zM1513.8 1235.4h8.3v8.7h-8.3zM1525.8 1244.4h8.3v8.7h-8.3zM1544.6 1228.4h8.3v8.7h-8.3zM1561.5 1241.4h8.3v8.7h-8.3zM1582.5 1250.3h8.3v8.7h-8.3zM1587.5 1228.4h8.3v8.7h-8.3zM1612.4 1237.4h8.3v8.7h-8.3zM1638.3 1230.4h8.3v8.7h-8.3zM1667.2 1225.4h8.3v8.7h-8.3zM1690.2 1220.4h8.3v8.7h-8.3zM1710.1 1221.4h8.3v8.7h-8.3zM1733 1214.5h8.3v8.7h-8.3zM1742 1210.5h8.3v8.7h-8.3zM1776.9 1218.4h8.3v8.7h-8.3zM1794.8 1221.4h8.3v8.7h-8.3zM1810.8 1211.5h8.3v8.7h-8.3zM1826.8 1209.5h8.3v8.7h-8.3zM1842.8 1212.5h8.3v8.7h-8.3zM1858.8 1213.5h8.3v8.7h-8.3zM1866.8 1213.5h8.3v8.7h-8.3z" fill="#fff" stroke="#000000" stroke-width="1.7"/><path d="M1116.8 793.1h10v5.4h-10zM1132.1 793.1h10v5.4h-10zM1147.5 793.1h10v5.4h-10zM1162.8 793.1h10v5.4h-10zM1164.5 801.3h10v5.4h-10zM1168 838.6h10v5.4h-10zM1176.1 1115.9h10v5.4h-10zM1182 964.5h10v5.4h-10zM1189.7 988.1h10v5.4h-10zM1189.7 1009h10v5.4h-10zM1191 1033.7h10v5.4h-10zM1191.7 1071.6h10v5.4h-10zM1191 1099h10v5.4h-10zM1202.8 1092.5h10v5.4h-10zM1206.6 1099h10v5.4h-10zM1207.3 1113.3h10v5.4h-10zM1217.1 1130.3h10v5.4h-10zM1227.1 1172.1h10v5.4h-10zM1244 1184h10v5.4h-10zM1247.4 1170.4h10v5.4h-10zM1250.8 1184h10v5.4h-10zM1262.6 1194.1h10v5.4h-10zM1269.4 1199.2h10v5.4h-10zM1276.1 1195.8h10v5.4h-10zM1284.7 1184h10v5.4h-10zM1293.1 1172.1h10v5.4h-10zM1304.9 1172.1h10v5.4h-10zM1315.1 1218.7h10v5.4h-10zM1322.2 1194.1h10v5.4h-10zM1327.4 1210.9h10v5.4h-10zM1333.9 1190.2h10v5.4h-10zM1342.3 1188.9h10v5.4h-10zM1345.5 1197.9h10v5.4h-10zM1352.7 1218.7h10v5.4h-10zM1358.5 1227.8h10v5.4h-10zM1370.8 1243.3h10v5.4h-10zM1376.7 1251.1h10v5.4h-10zM1382.5 1225.2h10v5.4h-10zM1389 1240.7h10v5.4h-10zM1394.2 1262.8h10v5.4h-10zM1403.9 1235.5h10v5.4h-10zM1412.3 1262.8h10v5.4h-10zM1418.8 1257.6h10v5.4h-10zM1433 1260.2h10v5.4h-10zM1445.3 1238.1h10v5.4h-10zM1462.2 1269.2h10v5.4h-10zM1481 1248.5h10v5.4h-10zM1494.9 1255.5h10v5.4h-10zM1512.9 1234.6h10v5.4h-10zM1524.9 1243.6h10v5.4h-10zM1543.8 1227.6h10v5.4h-10zM1560.7 1240.6h10v5.4h-10zM1581.7 1249.5h10v5.4h-10zM1586.7 1227.6h10v5.4h-10zM1611.6 1236.6h10v5.4h-10zM1637.5 1229.6h10v5.4h-10zM1666.4 1224.6h10v5.4h-10zM1689.4 1219.6h10v5.4h-10zM1709.3 1220.6h10v5.4h-10zM1732.2 1213.7h10v5.4h-10zM1741.2 1209.7h10v5.4h-10zM1776.1 1217.6h10v5.4h-10zM1794 1220.6h10v5.4h-10zM1810 1210.7h10v5.4h-10zM1826 1208.7h10v5.4h-10zM1841.9 1211.7h10v5.4h-10zM1857.9 1212.7h10v5.4h-10zM1866 1212.7h10v5.4h-10z" fill="#000000"/>
<path d="M1121.8 800.3 L1141.1 800.3 L1160.4 800.3 L1179.6 800.3 L1198.9 800.3 L1218.2 800.3 L1219.4 808.1 L1222 850.6 L1226.2 931.1 L1232.1 1040 L1236.4 959.1 L1244.8 1016.2 L1249 1058.7 L1254.1 1099.3 L1260.8 1016.2 L1266.8 1046.8 L1274.4 1073.9 L1277.7 1090.8 L1286.3 1111.2 L1298.1 1085.8 L1309.9 1079 L1318.4 1067.1 L1331.9 1092.5 L1343.7 1090.8 L1357.3 1099.3 L1367.5 1093.4 L1381 1088.3 L1382.7 1105.3 L1387.8 1118.8 L1394.5 1096.8 L1404.7 1125.6 L1413.2 1101.9 L1425 1081.6 L1435.2 1112.1 L1443.6 1076.5 L1462.2 1086.7 L1474 1076.5 L1494.3 1090 L1501.1 1068 L1516.4 1107 L1531.6 1090 L1550.2 1083.3 L1567.1 1085 L1582.3 1100.2 L1590.7 1095.1 L1604.2 1074.8 L1617.9 1069.6 L1628 1101.9 L1646.6 1084.9 L1651.7 1086.6 L1665.2 1127.3 L1683.9 1086.6 L1705.8 1086.6 L1714.3 1086.6 L1724.4 1084.1 L1741.3 1097.6 L1763.3 1089.9 L1779.4 1112.1 L1815.6 1089.9 L1836.8 1109.5 L1846.1 1081.5 L1866.4 1081.5" fill="none" stroke="#ff0000" stroke-width="3.5" stroke-linejoin="round"/>
<path d="M1117.6 795.9h8.3v8.7h-8.3zM1136.9 795.9h8.3v8.7h-8.3zM1156.2 795.9h8.3v8.7h-8.3zM1175.5 795.9h8.3v8.7h-8.3zM1194.8 795.9h8.3v8.7h-8.3zM1214.1 795.9h8.3v8.7h-8.3zM1215.2 803.8h8.3v8.7h-8.3zM1217.8 846.2h8.3v8.7h-8.3zM1222 926.8h8.3v8.7h-8.3zM1228 1035.7h8.3v8.7h-8.3zM1232.2 954.8h8.3v8.7h-8.3zM1240.7 1011.9h8.3v8.7h-8.3zM1244.9 1054.3h8.3v8.7h-8.3zM1249.9 1095h8.3v8.7h-8.3zM1256.7 1011.9h8.3v8.7h-8.3zM1262.7 1042.4h8.3v8.7h-8.3zM1270.2 1069.5h8.3v8.7h-8.3zM1273.6 1086.5h8.3v8.7h-8.3zM1282.1 1106.8h8.3v8.7h-8.3zM1294 1081.4h8.3v8.7h-8.3zM1305.8 1074.6h8.3v8.7h-8.3zM1314.2 1062.8h8.3v8.7h-8.3zM1327.8 1088.2h8.3v8.7h-8.3zM1339.6 1086.5h8.3v8.7h-8.3zM1353.1 1095h8.3v8.7h-8.3zM1363.3 1089.1h8.3v8.7h-8.3zM1376.9 1084h8.3v8.7h-8.3zM1378.5 1100.9h8.3v8.7h-8.3zM1383.6 1114.5h8.3v8.7h-8.3zM1390.4 1092.5h8.3v8.7h-8.3zM1400.5 1121.3h8.3v8.7h-8.3zM1409.1 1097.5h8.3v8.7h-8.3zM1420.9 1077.2h8.3v8.7h-8.3zM1431 1107.7h8.3v8.7h-8.3zM1439.5 1072.1h8.3v8.7h-8.3zM1458.1 1082.3h8.3v8.7h-8.3zM1469.9 1072.1h8.3v8.7h-8.3zM1490.2 1085.7h8.3v8.7h-8.3zM1496.9 1063.7h8.3v8.7h-8.3zM1512.2 1102.6h8.3v8.7h-8.3zM1527.4 1085.7h8.3v8.7h-8.3zM1546 1078.9h8.3v8.7h-8.3zM1562.9 1080.6h8.3v8.7h-8.3zM1578.1 1095.9h8.3v8.7h-8.3zM1586.6 1090.8h8.3v8.7h-8.3zM1600.1 1070.4h8.3v8.7h-8.3zM1613.7 1065.3h8.3v8.7h-8.3zM1623.8 1097.5h8.3v8.7h-8.3zM1642.4 1080.5h8.3v8.7h-8.3zM1647.5 1082.2h8.3v8.7h-8.3zM1661 1123h8.3v8.7h-8.3zM1679.7 1082.2h8.3v8.7h-8.3zM1701.7 1082.2h8.3v8.7h-8.3zM1710.1 1082.2h8.3v8.7h-8.3zM1720.3 1079.7h8.3v8.7h-8.3zM1737.2 1093.3h8.3v8.7h-8.3zM1759.1 1085.6h8.3v8.7h-8.3zM1775.2 1107.7h8.3v8.7h-8.3zM1811.5 1085.6h8.3v8.7h-8.3zM1832.7 1105.1h8.3v8.7h-8.3zM1841.9 1077.1h8.3v8.7h-8.3zM1862.3 1077.1h8.3v8.7h-8.3z" fill="#fff" stroke="#ff0000" stroke-width="1.7"/><path d="M1116.8 795.1h10v5.4h-10zM1136.1 795.1h10v5.4h-10zM1155.4 795.1h10v5.4h-10zM1174.6 795.1h10v5.4h-10zM1193.9 795.1h10v5.4h-10zM1213.2 795.1h10v5.4h-10zM1214.4 802.9h10v5.4h-10zM1217 845.4h10v5.4h-10zM1221.2 925.9h10v5.4h-10zM1227.1 1034.8h10v5.4h-10zM1231.4 953.9h10v5.4h-10zM1239.8 1011h10v5.4h-10zM1244 1053.5h10v5.4h-10zM1249.1 1094.1h10v5.4h-10zM1255.8 1011h10v5.4h-10zM1261.8 1041.6h10v5.4h-10zM1269.4 1068.7h10v5.4h-10zM1272.7 1085.6h10v5.4h-10zM1281.3 1106h10v5.4h-10zM1293.1 1080.6h10v5.4h-10zM1304.9 1073.8h10v5.4h-10zM1313.4 1061.9h10v5.4h-10zM1326.9 1087.3h10v5.4h-10zM1338.7 1085.6h10v5.4h-10zM1352.3 1094.1h10v5.4h-10zM1362.5 1088.2h10v5.4h-10zM1376 1083.1h10v5.4h-10zM1377.7 1100.1h10v5.4h-10zM1382.8 1113.6h10v5.4h-10zM1389.5 1091.6h10v5.4h-10zM1399.7 1120.4h10v5.4h-10zM1408.2 1096.7h10v5.4h-10zM1420 1076.4h10v5.4h-10zM1430.2 1106.9h10v5.4h-10zM1438.6 1071.3h10v5.4h-10zM1457.2 1081.5h10v5.4h-10zM1469 1071.3h10v5.4h-10zM1489.3 1084.8h10v5.4h-10zM1496.1 1062.8h10v5.4h-10zM1511.4 1101.8h10v5.4h-10zM1526.6 1084.8h10v5.4h-10zM1545.2 1078.1h10v5.4h-10zM1562.1 1079.8h10v5.4h-10zM1577.3 1095h10v5.4h-10zM1585.7 1089.9h10v5.4h-10zM1599.2 1069.6h10v5.4h-10zM1612.9 1064.4h10v5.4h-10zM1623 1096.7h10v5.4h-10zM1641.6 1079.7h10v5.4h-10zM1646.7 1081.4h10v5.4h-10zM1660.2 1122.1h10v5.4h-10zM1678.9 1081.4h10v5.4h-10zM1700.8 1081.4h10v5.4h-10zM1709.3 1081.4h10v5.4h-10zM1719.4 1078.9h10v5.4h-10zM1736.3 1092.4h10v5.4h-10zM1758.3 1084.7h10v5.4h-10zM1774.4 1106.9h10v5.4h-10zM1810.6 1084.7h10v5.4h-10zM1831.8 1104.3h10v5.4h-10zM1841.1 1076.3h10v5.4h-10zM1861.4 1076.3h10v5.4h-10z" fill="#ff0000"/>
<path d="M1121.8 793.9 L1313.6 793.9 L1315 801.4 L1321.8 871.7 L1324.3 976 L1327.5 1078.3 L1333.5 1063.3 L1342 1038.3 L1347.1 1021.4 L1348.8 1001 L1352.2 978.1 L1355.6 1048.5 L1357.4 1047.6 L1367.5 1042.5 L1377.6 1049.3 L1389.5 1059.5 L1397.1 1039.1 L1408.9 1034.9 L1422 1053.4 L1441.9 1037.4 L1451.2 1030.7 L1455.5 1040.8 L1475.7 1066.3 L1485.9 1052.7 L1506.1 1052.7 L1519.7 1034 L1543.4 1059.5 L1558.6 1045.9 L1575.5 1040.8 L1577.2 1061.2 L1590.7 1071.4 L1597.5 1052.7 L1606 1047.6 L1619.5 1057.8 L1629.7 1045.9 L1638.1 1045.9 L1650 1040 L1666.9 1052.7 L1690.6 1061.1 L1714.3 1049.3 L1736.2 1057.8 L1751.4 1062.8 L1775.1 1054.4 L1795.4 1054.4 L1815.6 1061.1 L1839.3 1039.1 L1861.4 1059.4 L1869.8 1045.9" fill="none" stroke="#eea6f4" stroke-width="3.5" stroke-linejoin="round"/>
<path d="M1117.6 789.5h8.3v8.7h-8.3zM1309.5 789.5h8.3v8.7h-8.3zM1310.9 797h8.3v8.7h-8.3zM1317.6 867.4h8.3v8.7h-8.3zM1320.1 971.7h8.3v8.7h-8.3zM1323.4 1073.9h8.3v8.7h-8.3zM1329.3 1059h8.3v8.7h-8.3zM1337.9 1034h8.3v8.7h-8.3zM1343 1017h8.3v8.7h-8.3zM1344.7 996.6h8.3v8.7h-8.3zM1348 973.8h8.3v8.7h-8.3zM1351.4 1044.1h8.3v8.7h-8.3zM1353.2 1043.2h8.3v8.7h-8.3zM1363.3 1038.2h8.3v8.7h-8.3zM1373.5 1044.9h8.3v8.7h-8.3zM1385.3 1055.2h8.3v8.7h-8.3zM1393 1034.8h8.3v8.7h-8.3zM1404.8 1030.6h8.3v8.7h-8.3zM1417.8 1049h8.3v8.7h-8.3zM1437.8 1033.1h8.3v8.7h-8.3zM1447 1026.3h8.3v8.7h-8.3zM1451.3 1036.5h8.3v8.7h-8.3zM1471.6 1062h8.3v8.7h-8.3zM1481.7 1048.3h8.3v8.7h-8.3zM1502 1048.3h8.3v8.7h-8.3zM1515.5 1029.7h8.3v8.7h-8.3zM1539.3 1055.2h8.3v8.7h-8.3zM1554.5 1041.5h8.3v8.7h-8.3zM1571.4 1036.5h8.3v8.7h-8.3zM1573.1 1056.9h8.3v8.7h-8.3zM1586.6 1067.1h8.3v8.7h-8.3zM1593.3 1048.3h8.3v8.7h-8.3zM1601.9 1043.2h8.3v8.7h-8.3zM1615.4 1053.4h8.3v8.7h-8.3zM1625.5 1041.5h8.3v8.7h-8.3zM1634 1041.5h8.3v8.7h-8.3zM1645.8 1035.7h8.3v8.7h-8.3zM1662.7 1048.3h8.3v8.7h-8.3zM1686.5 1056.8h8.3v8.7h-8.3zM1710.1 1044.9h8.3v8.7h-8.3zM1732.1 1053.4h8.3v8.7h-8.3zM1747.3 1058.5h8.3v8.7h-8.3zM1770.9 1050h8.3v8.7h-8.3zM1791.2 1050h8.3v8.7h-8.3zM1811.5 1056.8h8.3v8.7h-8.3zM1835.2 1034.8h8.3v8.7h-8.3zM1857.2 1055.1h8.3v8.7h-8.3zM1865.7 1041.5h8.3v8.7h-8.3z" fill="#fff" stroke="#eea6f4" stroke-width="1.7"/><path d="M1116.8 788.7h10v5.4h-10zM1308.6 788.7h10v5.4h-10zM1310 796.2h10v5.4h-10zM1316.8 866.5h10v5.4h-10zM1319.3 970.8h10v5.4h-10zM1322.5 1073.1h10v5.4h-10zM1328.5 1058.1h10v5.4h-10zM1337 1033.1h10v5.4h-10zM1342.1 1016.2h10v5.4h-10zM1343.8 995.8h10v5.4h-10zM1347.2 972.9h10v5.4h-10zM1350.6 1043.3h10v5.4h-10zM1352.4 1042.4h10v5.4h-10zM1362.5 1037.3h10v5.4h-10zM1372.6 1044.1h10v5.4h-10zM1384.5 1054.3h10v5.4h-10zM1392.1 1033.9h10v5.4h-10zM1403.9 1029.7h10v5.4h-10zM1417 1048.2h10v5.4h-10zM1436.9 1032.2h10v5.4h-10zM1446.2 1025.5h10v5.4h-10zM1450.5 1035.6h10v5.4h-10zM1470.7 1061.1h10v5.4h-10zM1480.9 1047.5h10v5.4h-10zM1501.1 1047.5h10v5.4h-10zM1514.7 1028.8h10v5.4h-10zM1538.4 1054.3h10v5.4h-10zM1553.6 1040.7h10v5.4h-10zM1570.5 1035.6h10v5.4h-10zM1572.2 1056h10v5.4h-10zM1585.7 1066.2h10v5.4h-10zM1592.5 1047.5h10v5.4h-10zM1601 1042.4h10v5.4h-10zM1614.5 1052.6h10v5.4h-10zM1624.7 1040.7h10v5.4h-10zM1633.1 1040.7h10v5.4h-10zM1645 1034.8h10v5.4h-10zM1661.9 1047.5h10v5.4h-10zM1685.6 1055.9h10v5.4h-10zM1709.3 1044.1h10v5.4h-10zM1731.2 1052.6h10v5.4h-10zM1746.4 1057.6h10v5.4h-10zM1770.1 1049.2h10v5.4h-10zM1790.4 1049.2h10v5.4h-10zM1810.6 1055.9h10v5.4h-10zM1834.3 1033.9h10v5.4h-10zM1856.4 1054.2h10v5.4h-10zM1864.8 1040.7h10v5.4h-10z" fill="#eea6f4"/>
<path d="M1121.8 793.9 L1151.7 793.9 L1181.7 793.9 L1211.6 793.9 L1241.5 793.9 L1271.5 793.9 L1301.4 793.9 L1331.4 793.9 L1361.3 793.9 L1391.2 793.9 L1421.2 793.9 L1451.1 793.9 L1481 793.9 L1511 793.9 L1540.9 793.9 L1570.8 793.9 L1600.8 793.9 L1630.7 793.9 L1660.7 793.9 L1690.6 793.9 L1720.5 793.9 L1750.5 793.9 L1780.4 793.9 L1810.3 793.9 L1840.3 793.9 L1870.2 793.9" fill="none" stroke="#008000" stroke-width="3.5" stroke-linejoin="round"/>
<path d="" fill="#fff" stroke="#008000" stroke-width="1.7"/><path d="" fill="#008000"/>
<path d="M1121.8 793.9 L1151.7 793.9 L1181.7 793.9 L1211.6 793.9 L1241.5 793.9 L1271.5 793.9 L1301.4 793.9 L1331.4 793.9 L1361.3 793.9 L1391.2 793.9 L1421.2 793.9 L1451.1 793.9 L1481 793.9 L1511 793.9 L1540.9 793.9 L1570.8 793.9 L1600.8 793.9 L1630.7 793.9 L1660.7 793.9 L1690.6 793.9 L1720.5 793.9 L1750.5 793.9 L1780.4 793.9 L1810.3 793.9 L1840.3 793.9 L1870.2 793.9" fill="none" stroke="#d62af0" stroke-width="3.5" stroke-linejoin="round"/>
<path d="" fill="#fff" stroke="#d62af0" stroke-width="1.7"/><path d="" fill="#d62af0"/>
<path d="M1121.8 793.9 L1151.7 793.9 L1181.7 793.9 L1211.6 793.9 L1241.5 793.9 L1271.5 793.9 L1301.4 793.9 L1331.4 793.9 L1361.3 793.9 L1391.2 793.9 L1421.2 793.9 L1451.1 793.9 L1481 793.9 L1511 793.9 L1540.9 793.9 L1570.8 793.9 L1600.8 793.9 L1630.7 793.9 L1660.7 793.9 L1690.6 793.9 L1720.5 793.9 L1750.5 793.9 L1780.4 793.9 L1810.3 793.9 L1840.3 793.9 L1870.2 793.9" fill="none" stroke="#d49b10" stroke-width="3.5" stroke-linejoin="round"/>
<path d="" fill="#fff" stroke="#d49b10" stroke-width="1.7"/><path d="" fill="#d49b10"/>
<path d="M1121.8 793.9 L1151.7 793.9 L1181.7 793.9 L1211.6 793.9 L1241.5 793.9 L1271.5 793.9 L1301.4 793.9 L1331.4 793.9 L1361.3 793.9 L1391.2 793.9 L1421.2 793.9 L1451.1 793.9 L1481 793.9 L1511 793.9 L1540.9 793.9 L1570.8 793.9 L1600.8 793.9 L1630.7 793.9 L1660.7 793.9 L1690.6 793.9 L1720.5 793.9 L1750.5 793.9 L1780.4 793.9 L1810.3 793.9 L1840.3 793.9 L1870.2 793.9" fill="none" stroke="#005f5a" stroke-width="3.5" stroke-linejoin="round"/>
<path d="" fill="#fff" stroke="#005f5a" stroke-width="1.7"/><path d="" fill="#005f5a"/>
<path d="M1121.8 796.3 L1140 796.3 L1158.2 796.3 L1176.4 796.3 L1179.1 1069 L1189 909.9 L1194.7 1061.1 L1206.5 1020.7 L1216.9 1040.3 L1219.5 1066.3 L1235.5 1067.9 L1249 1056.1 L1249 1075.6 L1254.1 1089.1 L1264.2 1107.8 L1272.7 1136.7 L1276.9 1111.2 L1282.8 1097.6 L1290.5 1048.5 L1298.1 1079 L1304 1097.6 L1309.9 1053.6 L1315.8 1089.1 L1320.1 1056.1 L1331.9 1054.4 L1343.7 1099.3 L1347.1 1050.2 L1357.4 1057.9 L1364.1 1062.9 L1373.5 1086.7 L1381 1062.9 L1388.7 1069.7 L1401.3 1052.7 L1407.2 1081.6 L1410.6 1123.9 L1423.3 1064.6 L1430.1 1039.1 L1435.2 1062.9 L1447.8 1130.7 L1452.9 1085 L1463.9 1057.9 L1471.6 1081.6 L1482.5 1076.5 L1490.9 1057.9 L1501.1 1074.8 L1512.9 1081.6 L1521.3 1079.9 L1531.6 1047.6 L1540 1090 L1547.6 1100.2 L1560.3 1071.4 L1568.8 1076.5 L1582.3 1083.3 L1590.7 1098.5 L1599.3 1069.6 L1609.4 1084.9 L1624.6 1096.8 L1644.9 1103.6 L1648.3 1071.3 L1671.1 1045.9 L1674.5 1079.8 L1684.6 1127.3 L1692.3 1071.3 L1702.4 1047.6 L1710.9 1074.7 L1718.4 1049.3 L1732 1076.4 L1741.3 1054.4 L1755.6 1089.9 L1772.5 1052.7 L1781.9 1084.9 L1792.9 1046.8 L1805.5 1088.2 L1830.9 1059.4 L1842.7 1086.6 L1862.2 1069.6 L1866.4 1088.2" fill="none" stroke="#0000ff" stroke-width="3.5" stroke-linejoin="round"/>
<path d="M1117.6 791.9h8.3v8.7h-8.3zM1135.8 791.9h8.3v8.7h-8.3zM1154 791.9h8.3v8.7h-8.3zM1172.2 791.9h8.3v8.7h-8.3zM1175 1064.7h8.3v8.7h-8.3zM1184.8 905.5h8.3v8.7h-8.3zM1190.6 1056.8h8.3v8.7h-8.3zM1202.3 1016.3h8.3v8.7h-8.3zM1212.8 1036h8.3v8.7h-8.3zM1215.3 1062h8.3v8.7h-8.3zM1231.3 1063.6h8.3v8.7h-8.3zM1244.9 1051.7h8.3v8.7h-8.3zM1244.9 1071.2h8.3v8.7h-8.3zM1249.9 1084.8h8.3v8.7h-8.3zM1260.1 1103.4h8.3v8.7h-8.3zM1268.5 1132.3h8.3v8.7h-8.3zM1272.8 1106.8h8.3v8.7h-8.3zM1278.7 1093.3h8.3v8.7h-8.3zM1286.3 1044.1h8.3v8.7h-8.3zM1294 1074.6h8.3v8.7h-8.3zM1299.8 1093.3h8.3v8.7h-8.3zM1305.8 1049.2h8.3v8.7h-8.3zM1311.7 1084.8h8.3v8.7h-8.3zM1315.9 1051.7h8.3v8.7h-8.3zM1327.8 1050h8.3v8.7h-8.3zM1339.6 1095h8.3v8.7h-8.3zM1343 1045.8h8.3v8.7h-8.3zM1353.2 1053.5h8.3v8.7h-8.3zM1360 1058.6h8.3v8.7h-8.3zM1369.3 1082.3h8.3v8.7h-8.3zM1376.9 1058.6h8.3v8.7h-8.3zM1384.5 1065.4h8.3v8.7h-8.3zM1397.1 1048.3h8.3v8.7h-8.3zM1403.1 1077.2h8.3v8.7h-8.3zM1406.5 1119.6h8.3v8.7h-8.3zM1419.2 1060.3h8.3v8.7h-8.3zM1426 1034.8h8.3v8.7h-8.3zM1431 1058.6h8.3v8.7h-8.3zM1443.6 1126.3h8.3v8.7h-8.3zM1448.7 1080.6h8.3v8.7h-8.3zM1459.7 1053.5h8.3v8.7h-8.3zM1467.4 1077.2h8.3v8.7h-8.3zM1478.3 1072.1h8.3v8.7h-8.3zM1486.8 1053.5h8.3v8.7h-8.3zM1496.9 1070.4h8.3v8.7h-8.3zM1508.7 1077.2h8.3v8.7h-8.3zM1517.2 1075.5h8.3v8.7h-8.3zM1527.4 1043.2h8.3v8.7h-8.3zM1535.9 1085.7h8.3v8.7h-8.3zM1543.4 1095.9h8.3v8.7h-8.3zM1556.2 1067.1h8.3v8.7h-8.3zM1564.6 1072.1h8.3v8.7h-8.3zM1578.1 1078.9h8.3v8.7h-8.3zM1586.6 1094.2h8.3v8.7h-8.3zM1595.1 1065.3h8.3v8.7h-8.3zM1605.3 1080.5h8.3v8.7h-8.3zM1620.5 1092.5h8.3v8.7h-8.3zM1640.7 1099.2h8.3v8.7h-8.3zM1644.1 1067h8.3v8.7h-8.3zM1667 1041.5h8.3v8.7h-8.3zM1670.4 1075.4h8.3v8.7h-8.3zM1680.5 1123h8.3v8.7h-8.3zM1688.2 1067h8.3v8.7h-8.3zM1698.3 1043.2h8.3v8.7h-8.3zM1706.7 1070.3h8.3v8.7h-8.3zM1714.3 1044.9h8.3v8.7h-8.3zM1727.8 1072h8.3v8.7h-8.3zM1737.2 1050h8.3v8.7h-8.3zM1751.5 1085.6h8.3v8.7h-8.3zM1768.4 1048.3h8.3v8.7h-8.3zM1777.7 1080.5h8.3v8.7h-8.3zM1788.7 1042.4h8.3v8.7h-8.3zM1801.4 1083.9h8.3v8.7h-8.3zM1826.7 1055.1h8.3v8.7h-8.3zM1838.5 1082.2h8.3v8.7h-8.3zM1858 1065.3h8.3v8.7h-8.3zM1862.3 1083.9h8.3v8.7h-8.3z" fill="#fff" stroke="#0000ff" stroke-width="1.7"/><path d="M1116.8 791.1h10v5.4h-10zM1135 791.1h10v5.4h-10zM1153.2 791.1h10v5.4h-10zM1171.4 791.1h10v5.4h-10zM1174.1 1063.8h10v5.4h-10zM1184 904.7h10v5.4h-10zM1189.7 1055.9h10v5.4h-10zM1201.5 1015.5h10v5.4h-10zM1211.9 1035.1h10v5.4h-10zM1214.5 1061.1h10v5.4h-10zM1230.5 1062.7h10v5.4h-10zM1244 1050.9h10v5.4h-10zM1244 1070.4h10v5.4h-10zM1249.1 1083.9h10v5.4h-10zM1259.2 1102.6h10v5.4h-10zM1267.7 1131.5h10v5.4h-10zM1271.9 1106h10v5.4h-10zM1277.8 1092.4h10v5.4h-10zM1285.5 1043.3h10v5.4h-10zM1293.1 1073.8h10v5.4h-10zM1299 1092.4h10v5.4h-10zM1304.9 1048.4h10v5.4h-10zM1310.8 1083.9h10v5.4h-10zM1315.1 1050.9h10v5.4h-10zM1326.9 1049.2h10v5.4h-10zM1338.7 1094.1h10v5.4h-10zM1342.1 1045h10v5.4h-10zM1352.4 1052.7h10v5.4h-10zM1359.1 1057.7h10v5.4h-10zM1368.5 1081.5h10v5.4h-10zM1376 1057.7h10v5.4h-10zM1383.7 1064.5h10v5.4h-10zM1396.3 1047.5h10v5.4h-10zM1402.2 1076.4h10v5.4h-10zM1405.6 1118.7h10v5.4h-10zM1418.3 1059.4h10v5.4h-10zM1425.1 1033.9h10v5.4h-10zM1430.2 1057.7h10v5.4h-10zM1442.8 1125.5h10v5.4h-10zM1447.9 1079.8h10v5.4h-10zM1458.9 1052.7h10v5.4h-10zM1466.6 1076.4h10v5.4h-10zM1477.5 1071.3h10v5.4h-10zM1485.9 1052.7h10v5.4h-10zM1496.1 1069.6h10v5.4h-10zM1507.9 1076.4h10v5.4h-10zM1516.3 1074.7h10v5.4h-10zM1526.6 1042.4h10v5.4h-10zM1535 1084.8h10v5.4h-10zM1542.6 1095h10v5.4h-10zM1555.3 1066.2h10v5.4h-10zM1563.8 1071.3h10v5.4h-10zM1577.3 1078.1h10v5.4h-10zM1585.7 1093.3h10v5.4h-10zM1594.3 1064.4h10v5.4h-10zM1604.4 1079.7h10v5.4h-10zM1619.6 1091.6h10v5.4h-10zM1639.9 1098.4h10v5.4h-10zM1643.3 1066.1h10v5.4h-10zM1666.1 1040.7h10v5.4h-10zM1669.5 1074.6h10v5.4h-10zM1679.6 1122.1h10v5.4h-10zM1687.3 1066.1h10v5.4h-10zM1697.4 1042.4h10v5.4h-10zM1705.9 1069.5h10v5.4h-10zM1713.4 1044.1h10v5.4h-10zM1727 1071.2h10v5.4h-10zM1736.3 1049.2h10v5.4h-10zM1750.6 1084.7h10v5.4h-10zM1767.5 1047.5h10v5.4h-10zM1776.9 1079.7h10v5.4h-10zM1787.9 1041.6h10v5.4h-10zM1800.5 1083h10v5.4h-10zM1825.9 1054.2h10v5.4h-10zM1837.7 1081.4h10v5.4h-10zM1857.2 1064.4h10v5.4h-10zM1861.4 1083h10v5.4h-10z" fill="#0000ff"/>
<path d="M1122 794.5 L1871 794.5" fill="none" stroke="#660080" stroke-width="4.2" stroke-linejoin="round"/>
<path d="M1120.1 790.1h8.3v8.7h-8.3zM1151 790.1h8.3v8.7h-8.3zM1189.1 790.1h8.3v8.7h-8.3zM1216.8 790.1h8.3v8.7h-8.3zM1217.3 790.1h8.3v8.7h-8.3zM1255.8 790.1h8.3v8.7h-8.3zM1256.4 790.1h8.3v8.7h-8.3zM1288.3 790.1h8.3v8.7h-8.3zM1288.8 790.1h8.3v8.7h-8.3zM1310.2 790.1h8.3v8.7h-8.3zM1319 790.1h8.3v8.7h-8.3zM1327.8 790.1h8.3v8.7h-8.3zM1336.6 790.1h8.3v8.7h-8.3zM1345.4 790.1h8.3v8.7h-8.3zM1354.2 790.1h8.3v8.7h-8.3zM1362.9 790.1h8.3v8.7h-8.3zM1371.7 790.1h8.3v8.7h-8.3zM1380.5 790.1h8.3v8.7h-8.3zM1389.3 790.1h8.3v8.7h-8.3zM1398.1 790.1h8.3v8.7h-8.3zM1406.8 790.1h8.3v8.7h-8.3zM1421.6 790.1h8.3v8.7h-8.3zM1427.8 790.1h8.3v8.7h-8.3zM1446.4 790.1h8.3v8.7h-8.3zM1455.6 790.1h8.3v8.7h-8.3zM1464.8 790.1h8.3v8.7h-8.3zM1481.6 790.1h8.3v8.7h-8.3zM1482.8 790.1h8.3v8.7h-8.3zM1497.8 790.1h8.3v8.7h-8.3zM1506.1 790.1h8.3v8.7h-8.3zM1514.4 790.1h8.3v8.7h-8.3zM1522.6 790.1h8.3v8.7h-8.3zM1537.5 790.1h8.3v8.7h-8.3zM1546.6 790.1h8.3v8.7h-8.3zM1555.6 790.1h8.3v8.7h-8.3zM1570.5 790.1h8.3v8.7h-8.3zM1578 790.1h8.3v8.7h-8.3zM1585.5 790.1h8.3v8.7h-8.3zM1593 790.1h8.3v8.7h-8.3zM1600.4 790.1h8.3v8.7h-8.3zM1615.2 790.1h8.3v8.7h-8.3zM1624 790.1h8.3v8.7h-8.3zM1632.7 790.1h8.3v8.7h-8.3zM1641.3 790.1h8.3v8.7h-8.3zM1650 790.1h8.3v8.7h-8.3zM1658.8 790.1h8.3v8.7h-8.3zM1672.6 790.1h8.3v8.7h-8.3zM1673.3 790.1h8.3v8.7h-8.3zM1688.1 790.1h8.3v8.7h-8.3zM1697.2 790.1h8.3v8.7h-8.3zM1706.3 790.1h8.3v8.7h-8.3zM1732.8 790.1h8.3v8.7h-8.3zM1740.3 790.1h8.3v8.7h-8.3zM1771.8 790.1h8.3v8.7h-8.3zM1772.4 790.1h8.3v8.7h-8.3zM1812.5 790.1h8.3v8.7h-8.3zM1813.2 790.1h8.3v8.7h-8.3zM1835.8 790.1h8.3v8.7h-8.3zM1856.3 790.1h8.3v8.7h-8.3zM1863.8 790.1h8.3v8.7h-8.3z" fill="#fff" stroke="#660080" stroke-width="1.7"/><path d="M1119.2 789.3h10v5.4h-10zM1150.2 789.3h10v5.4h-10zM1188.2 789.3h10v5.4h-10zM1216 789.3h10v5.4h-10zM1216.5 789.3h10v5.4h-10zM1255 789.3h10v5.4h-10zM1255.6 789.3h10v5.4h-10zM1287.5 789.3h10v5.4h-10zM1288 789.3h10v5.4h-10zM1309.4 789.3h10v5.4h-10zM1318.2 789.3h10v5.4h-10zM1327 789.3h10v5.4h-10zM1335.7 789.3h10v5.4h-10zM1344.5 789.3h10v5.4h-10zM1353.3 789.3h10v5.4h-10zM1362.1 789.3h10v5.4h-10zM1370.9 789.3h10v5.4h-10zM1379.7 789.3h10v5.4h-10zM1388.4 789.3h10v5.4h-10zM1397.2 789.3h10v5.4h-10zM1406 789.3h10v5.4h-10zM1420.8 789.3h10v5.4h-10zM1427 789.3h10v5.4h-10zM1445.6 789.3h10v5.4h-10zM1454.8 789.3h10v5.4h-10zM1464 789.3h10v5.4h-10zM1480.8 789.3h10v5.4h-10zM1482 789.3h10v5.4h-10zM1497 789.3h10v5.4h-10zM1505.3 789.3h10v5.4h-10zM1513.5 789.3h10v5.4h-10zM1521.8 789.3h10v5.4h-10zM1536.7 789.3h10v5.4h-10zM1545.8 789.3h10v5.4h-10zM1554.8 789.3h10v5.4h-10zM1569.7 789.3h10v5.4h-10zM1577.2 789.3h10v5.4h-10zM1584.7 789.3h10v5.4h-10zM1592.1 789.3h10v5.4h-10zM1599.6 789.3h10v5.4h-10zM1614.4 789.3h10v5.4h-10zM1623.1 789.3h10v5.4h-10zM1631.8 789.3h10v5.4h-10zM1640.5 789.3h10v5.4h-10zM1649.2 789.3h10v5.4h-10zM1657.9 789.3h10v5.4h-10zM1671.8 789.3h10v5.4h-10zM1672.5 789.3h10v5.4h-10zM1687.3 789.3h10v5.4h-10zM1696.4 789.3h10v5.4h-10zM1705.5 789.3h10v5.4h-10zM1732 789.3h10v5.4h-10zM1739.5 789.3h10v5.4h-10zM1770.9 789.3h10v5.4h-10zM1771.6 789.3h10v5.4h-10zM1811.7 789.3h10v5.4h-10zM1812.4 789.3h10v5.4h-10zM1834.9 789.3h10v5.4h-10zM1855.5 789.3h10v5.4h-10zM1863 789.3h10v5.4h-10z" fill="#660080"/>
<rect x="1120.5" y="774" width="752" height="606.7" fill="none" stroke="#000" stroke-width="2.8"/>
<g class="tl"><text x="1120.5" y="1418" text-anchor="middle">0</text><text x="1245.8" y="1418" text-anchor="middle">100</text><text x="1371.2" y="1418" text-anchor="middle">200</text><text x="1496.5" y="1418" text-anchor="middle">300</text><text x="1621.8" y="1418" text-anchor="middle">400</text><text x="1747.2" y="1418" text-anchor="middle">500</text><text x="1872.5" y="1418" text-anchor="middle">600</text><text x="1107" y="1390.6" text-anchor="end">0.0</text><text x="1107" y="1292.8" text-anchor="end">0.5</text><text x="1107" y="1195" text-anchor="end">1.0</text><text x="1107" y="1097.2" text-anchor="end">1.5</text><text x="1107" y="999.4" text-anchor="end">2.0</text><text x="1107" y="901.6" text-anchor="end">2.5</text><text x="1107" y="803.8" text-anchor="end">3.0</text></g>
<text class="at" x="1500.6" y="1453.8" text-anchor="middle">Time/s</text>
<text class="ht" transform="translate(1050.2 1102.5) rotate(-90)" text-anchor="middle">Height/m</text>
<path d="M1887 796.7 H1958.9" stroke="#000000" stroke-width="4.2"/><rect x="1918" y="792.2" width="8.2" height="9" fill="#fff" stroke="#000000" stroke-width="1.8"/><rect x="1917" y="791.3" width="10" height="5.7" fill="#000000"/><text class="lg" x="1974.6" y="808.2">A</text><path d="M1887 839.4 H1958.9" stroke="#ff0000" stroke-width="4.2"/><rect x="1918" y="834.9" width="8.2" height="9" fill="#fff" stroke="#ff0000" stroke-width="1.8"/><rect x="1917" y="834" width="10" height="5.7" fill="#ff0000"/><text class="lg" x="1974.6" y="850.9">B</text><path d="M1887 882.1 H1958.9" stroke="#eea6f4" stroke-width="4.2"/><rect x="1918" y="877.6" width="8.2" height="9" fill="#fff" stroke="#eea6f4" stroke-width="1.8"/><rect x="1917" y="876.7" width="10" height="5.7" fill="#eea6f4"/><text class="lg" x="1974.6" y="893.6">C</text><path d="M1887 924.8 H1958.9" stroke="#008000" stroke-width="4.2"/><rect x="1918" y="920.3" width="8.2" height="9" fill="#fff" stroke="#008000" stroke-width="1.8"/><rect x="1917" y="919.4" width="10" height="5.7" fill="#008000"/><text class="lg" x="1974.6" y="936.3">D</text><path d="M1887 967.5 H1958.9" stroke="#d62af0" stroke-width="4.2"/><rect x="1918" y="963" width="8.2" height="9" fill="#fff" stroke="#d62af0" stroke-width="1.8"/><rect x="1917" y="962.1" width="10" height="5.7" fill="#d62af0"/><text class="lg" x="1974.6" y="979">E</text><path d="M1887 1010.2 H1958.9" stroke="#d49b10" stroke-width="4.2"/><rect x="1918" y="1005.7" width="8.2" height="9" fill="#fff" stroke="#d49b10" stroke-width="1.8"/><rect x="1917" y="1004.8" width="10" height="5.7" fill="#d49b10"/><text class="lg" x="1974.6" y="1021.7">F</text><path d="M1887 1052.9 H1958.9" stroke="#005f5a" stroke-width="4.2"/><rect x="1918" y="1048.4" width="8.2" height="9" fill="#fff" stroke="#005f5a" stroke-width="1.8"/><rect x="1917" y="1047.5" width="10" height="5.7" fill="#005f5a"/><text class="lg" x="1974.6" y="1064.4">G</text><path d="M1887 1095.6 H1958.9" stroke="#0000ff" stroke-width="4.2"/><rect x="1918" y="1091.1" width="8.2" height="9" fill="#fff" stroke="#0000ff" stroke-width="1.8"/><rect x="1917" y="1090.2" width="10" height="5.7" fill="#0000ff"/><text class="lg" x="1974.6" y="1107.1">J</text><path d="M1887 1138.3 H1958.9" stroke="#660080" stroke-width="4.2"/><rect x="1918" y="1133.8" width="8.2" height="9" fill="#fff" stroke="#660080" stroke-width="1.8"/><rect x="1917" y="1132.9" width="10" height="5.7" fill="#660080"/><text class="lg" x="1974.6" y="1149.8">K</text>
<text class="par" transform="translate(1363 1515.3) scale(1.25 1)">（</text><text class="cap" x="1408.6" y="1514.7">d.1.2m</text><text class="par" transform="translate(1525.3 1515.3) scale(1.25 1)">）</text>
</svg>
</body></html>
